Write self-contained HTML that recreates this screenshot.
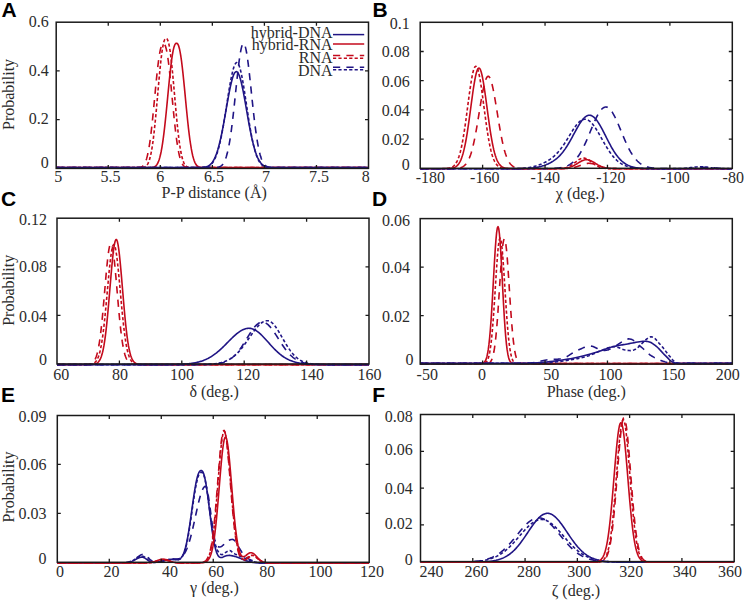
<!DOCTYPE html>
<html><head><meta charset="utf-8"><style>
html,body{margin:0;padding:0;background:#fff;}
svg{display:block;}
text{font-family:'Liberation Serif', serif;font-size:16px;fill:#2b2b2b;}
text.L{font-family:'Liberation Sans',sans-serif;font-weight:bold;font-size:21px;fill:#000;}
</style></head><body>
<svg width="744" height="600" viewBox="0 0 744 600">
<clipPath id='cA'><rect x='56.2' y='22.2' width='312.3' height='149.2'/></clipPath>
<g clip-path='url(#cA)' fill='none' stroke-width='1.6' stroke-linejoin='round'>
<polyline stroke='#c40a1c' points='56.2,167.6 56.9,167.6 57.6,167.6 58.3,167.6 59,167.6 59.7,167.6 60.4,167.6 61.1,167.6 61.8,167.6 62.5,167.6 63.2,167.6 63.9,167.6 64.6,167.6 65.3,167.6 66,167.6 66.7,167.6 67.4,167.6 68.1,167.6 68.8,167.6 69.5,167.6 70.2,167.6 70.9,167.6 71.6,167.6 72.31,167.6 73.01,167.6 73.71,167.6 74.41,167.6 75.11,167.6 75.81,167.6 76.51,167.6 77.21,167.6 77.91,167.6 78.61,167.6 79.31,167.6 80.01,167.6 80.71,167.6 81.41,167.6 82.11,167.6 82.81,167.6 83.51,167.6 84.21,167.6 84.91,167.6 85.61,167.6 86.31,167.6 87.01,167.6 87.71,167.6 88.41,167.6 89.11,167.6 89.81,167.6 90.51,167.6 91.21,167.6 91.91,167.6 92.61,167.6 93.31,167.6 94.01,167.6 94.71,167.6 95.41,167.6 96.11,167.6 96.81,167.6 97.51,167.6 98.21,167.6 98.91,167.6 99.61,167.6 100.31,167.6 101.01,167.6 101.71,167.6 102.41,167.6 103.12,167.6 103.82,167.6 104.52,167.6 105.22,167.6 105.92,167.6 106.62,167.6 107.32,167.6 108.02,167.6 108.72,167.6 109.42,167.6 110.12,167.6 110.82,167.6 111.52,167.6 112.22,167.6 112.92,167.6 113.62,167.6 114.32,167.6 115.02,167.6 115.72,167.6 116.42,167.6 117.12,167.6 117.82,167.6 118.52,167.6 119.22,167.6 119.92,167.6 120.62,167.6 121.32,167.6 122.02,167.6 122.72,167.6 123.42,167.6 124.12,167.6 124.82,167.6 125.52,167.6 126.22,167.6 126.92,167.6 127.62,167.6 128.32,167.6 129.02,167.6 129.72,167.6 130.42,167.6 131.12,167.6 131.82,167.6 132.52,167.6 133.22,167.6 133.92,167.6 134.63,167.6 135.33,167.6 136.03,167.6 136.73,167.6 137.43,167.6 138.13,167.6 138.83,167.6 139.53,167.6 140.23,167.6 140.93,167.6 141.63,167.6 142.33,167.6 143.03,167.6 143.73,167.6 144.43,167.6 145.13,167.6 145.83,167.6 146.53,167.6 147.23,167.59 147.93,167.59 148.63,167.58 149.33,167.57 150.03,167.55 150.73,167.52 151.43,167.47 152.13,167.4 152.83,167.3 153.53,167.15 154.23,166.92 154.93,166.57 155.63,166.08 156.33,165.39 157.03,164.46 157.73,163.24 158.43,161.68 159.13,159.75 159.83,157.39 160.53,154.56 161.23,151.23 161.93,147.35 162.63,142.92 163.33,137.93 164.03,132.4 164.73,126.35 165.43,119.86 166.14,113 166.84,105.86 167.54,98.57 168.24,91.26 168.94,84.06 169.64,77.12 170.34,70.57 171.04,64.54 171.74,59.16 172.44,54.5 173.14,50.63 173.84,47.6 174.54,45.4 175.24,44 175.94,43.32 176.64,43.2 177.34,43.51 178.04,44.46 178.74,46.17 179.44,48.7 180.14,52.07 180.84,56.25 181.54,61.21 182.24,66.86 182.94,73.1 183.64,79.82 184.34,86.88 185.04,94.14 185.74,101.47 186.44,108.71 187.14,115.75 187.84,122.48 188.54,128.8 189.24,134.65 189.94,139.98 190.64,144.74 191.34,148.95 192.04,152.61 192.74,155.74 193.44,158.37 194.14,160.56 194.84,162.34 195.54,163.76 196.24,164.86 196.95,165.69 197.65,166.3 198.35,166.72 199.05,167.02 199.75,167.22 200.45,167.35 201.15,167.44 201.85,167.49 202.55,167.53 203.25,167.56 203.95,167.57 204.65,167.58 205.35,167.59 206.05,167.59 206.75,167.6 207.45,167.6 208.15,167.6 208.85,167.6 209.55,167.6 210.25,167.6 210.95,167.6 211.65,167.6 212.35,167.6 213.05,167.6 213.75,167.6 214.45,167.6 215.15,167.6 215.85,167.6 216.55,167.6 217.25,167.6 217.95,167.6 218.65,167.6 219.35,167.6 220.05,167.6 220.75,167.6 221.45,167.6 222.15,167.6 222.85,167.6 223.55,167.6 224.25,167.6 224.95,167.6 225.65,167.6 226.35,167.6 227.05,167.6 227.75,167.6 228.46,167.6 229.16,167.6 229.86,167.6 230.56,167.6 231.26,167.6 231.96,167.6 232.66,167.6 233.36,167.6 234.06,167.6 234.76,167.6 235.46,167.6 236.16,167.6 236.86,167.6 237.56,167.6 238.26,167.6 238.96,167.6 239.66,167.6 240.36,167.6 241.06,167.6 241.76,167.6 242.46,167.6 243.16,167.6 243.86,167.6 244.56,167.6 245.26,167.6 245.96,167.6 246.66,167.6 247.36,167.6 248.06,167.6 248.76,167.6 249.46,167.6 250.16,167.6 250.86,167.6 251.56,167.6 252.26,167.6 252.96,167.6 253.66,167.6 254.36,167.6 255.06,167.6 255.76,167.6 256.46,167.6 257.16,167.6 257.86,167.6 258.56,167.6 259.27,167.6 259.97,167.6 260.67,167.6 261.37,167.6 262.07,167.6 262.77,167.6 263.47,167.6 264.17,167.6 264.87,167.6 265.57,167.6 266.27,167.6 266.97,167.6 267.67,167.6 268.37,167.6 269.07,167.6 269.77,167.6 270.47,167.6 271.17,167.6 271.87,167.6 272.57,167.6 273.27,167.6 273.97,167.6 274.67,167.6 275.37,167.6 276.07,167.6 276.77,167.6 277.47,167.6 278.17,167.6 278.87,167.6 279.57,167.6 280.27,167.6 280.97,167.6 281.67,167.6 282.37,167.6 283.07,167.6 283.77,167.6 284.47,167.6 285.17,167.6 285.87,167.6 286.57,167.6 287.27,167.6 287.97,167.6 288.67,167.6 289.37,167.6 290.07,167.6 290.78,167.6 291.48,167.6 292.18,167.6 292.88,167.6 293.58,167.6 294.28,167.6 294.98,167.6 295.68,167.6 296.38,167.6 297.08,167.6 297.78,167.6 298.48,167.6 299.18,167.6 299.88,167.6 300.58,167.6 301.28,167.6 301.98,167.6 302.68,167.6 303.38,167.6 304.08,167.6 304.78,167.6 305.48,167.6 306.18,167.6 306.88,167.6 307.58,167.6 308.28,167.6 308.98,167.6 309.68,167.6 310.38,167.6 311.08,167.6 311.78,167.6 312.48,167.6 313.18,167.6 313.88,167.6 314.58,167.6 315.28,167.6 315.98,167.6 316.68,167.6 317.38,167.6 318.08,167.6 318.78,167.6 319.48,167.6 320.18,167.6 320.88,167.6 321.58,167.6 322.29,167.6 322.99,167.6 323.69,167.6 324.39,167.6 325.09,167.6 325.79,167.6 326.49,167.6 327.19,167.6 327.89,167.6 328.59,167.6 329.29,167.6 329.99,167.6 330.69,167.6 331.39,167.6 332.09,167.6 332.79,167.6 333.49,167.6 334.19,167.6 334.89,167.6 335.59,167.6 336.29,167.6 336.99,167.6 337.69,167.6 338.39,167.6 339.09,167.6 339.79,167.6 340.49,167.6 341.19,167.6 341.89,167.6 342.59,167.6 343.29,167.6 343.99,167.6 344.69,167.6 345.39,167.6 346.09,167.6 346.79,167.6 347.49,167.6 348.19,167.6 348.89,167.6 349.59,167.6 350.29,167.6 350.99,167.6 351.69,167.6 352.39,167.6 353.1,167.6 353.8,167.6 354.5,167.6 355.2,167.6 355.9,167.6 356.6,167.6 357.3,167.6 358,167.6 358.7,167.6 359.4,167.6 360.1,167.6 360.8,167.6 361.5,167.6 362.2,167.6 362.9,167.6 363.6,167.6 364.3,167.6 365,167.6 365.7,167.6 366.4,167.6 367.1,167.6 367.8,167.6 368.5,167.6'/>
<polyline stroke='#c40a1c' stroke-dasharray='7.2,6.2' points='56.2,167.6 56.9,167.6 57.6,167.6 58.3,167.6 59,167.6 59.7,167.6 60.4,167.6 61.1,167.6 61.8,167.6 62.5,167.6 63.2,167.6 63.9,167.6 64.6,167.6 65.3,167.6 66,167.6 66.7,167.6 67.4,167.6 68.1,167.6 68.8,167.6 69.5,167.6 70.2,167.6 70.9,167.6 71.6,167.6 72.31,167.6 73.01,167.6 73.71,167.6 74.41,167.6 75.11,167.6 75.81,167.6 76.51,167.6 77.21,167.6 77.91,167.6 78.61,167.6 79.31,167.6 80.01,167.6 80.71,167.6 81.41,167.6 82.11,167.6 82.81,167.6 83.51,167.6 84.21,167.6 84.91,167.6 85.61,167.6 86.31,167.6 87.01,167.6 87.71,167.6 88.41,167.6 89.11,167.6 89.81,167.6 90.51,167.6 91.21,167.6 91.91,167.6 92.61,167.6 93.31,167.6 94.01,167.6 94.71,167.6 95.41,167.6 96.11,167.6 96.81,167.6 97.51,167.6 98.21,167.6 98.91,167.6 99.61,167.6 100.31,167.6 101.01,167.6 101.71,167.6 102.41,167.6 103.12,167.6 103.82,167.6 104.52,167.6 105.22,167.6 105.92,167.6 106.62,167.6 107.32,167.6 108.02,167.6 108.72,167.6 109.42,167.6 110.12,167.6 110.82,167.6 111.52,167.6 112.22,167.6 112.92,167.6 113.62,167.6 114.32,167.6 115.02,167.6 115.72,167.6 116.42,167.6 117.12,167.6 117.82,167.6 118.52,167.6 119.22,167.6 119.92,167.6 120.62,167.6 121.32,167.6 122.02,167.6 122.72,167.6 123.42,167.6 124.12,167.6 124.82,167.6 125.52,167.6 126.22,167.6 126.92,167.6 127.62,167.6 128.32,167.6 129.02,167.6 129.72,167.6 130.42,167.6 131.12,167.6 131.82,167.6 132.52,167.6 133.22,167.6 133.92,167.59 134.63,167.59 135.33,167.59 136.03,167.58 136.73,167.56 137.43,167.54 138.13,167.51 138.83,167.46 139.53,167.38 140.23,167.27 140.93,167.09 141.63,166.83 142.33,166.44 143.03,165.89 143.73,165.12 144.43,164.09 145.13,162.74 145.83,161.03 146.53,158.91 147.23,156.35 147.93,153.29 148.63,149.7 149.33,145.54 150.03,140.81 150.73,135.52 151.43,129.68 152.13,123.34 152.83,116.58 153.53,109.5 154.23,102.19 154.93,94.8 155.63,87.46 156.33,80.31 157.03,73.52 157.73,67.2 158.43,61.5 159.13,56.5 159.83,52.3 160.53,48.94 161.23,46.43 161.93,44.76 162.63,43.86 163.33,43.6 164.03,43.77 164.73,44.54 165.43,46.06 166.14,48.4 166.84,51.61 167.54,55.65 168.24,60.5 168.94,66.08 169.64,72.29 170.34,79.01 171.04,86.1 171.74,93.41 172.44,100.81 173.14,108.14 173.84,115.28 174.54,122.1 175.24,128.52 175.94,134.46 176.64,139.86 177.34,144.7 178.04,148.96 178.74,152.66 179.44,155.82 180.14,158.47 180.84,160.66 181.54,162.44 182.24,163.86 182.94,164.95 183.64,165.77 184.34,166.36 185.04,166.77 185.74,167.05 186.44,167.24 187.14,167.37 187.84,167.45 188.54,167.5 189.24,167.54 189.94,167.56 190.64,167.57 191.34,167.58 192.04,167.59 192.74,167.59 193.44,167.6 194.14,167.6 194.84,167.6 195.54,167.6 196.24,167.6 196.95,167.6 197.65,167.6 198.35,167.6 199.05,167.6 199.75,167.6 200.45,167.6 201.15,167.6 201.85,167.6 202.55,167.6 203.25,167.6 203.95,167.6 204.65,167.6 205.35,167.6 206.05,167.6 206.75,167.6 207.45,167.6 208.15,167.6 208.85,167.6 209.55,167.6 210.25,167.6 210.95,167.6 211.65,167.6 212.35,167.6 213.05,167.6 213.75,167.6 214.45,167.6 215.15,167.6 215.85,167.6 216.55,167.6 217.25,167.6 217.95,167.6 218.65,167.6 219.35,167.6 220.05,167.6 220.75,167.6 221.45,167.6 222.15,167.6 222.85,167.6 223.55,167.6 224.25,167.6 224.95,167.6 225.65,167.6 226.35,167.6 227.05,167.6 227.75,167.6 228.46,167.6 229.16,167.6 229.86,167.6 230.56,167.6 231.26,167.6 231.96,167.6 232.66,167.6 233.36,167.6 234.06,167.6 234.76,167.6 235.46,167.6 236.16,167.6 236.86,167.6 237.56,167.6 238.26,167.6 238.96,167.6 239.66,167.6 240.36,167.6 241.06,167.6 241.76,167.6 242.46,167.6 243.16,167.6 243.86,167.6 244.56,167.6 245.26,167.6 245.96,167.6 246.66,167.6 247.36,167.6 248.06,167.6 248.76,167.6 249.46,167.6 250.16,167.6 250.86,167.6 251.56,167.6 252.26,167.6 252.96,167.6 253.66,167.6 254.36,167.6 255.06,167.6 255.76,167.6 256.46,167.6 257.16,167.6 257.86,167.6 258.56,167.6 259.27,167.6 259.97,167.6 260.67,167.6 261.37,167.6 262.07,167.6 262.77,167.6 263.47,167.6 264.17,167.6 264.87,167.6 265.57,167.6 266.27,167.6 266.97,167.6 267.67,167.6 268.37,167.6 269.07,167.6 269.77,167.6 270.47,167.6 271.17,167.6 271.87,167.6 272.57,167.6 273.27,167.6 273.97,167.6 274.67,167.6 275.37,167.6 276.07,167.6 276.77,167.6 277.47,167.6 278.17,167.6 278.87,167.6 279.57,167.6 280.27,167.6 280.97,167.6 281.67,167.6 282.37,167.6 283.07,167.6 283.77,167.6 284.47,167.6 285.17,167.6 285.87,167.6 286.57,167.6 287.27,167.6 287.97,167.6 288.67,167.6 289.37,167.6 290.07,167.6 290.78,167.6 291.48,167.6 292.18,167.6 292.88,167.6 293.58,167.6 294.28,167.6 294.98,167.6 295.68,167.6 296.38,167.6 297.08,167.6 297.78,167.6 298.48,167.6 299.18,167.6 299.88,167.6 300.58,167.6 301.28,167.6 301.98,167.6 302.68,167.6 303.38,167.6 304.08,167.6 304.78,167.6 305.48,167.6 306.18,167.6 306.88,167.6 307.58,167.6 308.28,167.6 308.98,167.6 309.68,167.6 310.38,167.6 311.08,167.6 311.78,167.6 312.48,167.6 313.18,167.6 313.88,167.6 314.58,167.6 315.28,167.6 315.98,167.6 316.68,167.6 317.38,167.6 318.08,167.6 318.78,167.6 319.48,167.6 320.18,167.6 320.88,167.6 321.58,167.6 322.29,167.6 322.99,167.6 323.69,167.6 324.39,167.6 325.09,167.6 325.79,167.6 326.49,167.6 327.19,167.6 327.89,167.6 328.59,167.6 329.29,167.6 329.99,167.6 330.69,167.6 331.39,167.6 332.09,167.6 332.79,167.6 333.49,167.6 334.19,167.6 334.89,167.6 335.59,167.6 336.29,167.6 336.99,167.6 337.69,167.6 338.39,167.6 339.09,167.6 339.79,167.6 340.49,167.6 341.19,167.6 341.89,167.6 342.59,167.6 343.29,167.6 343.99,167.6 344.69,167.6 345.39,167.6 346.09,167.6 346.79,167.6 347.49,167.6 348.19,167.6 348.89,167.6 349.59,167.6 350.29,167.6 350.99,167.6 351.69,167.6 352.39,167.6 353.1,167.6 353.8,167.6 354.5,167.6 355.2,167.6 355.9,167.6 356.6,167.6 357.3,167.6 358,167.6 358.7,167.6 359.4,167.6 360.1,167.6 360.8,167.6 361.5,167.6 362.2,167.6 362.9,167.6 363.6,167.6 364.3,167.6 365,167.6 365.7,167.6 366.4,167.6 367.1,167.6 367.8,167.6 368.5,167.6'/>
<polyline stroke='#c40a1c' stroke-dasharray='3.2,2.2' points='56.2,167.6 56.9,167.6 57.6,167.6 58.3,167.6 59,167.6 59.7,167.6 60.4,167.6 61.1,167.6 61.8,167.6 62.5,167.6 63.2,167.6 63.9,167.6 64.6,167.6 65.3,167.6 66,167.6 66.7,167.6 67.4,167.6 68.1,167.6 68.8,167.6 69.5,167.6 70.2,167.6 70.9,167.6 71.6,167.6 72.31,167.6 73.01,167.6 73.71,167.6 74.41,167.6 75.11,167.6 75.81,167.6 76.51,167.6 77.21,167.6 77.91,167.6 78.61,167.6 79.31,167.6 80.01,167.6 80.71,167.6 81.41,167.6 82.11,167.6 82.81,167.6 83.51,167.6 84.21,167.6 84.91,167.6 85.61,167.6 86.31,167.6 87.01,167.6 87.71,167.6 88.41,167.6 89.11,167.6 89.81,167.6 90.51,167.6 91.21,167.6 91.91,167.6 92.61,167.6 93.31,167.6 94.01,167.6 94.71,167.6 95.41,167.6 96.11,167.6 96.81,167.6 97.51,167.6 98.21,167.6 98.91,167.6 99.61,167.6 100.31,167.6 101.01,167.6 101.71,167.6 102.41,167.6 103.12,167.6 103.82,167.6 104.52,167.6 105.22,167.6 105.92,167.6 106.62,167.6 107.32,167.6 108.02,167.6 108.72,167.6 109.42,167.6 110.12,167.6 110.82,167.6 111.52,167.6 112.22,167.6 112.92,167.6 113.62,167.6 114.32,167.6 115.02,167.6 115.72,167.6 116.42,167.6 117.12,167.6 117.82,167.6 118.52,167.6 119.22,167.6 119.92,167.6 120.62,167.6 121.32,167.6 122.02,167.6 122.72,167.6 123.42,167.6 124.12,167.6 124.82,167.6 125.52,167.6 126.22,167.6 126.92,167.6 127.62,167.6 128.32,167.6 129.02,167.6 129.72,167.6 130.42,167.6 131.12,167.6 131.82,167.6 132.52,167.6 133.22,167.6 133.92,167.6 134.63,167.6 135.33,167.6 136.03,167.6 136.73,167.6 137.43,167.6 138.13,167.59 138.83,167.59 139.53,167.58 140.23,167.57 140.93,167.54 141.63,167.51 142.33,167.46 143.03,167.38 143.73,167.26 144.43,167.07 145.13,166.79 145.83,166.36 146.53,165.74 147.23,164.87 147.93,163.7 148.63,162.17 149.33,160.23 150.03,157.82 150.73,154.89 151.43,151.4 152.13,147.29 152.83,142.54 153.53,137.15 154.23,131.14 154.93,124.53 155.63,117.42 156.33,109.89 157.03,102.06 157.73,94.09 158.43,86.12 159.13,78.33 159.83,70.89 160.53,63.97 161.23,57.71 161.93,52.23 162.63,47.63 163.33,43.97 164.03,41.28 164.73,39.52 165.43,38.61 166.14,38.4 166.84,38.67 167.54,39.66 168.24,41.51 168.94,44.3 169.64,48.05 170.34,52.74 171.04,58.3 171.74,64.64 172.44,71.62 173.14,79.1 173.84,86.91 174.54,94.89 175.24,102.86 175.94,110.66 176.64,118.16 177.34,125.22 178.04,131.77 178.74,137.72 179.44,143.05 180.14,147.73 180.84,151.77 181.54,155.21 182.24,158.09 182.94,160.44 183.64,162.34 184.34,163.83 185.04,164.97 185.74,165.81 186.44,166.41 187.14,166.82 187.84,167.09 188.54,167.28 189.24,167.39 189.94,167.47 190.64,167.52 191.34,167.55 192.04,167.57 192.74,167.58 193.44,167.59 194.14,167.59 194.84,167.6 195.54,167.6 196.24,167.6 196.95,167.6 197.65,167.6 198.35,167.6 199.05,167.6 199.75,167.6 200.45,167.6 201.15,167.6 201.85,167.6 202.55,167.6 203.25,167.6 203.95,167.6 204.65,167.6 205.35,167.6 206.05,167.6 206.75,167.6 207.45,167.6 208.15,167.6 208.85,167.6 209.55,167.6 210.25,167.6 210.95,167.6 211.65,167.6 212.35,167.6 213.05,167.6 213.75,167.6 214.45,167.6 215.15,167.6 215.85,167.6 216.55,167.6 217.25,167.6 217.95,167.6 218.65,167.6 219.35,167.6 220.05,167.6 220.75,167.6 221.45,167.6 222.15,167.6 222.85,167.6 223.55,167.6 224.25,167.6 224.95,167.6 225.65,167.6 226.35,167.6 227.05,167.6 227.75,167.6 228.46,167.6 229.16,167.6 229.86,167.6 230.56,167.6 231.26,167.6 231.96,167.6 232.66,167.6 233.36,167.6 234.06,167.6 234.76,167.6 235.46,167.6 236.16,167.6 236.86,167.6 237.56,167.6 238.26,167.6 238.96,167.6 239.66,167.6 240.36,167.6 241.06,167.6 241.76,167.6 242.46,167.6 243.16,167.6 243.86,167.6 244.56,167.6 245.26,167.6 245.96,167.6 246.66,167.6 247.36,167.6 248.06,167.6 248.76,167.6 249.46,167.6 250.16,167.6 250.86,167.6 251.56,167.6 252.26,167.6 252.96,167.6 253.66,167.6 254.36,167.6 255.06,167.6 255.76,167.6 256.46,167.6 257.16,167.6 257.86,167.6 258.56,167.6 259.27,167.6 259.97,167.6 260.67,167.6 261.37,167.6 262.07,167.6 262.77,167.6 263.47,167.6 264.17,167.6 264.87,167.6 265.57,167.6 266.27,167.6 266.97,167.6 267.67,167.6 268.37,167.6 269.07,167.6 269.77,167.6 270.47,167.6 271.17,167.6 271.87,167.6 272.57,167.6 273.27,167.6 273.97,167.6 274.67,167.6 275.37,167.6 276.07,167.6 276.77,167.6 277.47,167.6 278.17,167.6 278.87,167.6 279.57,167.6 280.27,167.6 280.97,167.6 281.67,167.6 282.37,167.6 283.07,167.6 283.77,167.6 284.47,167.6 285.17,167.6 285.87,167.6 286.57,167.6 287.27,167.6 287.97,167.6 288.67,167.6 289.37,167.6 290.07,167.6 290.78,167.6 291.48,167.6 292.18,167.6 292.88,167.6 293.58,167.6 294.28,167.6 294.98,167.6 295.68,167.6 296.38,167.6 297.08,167.6 297.78,167.6 298.48,167.6 299.18,167.6 299.88,167.6 300.58,167.6 301.28,167.6 301.98,167.6 302.68,167.6 303.38,167.6 304.08,167.6 304.78,167.6 305.48,167.6 306.18,167.6 306.88,167.6 307.58,167.6 308.28,167.6 308.98,167.6 309.68,167.6 310.38,167.6 311.08,167.6 311.78,167.6 312.48,167.6 313.18,167.6 313.88,167.6 314.58,167.6 315.28,167.6 315.98,167.6 316.68,167.6 317.38,167.6 318.08,167.6 318.78,167.6 319.48,167.6 320.18,167.6 320.88,167.6 321.58,167.6 322.29,167.6 322.99,167.6 323.69,167.6 324.39,167.6 325.09,167.6 325.79,167.6 326.49,167.6 327.19,167.6 327.89,167.6 328.59,167.6 329.29,167.6 329.99,167.6 330.69,167.6 331.39,167.6 332.09,167.6 332.79,167.6 333.49,167.6 334.19,167.6 334.89,167.6 335.59,167.6 336.29,167.6 336.99,167.6 337.69,167.6 338.39,167.6 339.09,167.6 339.79,167.6 340.49,167.6 341.19,167.6 341.89,167.6 342.59,167.6 343.29,167.6 343.99,167.6 344.69,167.6 345.39,167.6 346.09,167.6 346.79,167.6 347.49,167.6 348.19,167.6 348.89,167.6 349.59,167.6 350.29,167.6 350.99,167.6 351.69,167.6 352.39,167.6 353.1,167.6 353.8,167.6 354.5,167.6 355.2,167.6 355.9,167.6 356.6,167.6 357.3,167.6 358,167.6 358.7,167.6 359.4,167.6 360.1,167.6 360.8,167.6 361.5,167.6 362.2,167.6 362.9,167.6 363.6,167.6 364.3,167.6 365,167.6 365.7,167.6 366.4,167.6 367.1,167.6 367.8,167.6 368.5,167.6'/>
<polyline stroke='#201585' points='56.2,167.6 56.9,167.6 57.6,167.6 58.3,167.6 59,167.6 59.7,167.6 60.4,167.6 61.1,167.6 61.8,167.6 62.5,167.6 63.2,167.6 63.9,167.6 64.6,167.6 65.3,167.6 66,167.6 66.7,167.6 67.4,167.6 68.1,167.6 68.8,167.6 69.5,167.6 70.2,167.6 70.9,167.6 71.6,167.6 72.31,167.6 73.01,167.6 73.71,167.6 74.41,167.6 75.11,167.6 75.81,167.6 76.51,167.6 77.21,167.6 77.91,167.6 78.61,167.6 79.31,167.6 80.01,167.6 80.71,167.6 81.41,167.6 82.11,167.6 82.81,167.6 83.51,167.6 84.21,167.6 84.91,167.6 85.61,167.6 86.31,167.6 87.01,167.6 87.71,167.6 88.41,167.6 89.11,167.6 89.81,167.6 90.51,167.6 91.21,167.6 91.91,167.6 92.61,167.6 93.31,167.6 94.01,167.6 94.71,167.6 95.41,167.6 96.11,167.6 96.81,167.6 97.51,167.6 98.21,167.6 98.91,167.6 99.61,167.6 100.31,167.6 101.01,167.6 101.71,167.6 102.41,167.6 103.12,167.6 103.82,167.6 104.52,167.6 105.22,167.6 105.92,167.6 106.62,167.6 107.32,167.6 108.02,167.6 108.72,167.6 109.42,167.6 110.12,167.6 110.82,167.6 111.52,167.6 112.22,167.6 112.92,167.6 113.62,167.6 114.32,167.6 115.02,167.6 115.72,167.6 116.42,167.6 117.12,167.6 117.82,167.6 118.52,167.6 119.22,167.6 119.92,167.6 120.62,167.6 121.32,167.6 122.02,167.6 122.72,167.6 123.42,167.6 124.12,167.6 124.82,167.6 125.52,167.6 126.22,167.6 126.92,167.6 127.62,167.6 128.32,167.6 129.02,167.6 129.72,167.6 130.42,167.6 131.12,167.6 131.82,167.6 132.52,167.6 133.22,167.6 133.92,167.6 134.63,167.6 135.33,167.6 136.03,167.6 136.73,167.6 137.43,167.6 138.13,167.6 138.83,167.6 139.53,167.6 140.23,167.6 140.93,167.6 141.63,167.6 142.33,167.6 143.03,167.6 143.73,167.6 144.43,167.6 145.13,167.6 145.83,167.6 146.53,167.6 147.23,167.6 147.93,167.6 148.63,167.6 149.33,167.6 150.03,167.6 150.73,167.6 151.43,167.6 152.13,167.6 152.83,167.6 153.53,167.6 154.23,167.6 154.93,167.6 155.63,167.6 156.33,167.6 157.03,167.6 157.73,167.6 158.43,167.6 159.13,167.6 159.83,167.6 160.53,167.6 161.23,167.6 161.93,167.6 162.63,167.6 163.33,167.6 164.03,167.6 164.73,167.6 165.43,167.6 166.14,167.6 166.84,167.6 167.54,167.6 168.24,167.6 168.94,167.6 169.64,167.6 170.34,167.6 171.04,167.6 171.74,167.6 172.44,167.6 173.14,167.6 173.84,167.6 174.54,167.6 175.24,167.6 175.94,167.6 176.64,167.6 177.34,167.6 178.04,167.6 178.74,167.6 179.44,167.6 180.14,167.6 180.84,167.6 181.54,167.6 182.24,167.6 182.94,167.6 183.64,167.6 184.34,167.6 185.04,167.6 185.74,167.6 186.44,167.6 187.14,167.6 187.84,167.6 188.54,167.6 189.24,167.6 189.94,167.6 190.64,167.6 191.34,167.6 192.04,167.6 192.74,167.6 193.44,167.59 194.14,167.59 194.84,167.59 195.54,167.58 196.24,167.58 196.95,167.57 197.65,167.56 198.35,167.55 199.05,167.54 199.75,167.52 200.45,167.5 201.15,167.47 201.85,167.43 202.55,167.38 203.25,167.32 203.95,167.24 204.65,167.14 205.35,167.01 206.05,166.85 206.75,166.64 207.45,166.38 208.15,166.06 208.85,165.67 209.55,165.19 210.25,164.62 210.95,163.95 211.65,163.16 212.35,162.24 213.05,161.19 213.75,159.99 214.45,158.64 215.15,157.12 215.85,155.42 216.55,153.55 217.25,151.47 217.95,149.2 218.65,146.73 219.35,144.06 220.05,141.18 220.75,138.1 221.45,134.84 222.15,131.4 222.85,127.8 223.55,124.06 224.25,120.2 224.95,116.26 225.65,112.25 226.35,108.22 227.05,104.21 227.75,100.25 228.46,96.38 229.16,92.66 229.86,89.11 230.56,85.79 231.26,82.74 231.96,79.99 232.66,77.58 233.36,75.55 234.06,73.91 234.76,72.7 235.46,71.93 236.16,71.61 236.86,71.74 237.56,72.33 238.26,73.37 238.96,74.83 239.66,76.71 240.36,78.97 241.06,81.58 241.76,84.52 242.46,87.73 243.16,91.19 243.86,94.85 244.56,98.66 245.26,102.59 245.96,106.59 246.66,110.61 247.36,114.63 248.06,118.61 248.76,122.51 249.46,126.3 250.16,129.96 250.86,133.46 251.56,136.8 252.26,139.95 252.96,142.91 253.66,145.67 254.36,148.22 255.06,150.57 255.76,152.73 256.46,154.68 257.16,156.45 257.86,158.04 258.56,159.46 259.27,160.72 259.97,161.83 260.67,162.8 261.37,163.64 262.07,164.36 262.77,164.97 263.47,165.49 264.17,165.91 264.87,166.26 265.57,166.54 266.27,166.77 266.97,166.95 267.67,167.09 268.37,167.2 269.07,167.29 269.77,167.36 270.47,167.41 271.17,167.46 271.87,167.49 272.57,167.51 273.27,167.53 273.97,167.55 274.67,167.56 275.37,167.57 276.07,167.58 276.77,167.58 277.47,167.59 278.17,167.59 278.87,167.59 279.57,167.59 280.27,167.6 280.97,167.6 281.67,167.6 282.37,167.6 283.07,167.6 283.77,167.6 284.47,167.6 285.17,167.6 285.87,167.6 286.57,167.6 287.27,167.6 287.97,167.6 288.67,167.6 289.37,167.6 290.07,167.6 290.78,167.6 291.48,167.6 292.18,167.6 292.88,167.6 293.58,167.6 294.28,167.6 294.98,167.6 295.68,167.6 296.38,167.6 297.08,167.6 297.78,167.6 298.48,167.6 299.18,167.6 299.88,167.6 300.58,167.6 301.28,167.6 301.98,167.6 302.68,167.6 303.38,167.6 304.08,167.6 304.78,167.6 305.48,167.6 306.18,167.6 306.88,167.6 307.58,167.6 308.28,167.6 308.98,167.6 309.68,167.6 310.38,167.6 311.08,167.6 311.78,167.6 312.48,167.6 313.18,167.6 313.88,167.6 314.58,167.6 315.28,167.6 315.98,167.6 316.68,167.6 317.38,167.6 318.08,167.6 318.78,167.6 319.48,167.6 320.18,167.6 320.88,167.6 321.58,167.6 322.29,167.6 322.99,167.6 323.69,167.6 324.39,167.6 325.09,167.6 325.79,167.6 326.49,167.6 327.19,167.6 327.89,167.6 328.59,167.6 329.29,167.6 329.99,167.6 330.69,167.6 331.39,167.6 332.09,167.6 332.79,167.6 333.49,167.6 334.19,167.6 334.89,167.6 335.59,167.6 336.29,167.6 336.99,167.6 337.69,167.6 338.39,167.6 339.09,167.6 339.79,167.6 340.49,167.6 341.19,167.6 341.89,167.6 342.59,167.6 343.29,167.6 343.99,167.6 344.69,167.6 345.39,167.6 346.09,167.6 346.79,167.6 347.49,167.6 348.19,167.6 348.89,167.6 349.59,167.6 350.29,167.6 350.99,167.6 351.69,167.6 352.39,167.6 353.1,167.6 353.8,167.6 354.5,167.6 355.2,167.6 355.9,167.6 356.6,167.6 357.3,167.6 358,167.6 358.7,167.6 359.4,167.6 360.1,167.6 360.8,167.6 361.5,167.6 362.2,167.6 362.9,167.6 363.6,167.6 364.3,167.6 365,167.6 365.7,167.6 366.4,167.6 367.1,167.6 367.8,167.6 368.5,167.6'/>
<polyline stroke='#201585' stroke-dasharray='3.2,2.2' points='56.2,167.6 56.9,167.6 57.6,167.6 58.3,167.6 59,167.6 59.7,167.6 60.4,167.6 61.1,167.6 61.8,167.6 62.5,167.6 63.2,167.6 63.9,167.6 64.6,167.6 65.3,167.6 66,167.6 66.7,167.6 67.4,167.6 68.1,167.6 68.8,167.6 69.5,167.6 70.2,167.6 70.9,167.6 71.6,167.6 72.31,167.6 73.01,167.6 73.71,167.6 74.41,167.6 75.11,167.6 75.81,167.6 76.51,167.6 77.21,167.6 77.91,167.6 78.61,167.6 79.31,167.6 80.01,167.6 80.71,167.6 81.41,167.6 82.11,167.6 82.81,167.6 83.51,167.6 84.21,167.6 84.91,167.6 85.61,167.6 86.31,167.6 87.01,167.6 87.71,167.6 88.41,167.6 89.11,167.6 89.81,167.6 90.51,167.6 91.21,167.6 91.91,167.6 92.61,167.6 93.31,167.6 94.01,167.6 94.71,167.6 95.41,167.6 96.11,167.6 96.81,167.6 97.51,167.6 98.21,167.6 98.91,167.6 99.61,167.6 100.31,167.6 101.01,167.6 101.71,167.6 102.41,167.6 103.12,167.6 103.82,167.6 104.52,167.6 105.22,167.6 105.92,167.6 106.62,167.6 107.32,167.6 108.02,167.6 108.72,167.6 109.42,167.6 110.12,167.6 110.82,167.6 111.52,167.6 112.22,167.6 112.92,167.6 113.62,167.6 114.32,167.6 115.02,167.6 115.72,167.6 116.42,167.6 117.12,167.6 117.82,167.6 118.52,167.6 119.22,167.6 119.92,167.6 120.62,167.6 121.32,167.6 122.02,167.6 122.72,167.6 123.42,167.6 124.12,167.6 124.82,167.6 125.52,167.6 126.22,167.6 126.92,167.6 127.62,167.6 128.32,167.6 129.02,167.6 129.72,167.6 130.42,167.6 131.12,167.6 131.82,167.6 132.52,167.6 133.22,167.6 133.92,167.6 134.63,167.6 135.33,167.6 136.03,167.6 136.73,167.6 137.43,167.6 138.13,167.6 138.83,167.6 139.53,167.6 140.23,167.6 140.93,167.6 141.63,167.6 142.33,167.6 143.03,167.6 143.73,167.6 144.43,167.6 145.13,167.6 145.83,167.6 146.53,167.6 147.23,167.6 147.93,167.6 148.63,167.6 149.33,167.6 150.03,167.6 150.73,167.6 151.43,167.6 152.13,167.6 152.83,167.6 153.53,167.6 154.23,167.6 154.93,167.6 155.63,167.6 156.33,167.6 157.03,167.6 157.73,167.6 158.43,167.6 159.13,167.6 159.83,167.6 160.53,167.6 161.23,167.6 161.93,167.6 162.63,167.6 163.33,167.6 164.03,167.6 164.73,167.6 165.43,167.6 166.14,167.6 166.84,167.6 167.54,167.6 168.24,167.6 168.94,167.6 169.64,167.6 170.34,167.6 171.04,167.6 171.74,167.6 172.44,167.6 173.14,167.6 173.84,167.6 174.54,167.6 175.24,167.6 175.94,167.6 176.64,167.6 177.34,167.6 178.04,167.6 178.74,167.6 179.44,167.6 180.14,167.6 180.84,167.6 181.54,167.6 182.24,167.6 182.94,167.6 183.64,167.6 184.34,167.6 185.04,167.6 185.74,167.6 186.44,167.6 187.14,167.6 187.84,167.6 188.54,167.6 189.24,167.6 189.94,167.6 190.64,167.6 191.34,167.6 192.04,167.6 192.74,167.6 193.44,167.6 194.14,167.59 194.84,167.59 195.54,167.59 196.24,167.59 196.95,167.58 197.65,167.58 198.35,167.57 199.05,167.56 199.75,167.55 200.45,167.53 201.15,167.51 201.85,167.48 202.55,167.45 203.25,167.4 203.95,167.34 204.65,167.26 205.35,167.16 206.05,167.04 206.75,166.87 207.45,166.67 208.15,166.4 208.85,166.08 209.55,165.68 210.25,165.18 210.95,164.59 211.65,163.88 212.35,163.05 213.05,162.08 213.75,160.97 214.45,159.69 215.15,158.24 215.85,156.61 216.55,154.78 217.25,152.74 217.95,150.49 218.65,148.01 219.35,145.31 220.05,142.37 220.75,139.21 221.45,135.81 222.15,132.21 222.85,128.39 223.55,124.4 224.25,120.24 224.95,115.95 225.65,111.55 226.35,107.09 227.05,102.59 227.75,98.12 228.46,93.71 229.16,89.41 229.86,85.27 230.56,81.34 231.26,77.67 231.96,74.31 232.66,71.3 233.36,68.69 234.06,66.51 234.76,64.78 235.46,63.55 236.16,62.82 236.86,62.6 237.56,62.93 238.26,63.81 238.96,65.24 239.66,67.19 240.36,69.63 241.06,72.52 241.76,75.82 242.46,79.48 243.16,83.45 243.86,87.67 244.56,92.09 245.26,96.65 245.96,101.3 246.66,105.97 247.36,110.63 248.06,115.23 248.76,119.72 249.46,124.07 250.16,128.24 250.86,132.21 251.56,135.97 252.26,139.48 252.96,142.76 253.66,145.78 254.36,148.55 255.06,151.08 255.76,153.36 256.46,155.42 257.16,157.25 257.86,158.87 258.56,160.3 259.27,161.55 259.97,162.63 260.67,163.55 261.37,164.34 262.07,165 262.77,165.54 263.47,165.99 264.17,166.34 264.87,166.63 265.57,166.85 266.27,167.02 266.97,167.16 267.67,167.26 268.37,167.34 269.07,167.4 269.77,167.45 270.47,167.49 271.17,167.51 271.87,167.53 272.57,167.55 273.27,167.56 273.97,167.57 274.67,167.58 275.37,167.58 276.07,167.59 276.77,167.59 277.47,167.59 278.17,167.6 278.87,167.6 279.57,167.6 280.27,167.6 280.97,167.6 281.67,167.6 282.37,167.6 283.07,167.6 283.77,167.6 284.47,167.6 285.17,167.6 285.87,167.6 286.57,167.6 287.27,167.6 287.97,167.6 288.67,167.6 289.37,167.6 290.07,167.6 290.78,167.6 291.48,167.6 292.18,167.6 292.88,167.6 293.58,167.6 294.28,167.6 294.98,167.6 295.68,167.6 296.38,167.6 297.08,167.6 297.78,167.6 298.48,167.6 299.18,167.6 299.88,167.6 300.58,167.6 301.28,167.6 301.98,167.6 302.68,167.6 303.38,167.6 304.08,167.6 304.78,167.6 305.48,167.6 306.18,167.6 306.88,167.6 307.58,167.6 308.28,167.6 308.98,167.6 309.68,167.6 310.38,167.6 311.08,167.6 311.78,167.6 312.48,167.6 313.18,167.6 313.88,167.6 314.58,167.6 315.28,167.6 315.98,167.6 316.68,167.6 317.38,167.6 318.08,167.6 318.78,167.6 319.48,167.6 320.18,167.6 320.88,167.6 321.58,167.6 322.29,167.6 322.99,167.6 323.69,167.6 324.39,167.6 325.09,167.6 325.79,167.6 326.49,167.6 327.19,167.6 327.89,167.6 328.59,167.6 329.29,167.6 329.99,167.6 330.69,167.6 331.39,167.6 332.09,167.6 332.79,167.6 333.49,167.6 334.19,167.6 334.89,167.6 335.59,167.6 336.29,167.6 336.99,167.6 337.69,167.6 338.39,167.6 339.09,167.6 339.79,167.6 340.49,167.6 341.19,167.6 341.89,167.6 342.59,167.6 343.29,167.6 343.99,167.6 344.69,167.6 345.39,167.6 346.09,167.6 346.79,167.6 347.49,167.6 348.19,167.6 348.89,167.6 349.59,167.6 350.29,167.6 350.99,167.6 351.69,167.6 352.39,167.6 353.1,167.6 353.8,167.6 354.5,167.6 355.2,167.6 355.9,167.6 356.6,167.6 357.3,167.6 358,167.6 358.7,167.6 359.4,167.6 360.1,167.6 360.8,167.6 361.5,167.6 362.2,167.6 362.9,167.6 363.6,167.6 364.3,167.6 365,167.6 365.7,167.6 366.4,167.6 367.1,167.6 367.8,167.6 368.5,167.6'/>
<polyline stroke='#201585' stroke-dasharray='7.2,6.2' points='56.2,167.6 56.9,167.6 57.6,167.6 58.3,167.6 59,167.6 59.7,167.6 60.4,167.6 61.1,167.6 61.8,167.6 62.5,167.6 63.2,167.6 63.9,167.6 64.6,167.6 65.3,167.6 66,167.6 66.7,167.6 67.4,167.6 68.1,167.6 68.8,167.6 69.5,167.6 70.2,167.6 70.9,167.6 71.6,167.6 72.31,167.6 73.01,167.6 73.71,167.6 74.41,167.6 75.11,167.6 75.81,167.6 76.51,167.6 77.21,167.6 77.91,167.6 78.61,167.6 79.31,167.6 80.01,167.6 80.71,167.6 81.41,167.6 82.11,167.6 82.81,167.6 83.51,167.6 84.21,167.6 84.91,167.6 85.61,167.6 86.31,167.6 87.01,167.6 87.71,167.6 88.41,167.6 89.11,167.6 89.81,167.6 90.51,167.6 91.21,167.6 91.91,167.6 92.61,167.6 93.31,167.6 94.01,167.6 94.71,167.6 95.41,167.6 96.11,167.6 96.81,167.6 97.51,167.6 98.21,167.6 98.91,167.6 99.61,167.6 100.31,167.6 101.01,167.6 101.71,167.6 102.41,167.6 103.12,167.6 103.82,167.6 104.52,167.6 105.22,167.6 105.92,167.6 106.62,167.6 107.32,167.6 108.02,167.6 108.72,167.6 109.42,167.6 110.12,167.6 110.82,167.6 111.52,167.6 112.22,167.6 112.92,167.6 113.62,167.6 114.32,167.6 115.02,167.6 115.72,167.6 116.42,167.6 117.12,167.6 117.82,167.6 118.52,167.6 119.22,167.6 119.92,167.6 120.62,167.6 121.32,167.6 122.02,167.6 122.72,167.6 123.42,167.6 124.12,167.6 124.82,167.6 125.52,167.6 126.22,167.6 126.92,167.6 127.62,167.6 128.32,167.6 129.02,167.6 129.72,167.6 130.42,167.6 131.12,167.6 131.82,167.6 132.52,167.6 133.22,167.6 133.92,167.6 134.63,167.6 135.33,167.6 136.03,167.6 136.73,167.6 137.43,167.6 138.13,167.6 138.83,167.6 139.53,167.6 140.23,167.6 140.93,167.6 141.63,167.6 142.33,167.6 143.03,167.6 143.73,167.6 144.43,167.6 145.13,167.6 145.83,167.6 146.53,167.6 147.23,167.6 147.93,167.6 148.63,167.6 149.33,167.6 150.03,167.6 150.73,167.6 151.43,167.6 152.13,167.6 152.83,167.6 153.53,167.6 154.23,167.6 154.93,167.6 155.63,167.6 156.33,167.6 157.03,167.6 157.73,167.6 158.43,167.6 159.13,167.6 159.83,167.6 160.53,167.6 161.23,167.6 161.93,167.6 162.63,167.6 163.33,167.6 164.03,167.6 164.73,167.6 165.43,167.6 166.14,167.6 166.84,167.6 167.54,167.6 168.24,167.6 168.94,167.6 169.64,167.6 170.34,167.6 171.04,167.6 171.74,167.6 172.44,167.6 173.14,167.6 173.84,167.6 174.54,167.6 175.24,167.6 175.94,167.6 176.64,167.6 177.34,167.6 178.04,167.6 178.74,167.6 179.44,167.6 180.14,167.6 180.84,167.6 181.54,167.6 182.24,167.6 182.94,167.6 183.64,167.6 184.34,167.6 185.04,167.6 185.74,167.6 186.44,167.6 187.14,167.6 187.84,167.6 188.54,167.6 189.24,167.6 189.94,167.6 190.64,167.6 191.34,167.6 192.04,167.6 192.74,167.6 193.44,167.6 194.14,167.6 194.84,167.6 195.54,167.6 196.24,167.6 196.95,167.6 197.65,167.6 198.35,167.6 199.05,167.6 199.75,167.6 200.45,167.6 201.15,167.6 201.85,167.6 202.55,167.6 203.25,167.6 203.95,167.6 204.65,167.6 205.35,167.6 206.05,167.6 206.75,167.6 207.45,167.6 208.15,167.6 208.85,167.6 209.55,167.59 210.25,167.59 210.95,167.59 211.65,167.58 212.35,167.57 213.05,167.56 213.75,167.55 214.45,167.53 215.15,167.5 215.85,167.46 216.55,167.4 217.25,167.33 217.95,167.22 218.65,167.07 219.35,166.86 220.05,166.58 220.75,166.21 221.45,165.71 222.15,165.06 222.85,164.24 223.55,163.21 224.25,161.96 224.95,160.45 225.65,158.65 226.35,156.54 227.05,154.08 227.75,151.25 228.46,148.01 229.16,144.36 229.86,140.27 230.56,135.75 231.26,130.79 231.96,125.42 232.66,119.67 233.36,113.58 234.06,107.21 234.76,100.64 235.46,93.95 236.16,87.24 236.86,80.62 237.56,74.2 238.26,68.1 238.96,62.44 239.66,57.34 240.36,52.9 241.06,49.23 241.76,46.4 242.46,44.48 243.16,43.52 243.86,43.53 244.56,44.52 245.26,46.47 245.96,49.32 246.66,53.02 247.36,57.47 248.06,62.59 248.76,68.27 249.46,74.38 250.16,80.8 250.86,87.43 251.56,94.14 252.26,100.83 252.96,107.4 253.66,113.76 254.36,119.84 255.06,125.58 255.76,130.94 256.46,135.88 257.16,140.39 257.86,144.47 258.56,148.11 259.27,151.33 259.97,154.16 260.67,156.6 261.37,158.71 262.07,160.5 262.77,162 263.47,163.25 264.17,164.27 264.87,165.08 265.57,165.72 266.27,166.22 266.97,166.59 267.67,166.87 268.37,167.07 269.07,167.22 269.77,167.33 270.47,167.41 271.17,167.46 271.87,167.5 272.57,167.53 273.27,167.55 273.97,167.56 274.67,167.58 275.37,167.58 276.07,167.59 276.77,167.59 277.47,167.59 278.17,167.6 278.87,167.6 279.57,167.6 280.27,167.6 280.97,167.6 281.67,167.6 282.37,167.6 283.07,167.6 283.77,167.6 284.47,167.6 285.17,167.6 285.87,167.6 286.57,167.6 287.27,167.6 287.97,167.6 288.67,167.6 289.37,167.6 290.07,167.6 290.78,167.6 291.48,167.6 292.18,167.6 292.88,167.6 293.58,167.6 294.28,167.6 294.98,167.6 295.68,167.6 296.38,167.6 297.08,167.6 297.78,167.6 298.48,167.6 299.18,167.6 299.88,167.6 300.58,167.6 301.28,167.6 301.98,167.6 302.68,167.6 303.38,167.6 304.08,167.6 304.78,167.6 305.48,167.6 306.18,167.6 306.88,167.6 307.58,167.6 308.28,167.6 308.98,167.6 309.68,167.6 310.38,167.6 311.08,167.6 311.78,167.6 312.48,167.6 313.18,167.6 313.88,167.6 314.58,167.6 315.28,167.6 315.98,167.6 316.68,167.6 317.38,167.6 318.08,167.6 318.78,167.6 319.48,167.6 320.18,167.6 320.88,167.6 321.58,167.6 322.29,167.6 322.99,167.6 323.69,167.6 324.39,167.6 325.09,167.6 325.79,167.6 326.49,167.6 327.19,167.6 327.89,167.6 328.59,167.6 329.29,167.6 329.99,167.6 330.69,167.6 331.39,167.6 332.09,167.6 332.79,167.6 333.49,167.6 334.19,167.6 334.89,167.6 335.59,167.6 336.29,167.6 336.99,167.6 337.69,167.6 338.39,167.6 339.09,167.6 339.79,167.6 340.49,167.6 341.19,167.6 341.89,167.6 342.59,167.6 343.29,167.6 343.99,167.6 344.69,167.6 345.39,167.6 346.09,167.6 346.79,167.6 347.49,167.6 348.19,167.6 348.89,167.6 349.59,167.6 350.29,167.6 350.99,167.6 351.69,167.6 352.39,167.6 353.1,167.6 353.8,167.6 354.5,167.6 355.2,167.6 355.9,167.6 356.6,167.6 357.3,167.6 358,167.6 358.7,167.6 359.4,167.6 360.1,167.6 360.8,167.6 361.5,167.6 362.2,167.6 362.9,167.6 363.6,167.6 364.3,167.6 365,167.6 365.7,167.6 366.4,167.6 367.1,167.6 367.8,167.6 368.5,167.6'/>
</g>
<rect x='56.2' y='22.2' width='312.3' height='146.2' fill='none' stroke='#1a1a1a' stroke-width='1.5'/>
<path d='M108.25 168.4v-3.5M108.25 22.2v3.5' stroke='#1a1a1a' stroke-width='1.3'/>
<path d='M160.3 168.4v-3.5M160.3 22.2v3.5' stroke='#1a1a1a' stroke-width='1.3'/>
<path d='M212.35 168.4v-3.5M212.35 22.2v3.5' stroke='#1a1a1a' stroke-width='1.3'/>
<path d='M264.4 168.4v-3.5M264.4 22.2v3.5' stroke='#1a1a1a' stroke-width='1.3'/>
<path d='M316.45 168.4v-3.5M316.45 22.2v3.5' stroke='#1a1a1a' stroke-width='1.3'/>
<path d='M56.2 119.67h3.5M368.5 119.67h-3.5' stroke='#1a1a1a' stroke-width='1.3'/>
<path d='M56.2 70.93h3.5M368.5 70.93h-3.5' stroke='#1a1a1a' stroke-width='1.3'/>
<text x='58.3' y='181.7' text-anchor='middle'>5</text>
<text x='110.5' y='181.7' text-anchor='middle'>5.5</text>
<text x='160.3' y='181.7' text-anchor='middle'>6</text>
<text x='214' y='181.7' text-anchor='middle'>6.5</text>
<text x='266' y='181.7' text-anchor='middle'>7</text>
<text x='319' y='181.7' text-anchor='middle'>7.5</text>
<text x='365.8' y='181.7' text-anchor='middle'>8</text>
<text x='48.8' y='168' text-anchor='end'>0</text>
<text x='48.8' y='124' text-anchor='end'>0.2</text>
<text x='48.8' y='75.6' text-anchor='end'>0.4</text>
<text x='48.8' y='27.35' text-anchor='end'>0.6</text>
<text x='214.2' y='197.6' text-anchor='middle'>P-P distance (Å)</text>
<text x='1.4' y='16.8' class='L'>A</text>
<text transform='translate(14.2 94.45) rotate(-90)' text-anchor='middle'>Probability</text>
<clipPath id='cB'><rect x='420.2' y='22.3' width='312.1' height='149'/></clipPath>
<g clip-path='url(#cB)' fill='none' stroke-width='1.6' stroke-linejoin='round'>
<polyline stroke='#c40a1c' points='420.2,168.7 420.9,168.7 421.6,168.7 422.3,168.7 423.01,168.7 423.71,168.7 424.41,168.7 425.11,168.7 425.81,168.7 426.51,168.7 427.21,168.7 427.91,168.7 428.62,168.7 429.32,168.7 430.02,168.7 430.72,168.7 431.42,168.7 432.12,168.7 432.82,168.7 433.53,168.7 434.23,168.7 434.93,168.7 435.63,168.7 436.33,168.7 437.03,168.7 437.73,168.7 438.44,168.7 439.14,168.7 439.84,168.7 440.54,168.7 441.24,168.7 441.94,168.7 442.64,168.69 443.34,168.69 444.05,168.69 444.75,168.68 445.45,168.67 446.15,168.66 446.85,168.65 447.55,168.63 448.25,168.6 448.96,168.56 449.66,168.51 450.36,168.45 451.06,168.36 451.76,168.25 452.46,168.1 453.16,167.92 453.86,167.68 454.57,167.39 455.27,167.03 455.97,166.59 456.67,166.06 457.37,165.42 458.07,164.66 458.77,163.74 459.48,162.65 460.18,161.37 460.88,159.86 461.58,158.1 462.28,156.08 462.98,153.75 463.68,151.12 464.38,148.16 465.09,144.87 465.79,141.24 466.49,137.29 467.19,133.02 467.89,128.47 468.59,123.66 469.29,118.65 470,113.49 470.7,108.24 471.4,102.98 472.1,97.79 472.8,92.76 473.5,87.97 474.2,83.52 474.91,79.49 475.61,75.96 476.31,73.01 477.01,70.7 477.71,69.08 478.41,68.18 479.11,68.03 479.81,68.64 480.52,69.98 481.22,72.02 481.92,74.73 482.62,78.04 483.32,81.88 484.02,86.18 484.72,90.85 485.43,95.79 486.13,100.93 486.83,106.17 487.53,111.44 488.23,116.64 488.93,121.72 489.63,126.61 490.33,131.27 491.04,135.65 491.74,139.73 492.44,143.49 493.14,146.91 493.84,150 494.54,152.76 495.24,155.2 495.95,157.34 496.65,159.2 497.35,160.81 498.05,162.17 498.75,163.34 499.45,164.32 500.15,165.14 500.86,165.83 501.56,166.4 502.26,166.87 502.96,167.26 503.66,167.58 504.36,167.83 505.06,168.03 505.76,168.19 506.47,168.32 507.17,168.42 507.87,168.49 508.57,168.55 509.27,168.59 509.97,168.62 510.67,168.64 511.38,168.66 512.08,168.67 512.78,168.68 513.48,168.69 514.18,168.69 514.88,168.69 515.58,168.7 516.28,168.7 516.99,168.7 517.69,168.7 518.39,168.7 519.09,168.7 519.79,168.7 520.49,168.7 521.19,168.7 521.9,168.7 522.6,168.7 523.3,168.7 524,168.7 524.7,168.7 525.4,168.7 526.1,168.7 526.8,168.7 527.51,168.7 528.21,168.7 528.91,168.7 529.61,168.7 530.31,168.7 531.01,168.7 531.71,168.7 532.42,168.7 533.12,168.7 533.82,168.7 534.52,168.7 535.22,168.7 535.92,168.7 536.62,168.7 537.33,168.7 538.03,168.7 538.73,168.7 539.43,168.7 540.13,168.7 540.83,168.7 541.53,168.7 542.23,168.7 542.94,168.7 543.64,168.7 544.34,168.7 545.04,168.7 545.74,168.7 546.44,168.7 547.14,168.7 547.85,168.7 548.55,168.7 549.25,168.7 549.95,168.7 550.65,168.7 551.35,168.7 552.05,168.7 552.75,168.7 553.46,168.69 554.16,168.69 554.86,168.69 555.56,168.69 556.26,168.68 556.96,168.67 557.66,168.67 558.37,168.65 559.07,168.64 559.77,168.62 560.47,168.6 561.17,168.57 561.87,168.54 562.57,168.49 563.28,168.44 563.98,168.38 564.68,168.3 565.38,168.22 566.08,168.11 566.78,167.99 567.48,167.85 568.18,167.68 568.89,167.5 569.59,167.29 570.29,167.06 570.99,166.81 571.69,166.53 572.39,166.22 573.09,165.9 573.8,165.55 574.5,165.18 575.2,164.78 575.9,164.38 576.6,163.96 577.3,163.53 578,163.09 578.7,162.66 579.41,162.24 580.11,161.82 580.81,161.43 581.51,161.06 582.21,160.73 582.91,160.43 583.61,160.18 584.32,159.98 585.02,159.83 585.72,159.74 586.42,159.7 587.12,159.72 587.82,159.8 588.52,159.94 589.22,160.13 589.93,160.37 590.63,160.66 591.33,160.98 592.03,161.34 592.73,161.73 593.43,162.14 594.13,162.56 594.84,162.99 595.54,163.43 596.24,163.86 596.94,164.28 597.64,164.69 598.34,165.09 599.04,165.46 599.75,165.82 600.45,166.15 601.15,166.46 601.85,166.75 602.55,167.01 603.25,167.24 603.95,167.45 604.65,167.64 605.36,167.81 606.06,167.96 606.76,168.08 607.46,168.19 608.16,168.29 608.86,168.36 609.56,168.43 610.27,168.48 610.97,168.53 611.67,168.57 612.37,168.59 613.07,168.62 613.77,168.64 614.47,168.65 615.17,168.66 615.88,168.67 616.58,168.68 617.28,168.68 617.98,168.69 618.68,168.69 619.38,168.69 620.08,168.7 620.79,168.7 621.49,168.7 622.19,168.7 622.89,168.7 623.59,168.7 624.29,168.7 624.99,168.7 625.7,168.7 626.4,168.7 627.1,168.7 627.8,168.7 628.5,168.7 629.2,168.7 629.9,168.7 630.6,168.7 631.31,168.7 632.01,168.7 632.71,168.7 633.41,168.7 634.11,168.7 634.81,168.7 635.51,168.7 636.22,168.7 636.92,168.7 637.62,168.7 638.32,168.7 639.02,168.7 639.72,168.7 640.42,168.7 641.12,168.7 641.83,168.7 642.53,168.7 643.23,168.7 643.93,168.7 644.63,168.7 645.33,168.7 646.03,168.7 646.74,168.7 647.44,168.7 648.14,168.7 648.84,168.7 649.54,168.7 650.24,168.7 650.94,168.7 651.64,168.7 652.35,168.7 653.05,168.7 653.75,168.7 654.45,168.7 655.15,168.7 655.85,168.7 656.55,168.7 657.26,168.7 657.96,168.7 658.66,168.7 659.36,168.7 660.06,168.7 660.76,168.7 661.46,168.7 662.17,168.7 662.87,168.7 663.57,168.7 664.27,168.7 664.97,168.7 665.67,168.7 666.37,168.7 667.07,168.7 667.78,168.7 668.48,168.7 669.18,168.7 669.88,168.7 670.58,168.7 671.28,168.7 671.98,168.7 672.69,168.7 673.39,168.7 674.09,168.7 674.79,168.7 675.49,168.7 676.19,168.7 676.89,168.7 677.59,168.7 678.3,168.7 679,168.7 679.7,168.7 680.4,168.7 681.1,168.7 681.8,168.7 682.5,168.7 683.21,168.7 683.91,168.7 684.61,168.7 685.31,168.7 686.01,168.7 686.71,168.7 687.41,168.7 688.12,168.7 688.82,168.7 689.52,168.7 690.22,168.7 690.92,168.7 691.62,168.7 692.32,168.7 693.02,168.7 693.73,168.7 694.43,168.7 695.13,168.7 695.83,168.7 696.53,168.7 697.23,168.7 697.93,168.7 698.64,168.7 699.34,168.7 700.04,168.7 700.74,168.7 701.44,168.7 702.14,168.7 702.84,168.7 703.54,168.7 704.25,168.7 704.95,168.7 705.65,168.7 706.35,168.7 707.05,168.7 707.75,168.7 708.45,168.7 709.16,168.7 709.86,168.7 710.56,168.7 711.26,168.7 711.96,168.7 712.66,168.7 713.36,168.7 714.06,168.7 714.77,168.7 715.47,168.7 716.17,168.7 716.87,168.7 717.57,168.7 718.27,168.7 718.97,168.7 719.68,168.7 720.38,168.7 721.08,168.7 721.78,168.7 722.48,168.7 723.18,168.7 723.88,168.7 724.59,168.7 725.29,168.7 725.99,168.7 726.69,168.7 727.39,168.7 728.09,168.7 728.79,168.7 729.49,168.7 730.2,168.7 730.9,168.7 731.6,168.7 732.3,168.7'/>
<polyline stroke='#c40a1c' stroke-dasharray='3.2,2.2' points='420.2,168.7 420.9,168.7 421.6,168.7 422.3,168.7 423.01,168.7 423.71,168.7 424.41,168.7 425.11,168.7 425.81,168.7 426.51,168.7 427.21,168.7 427.91,168.7 428.62,168.7 429.32,168.7 430.02,168.7 430.72,168.7 431.42,168.7 432.12,168.7 432.82,168.7 433.53,168.7 434.23,168.7 434.93,168.7 435.63,168.7 436.33,168.7 437.03,168.7 437.73,168.7 438.44,168.7 439.14,168.7 439.84,168.69 440.54,168.69 441.24,168.69 441.94,168.68 442.64,168.67 443.34,168.66 444.05,168.64 444.75,168.62 445.45,168.59 446.15,168.54 446.85,168.48 447.55,168.41 448.25,168.31 448.96,168.18 449.66,168.02 450.36,167.81 451.06,167.55 451.76,167.23 452.46,166.83 453.16,166.35 453.86,165.76 454.57,165.06 455.27,164.22 455.97,163.22 456.67,162.03 457.37,160.64 458.07,159 458.77,157.1 459.48,154.92 460.18,152.42 460.88,149.61 461.58,146.46 462.28,142.97 462.98,139.14 463.68,134.98 464.38,130.51 465.09,125.77 465.79,120.79 466.49,115.62 467.19,110.32 467.89,104.97 468.59,99.64 469.29,94.42 470,89.4 470.7,84.66 471.4,80.3 472.1,76.41 472.8,73.06 473.5,70.32 474.2,68.26 474.91,66.92 475.61,66.33 476.31,66.5 477.01,67.43 477.71,69.1 478.41,71.47 479.11,74.49 479.81,78.09 480.52,82.2 481.22,86.74 481.92,91.62 482.62,96.74 483.32,102.02 484.02,107.37 484.72,112.71 485.43,117.95 486.13,123.05 486.83,127.93 487.53,132.55 488.23,136.88 488.93,140.89 489.63,144.57 490.33,147.91 491.04,150.91 491.74,153.58 492.44,155.93 493.14,157.99 493.84,159.76 494.54,161.29 495.24,162.59 495.95,163.69 496.65,164.62 497.35,165.39 498.05,166.04 498.75,166.58 499.45,167.02 500.15,167.38 500.86,167.67 501.56,167.91 502.26,168.1 502.96,168.24 503.66,168.36 504.36,168.45 505.06,168.51 505.76,168.56 506.47,168.6 507.17,168.63 507.87,168.65 508.57,168.66 509.27,168.67 509.97,168.68 510.67,168.69 511.38,168.69 512.08,168.69 512.78,168.7 513.48,168.7 514.18,168.7 514.88,168.7 515.58,168.7 516.28,168.7 516.99,168.7 517.69,168.7 518.39,168.7 519.09,168.7 519.79,168.7 520.49,168.7 521.19,168.7 521.9,168.7 522.6,168.7 523.3,168.7 524,168.7 524.7,168.7 525.4,168.7 526.1,168.7 526.8,168.7 527.51,168.7 528.21,168.7 528.91,168.7 529.61,168.7 530.31,168.7 531.01,168.7 531.71,168.7 532.42,168.7 533.12,168.7 533.82,168.7 534.52,168.7 535.22,168.7 535.92,168.7 536.62,168.7 537.33,168.7 538.03,168.7 538.73,168.7 539.43,168.7 540.13,168.7 540.83,168.7 541.53,168.7 542.23,168.7 542.94,168.7 543.64,168.7 544.34,168.7 545.04,168.7 545.74,168.7 546.44,168.7 547.14,168.7 547.85,168.7 548.55,168.7 549.25,168.7 549.95,168.7 550.65,168.7 551.35,168.7 552.05,168.69 552.75,168.69 553.46,168.69 554.16,168.68 554.86,168.68 555.56,168.67 556.26,168.66 556.96,168.65 557.66,168.63 558.37,168.61 559.07,168.58 559.77,168.54 560.47,168.5 561.17,168.44 561.87,168.37 562.57,168.29 563.28,168.19 563.98,168.06 564.68,167.92 565.38,167.75 566.08,167.56 566.78,167.34 567.48,167.09 568.18,166.8 568.89,166.49 569.59,166.14 570.29,165.76 570.99,165.35 571.69,164.91 572.39,164.44 573.09,163.94 573.8,163.43 574.5,162.9 575.2,162.35 575.9,161.81 576.6,161.27 577.3,160.75 578,160.25 578.7,159.78 579.41,159.35 580.11,158.98 580.81,158.66 581.51,158.41 582.21,158.23 582.91,158.13 583.61,158.1 584.32,158.15 585.02,158.28 585.72,158.49 586.42,158.76 587.12,159.09 587.82,159.49 588.52,159.93 589.22,160.41 589.93,160.92 590.63,161.45 591.33,161.99 592.03,162.53 592.73,163.07 593.43,163.6 594.13,164.11 594.84,164.6 595.54,165.06 596.24,165.49 596.94,165.89 597.64,166.26 598.34,166.59 599.04,166.9 599.75,167.17 600.45,167.41 601.15,167.63 601.85,167.81 602.55,167.97 603.25,168.11 603.95,168.22 604.65,168.32 605.36,168.4 606.06,168.46 606.76,168.51 607.46,168.56 608.16,168.59 608.86,168.62 609.56,168.64 610.27,168.65 610.97,168.66 611.67,168.67 612.37,168.68 613.07,168.69 613.77,168.69 614.47,168.69 615.17,168.69 615.88,168.7 616.58,168.7 617.28,168.7 617.98,168.7 618.68,168.7 619.38,168.7 620.08,168.7 620.79,168.7 621.49,168.7 622.19,168.7 622.89,168.7 623.59,168.7 624.29,168.7 624.99,168.7 625.7,168.7 626.4,168.7 627.1,168.7 627.8,168.7 628.5,168.7 629.2,168.7 629.9,168.7 630.6,168.7 631.31,168.7 632.01,168.7 632.71,168.7 633.41,168.7 634.11,168.7 634.81,168.7 635.51,168.7 636.22,168.7 636.92,168.7 637.62,168.7 638.32,168.7 639.02,168.7 639.72,168.7 640.42,168.7 641.12,168.7 641.83,168.7 642.53,168.7 643.23,168.7 643.93,168.7 644.63,168.7 645.33,168.7 646.03,168.7 646.74,168.7 647.44,168.7 648.14,168.7 648.84,168.7 649.54,168.7 650.24,168.7 650.94,168.7 651.64,168.7 652.35,168.7 653.05,168.7 653.75,168.7 654.45,168.7 655.15,168.7 655.85,168.7 656.55,168.7 657.26,168.7 657.96,168.7 658.66,168.7 659.36,168.7 660.06,168.7 660.76,168.7 661.46,168.7 662.17,168.7 662.87,168.7 663.57,168.7 664.27,168.7 664.97,168.7 665.67,168.7 666.37,168.7 667.07,168.7 667.78,168.7 668.48,168.7 669.18,168.7 669.88,168.7 670.58,168.7 671.28,168.7 671.98,168.7 672.69,168.7 673.39,168.7 674.09,168.7 674.79,168.7 675.49,168.7 676.19,168.7 676.89,168.7 677.59,168.7 678.3,168.7 679,168.7 679.7,168.7 680.4,168.7 681.1,168.7 681.8,168.7 682.5,168.7 683.21,168.7 683.91,168.7 684.61,168.7 685.31,168.7 686.01,168.7 686.71,168.7 687.41,168.7 688.12,168.7 688.82,168.7 689.52,168.7 690.22,168.7 690.92,168.7 691.62,168.7 692.32,168.7 693.02,168.7 693.73,168.7 694.43,168.7 695.13,168.7 695.83,168.7 696.53,168.7 697.23,168.7 697.93,168.7 698.64,168.7 699.34,168.7 700.04,168.7 700.74,168.7 701.44,168.7 702.14,168.7 702.84,168.7 703.54,168.7 704.25,168.7 704.95,168.7 705.65,168.7 706.35,168.7 707.05,168.7 707.75,168.7 708.45,168.7 709.16,168.7 709.86,168.7 710.56,168.7 711.26,168.7 711.96,168.7 712.66,168.7 713.36,168.7 714.06,168.7 714.77,168.7 715.47,168.7 716.17,168.7 716.87,168.7 717.57,168.7 718.27,168.7 718.97,168.7 719.68,168.7 720.38,168.7 721.08,168.7 721.78,168.7 722.48,168.7 723.18,168.7 723.88,168.7 724.59,168.7 725.29,168.7 725.99,168.7 726.69,168.7 727.39,168.7 728.09,168.7 728.79,168.7 729.49,168.7 730.2,168.7 730.9,168.7 731.6,168.7 732.3,168.7'/>
<polyline stroke='#c40a1c' stroke-dasharray='7.2,6.2' points='420.2,168.7 420.9,168.7 421.6,168.7 422.3,168.7 423.01,168.7 423.71,168.7 424.41,168.7 425.11,168.7 425.81,168.7 426.51,168.7 427.21,168.7 427.91,168.7 428.62,168.7 429.32,168.7 430.02,168.7 430.72,168.7 431.42,168.7 432.12,168.7 432.82,168.7 433.53,168.7 434.23,168.7 434.93,168.7 435.63,168.7 436.33,168.7 437.03,168.7 437.73,168.7 438.44,168.7 439.14,168.7 439.84,168.7 440.54,168.7 441.24,168.7 441.94,168.7 442.64,168.7 443.34,168.7 444.05,168.7 444.75,168.7 445.45,168.7 446.15,168.7 446.85,168.7 447.55,168.7 448.25,168.69 448.96,168.69 449.66,168.69 450.36,168.68 451.06,168.68 451.76,168.67 452.46,168.66 453.16,168.64 453.86,168.62 454.57,168.59 455.27,168.56 455.97,168.51 456.67,168.45 457.37,168.38 458.07,168.28 458.77,168.16 459.48,168.01 460.18,167.83 460.88,167.6 461.58,167.33 462.28,167 462.98,166.6 463.68,166.14 464.38,165.59 465.09,164.94 465.79,164.18 466.49,163.3 467.19,162.28 467.89,161.09 468.59,159.73 469.29,158.17 470,156.4 470.7,154.42 471.4,152.19 472.1,149.73 472.8,147.01 473.5,144.05 474.2,140.84 474.91,137.4 475.61,133.74 476.31,129.87 477.01,125.83 477.71,121.65 478.41,117.37 479.11,113.04 479.81,108.69 480.52,104.4 481.22,100.21 481.92,96.19 482.62,92.39 483.32,88.87 484.02,85.69 484.72,82.91 485.43,80.57 486.13,78.71 486.83,77.36 487.53,76.56 488.23,76.3 488.93,76.6 489.63,77.46 490.33,78.85 491.04,80.76 491.74,83.14 492.44,85.96 493.14,89.17 493.84,92.71 494.54,96.53 495.24,100.57 495.95,104.77 496.65,109.07 497.35,113.42 498.05,117.75 498.75,122.02 499.45,126.19 500.15,130.22 500.86,134.07 501.56,137.71 502.26,141.14 502.96,144.32 503.66,147.26 504.36,149.95 505.06,152.4 505.76,154.6 506.47,156.57 507.17,158.32 507.87,159.85 508.57,161.2 509.27,162.37 509.97,163.38 510.67,164.25 511.38,165 512.08,165.64 512.78,166.18 513.48,166.64 514.18,167.03 514.88,167.35 515.58,167.62 516.28,167.84 516.99,168.02 517.69,168.17 518.39,168.29 519.09,168.38 519.79,168.46 520.49,168.52 521.19,168.56 521.9,168.6 522.6,168.62 523.3,168.64 524,168.66 524.7,168.67 525.4,168.68 526.1,168.68 526.8,168.69 527.51,168.69 528.21,168.69 528.91,168.7 529.61,168.7 530.31,168.7 531.01,168.7 531.71,168.7 532.42,168.7 533.12,168.7 533.82,168.7 534.52,168.7 535.22,168.7 535.92,168.7 536.62,168.7 537.33,168.7 538.03,168.7 538.73,168.7 539.43,168.7 540.13,168.7 540.83,168.7 541.53,168.7 542.23,168.7 542.94,168.7 543.64,168.7 544.34,168.7 545.04,168.7 545.74,168.7 546.44,168.7 547.14,168.7 547.85,168.7 548.55,168.7 549.25,168.7 549.95,168.7 550.65,168.7 551.35,168.7 552.05,168.7 552.75,168.7 553.46,168.7 554.16,168.7 554.86,168.7 555.56,168.7 556.26,168.7 556.96,168.69 557.66,168.69 558.37,168.69 559.07,168.69 559.77,168.68 560.47,168.68 561.17,168.67 561.87,168.66 562.57,168.65 563.28,168.64 563.98,168.62 564.68,168.6 565.38,168.57 566.08,168.53 566.78,168.49 567.48,168.45 568.18,168.39 568.89,168.32 569.59,168.24 570.29,168.15 570.99,168.05 571.69,167.93 572.39,167.8 573.09,167.66 573.8,167.49 574.5,167.32 575.2,167.13 575.9,166.92 576.6,166.7 577.3,166.47 578,166.23 578.7,165.98 579.41,165.72 580.11,165.47 580.81,165.21 581.51,164.95 582.21,164.7 582.91,164.46 583.61,164.24 584.32,164.03 585.02,163.84 585.72,163.68 586.42,163.54 587.12,163.44 587.82,163.36 588.52,163.32 589.22,163.32 589.93,163.34 590.63,163.41 591.33,163.5 592.03,163.63 592.73,163.78 593.43,163.96 594.13,164.16 594.84,164.38 595.54,164.61 596.24,164.86 596.94,165.11 597.64,165.37 598.34,165.63 599.04,165.89 599.75,166.14 600.45,166.38 601.15,166.62 601.85,166.84 602.55,167.05 603.25,167.25 603.95,167.43 604.65,167.6 605.36,167.75 606.06,167.89 606.76,168.01 607.46,168.12 608.16,168.21 608.86,168.3 609.56,168.37 610.27,168.43 610.97,168.48 611.67,168.52 612.37,168.56 613.07,168.59 613.77,168.61 614.47,168.63 615.17,168.64 615.88,168.66 616.58,168.67 617.28,168.68 617.98,168.68 618.68,168.69 619.38,168.69 620.08,168.69 620.79,168.69 621.49,168.7 622.19,168.7 622.89,168.7 623.59,168.7 624.29,168.7 624.99,168.7 625.7,168.7 626.4,168.7 627.1,168.7 627.8,168.7 628.5,168.7 629.2,168.7 629.9,168.7 630.6,168.7 631.31,168.7 632.01,168.7 632.71,168.7 633.41,168.7 634.11,168.7 634.81,168.7 635.51,168.7 636.22,168.7 636.92,168.7 637.62,168.7 638.32,168.7 639.02,168.7 639.72,168.7 640.42,168.7 641.12,168.7 641.83,168.7 642.53,168.7 643.23,168.7 643.93,168.7 644.63,168.7 645.33,168.7 646.03,168.7 646.74,168.7 647.44,168.7 648.14,168.7 648.84,168.7 649.54,168.7 650.24,168.7 650.94,168.7 651.64,168.7 652.35,168.7 653.05,168.7 653.75,168.7 654.45,168.7 655.15,168.7 655.85,168.7 656.55,168.7 657.26,168.7 657.96,168.7 658.66,168.7 659.36,168.7 660.06,168.7 660.76,168.7 661.46,168.7 662.17,168.7 662.87,168.7 663.57,168.7 664.27,168.7 664.97,168.7 665.67,168.7 666.37,168.7 667.07,168.7 667.78,168.7 668.48,168.7 669.18,168.7 669.88,168.7 670.58,168.7 671.28,168.7 671.98,168.7 672.69,168.7 673.39,168.7 674.09,168.7 674.79,168.7 675.49,168.7 676.19,168.7 676.89,168.7 677.59,168.7 678.3,168.7 679,168.7 679.7,168.7 680.4,168.7 681.1,168.7 681.8,168.7 682.5,168.7 683.21,168.7 683.91,168.7 684.61,168.7 685.31,168.7 686.01,168.7 686.71,168.7 687.41,168.7 688.12,168.7 688.82,168.7 689.52,168.7 690.22,168.7 690.92,168.7 691.62,168.7 692.32,168.7 693.02,168.7 693.73,168.7 694.43,168.7 695.13,168.7 695.83,168.7 696.53,168.7 697.23,168.7 697.93,168.7 698.64,168.7 699.34,168.7 700.04,168.7 700.74,168.7 701.44,168.7 702.14,168.7 702.84,168.7 703.54,168.7 704.25,168.7 704.95,168.7 705.65,168.7 706.35,168.7 707.05,168.7 707.75,168.7 708.45,168.7 709.16,168.7 709.86,168.7 710.56,168.7 711.26,168.7 711.96,168.7 712.66,168.7 713.36,168.7 714.06,168.7 714.77,168.7 715.47,168.7 716.17,168.7 716.87,168.7 717.57,168.7 718.27,168.7 718.97,168.7 719.68,168.7 720.38,168.7 721.08,168.7 721.78,168.7 722.48,168.7 723.18,168.7 723.88,168.7 724.59,168.7 725.29,168.7 725.99,168.7 726.69,168.7 727.39,168.7 728.09,168.7 728.79,168.7 729.49,168.7 730.2,168.7 730.9,168.7 731.6,168.7 732.3,168.7'/>
<polyline stroke='#201585' points='420.2,168.7 420.9,168.7 421.6,168.7 422.3,168.7 423.01,168.7 423.71,168.7 424.41,168.7 425.11,168.7 425.81,168.7 426.51,168.7 427.21,168.7 427.91,168.7 428.62,168.7 429.32,168.7 430.02,168.7 430.72,168.7 431.42,168.7 432.12,168.7 432.82,168.7 433.53,168.7 434.23,168.7 434.93,168.7 435.63,168.7 436.33,168.7 437.03,168.7 437.73,168.7 438.44,168.7 439.14,168.7 439.84,168.7 440.54,168.7 441.24,168.7 441.94,168.7 442.64,168.7 443.34,168.7 444.05,168.7 444.75,168.7 445.45,168.7 446.15,168.7 446.85,168.7 447.55,168.7 448.25,168.7 448.96,168.7 449.66,168.7 450.36,168.7 451.06,168.7 451.76,168.7 452.46,168.7 453.16,168.7 453.86,168.7 454.57,168.7 455.27,168.7 455.97,168.7 456.67,168.7 457.37,168.7 458.07,168.7 458.77,168.7 459.48,168.7 460.18,168.7 460.88,168.7 461.58,168.7 462.28,168.7 462.98,168.7 463.68,168.7 464.38,168.7 465.09,168.7 465.79,168.7 466.49,168.7 467.19,168.7 467.89,168.7 468.59,168.7 469.29,168.7 470,168.7 470.7,168.7 471.4,168.7 472.1,168.7 472.8,168.7 473.5,168.7 474.2,168.7 474.91,168.7 475.61,168.7 476.31,168.7 477.01,168.7 477.71,168.7 478.41,168.7 479.11,168.7 479.81,168.7 480.52,168.7 481.22,168.7 481.92,168.7 482.62,168.7 483.32,168.7 484.02,168.7 484.72,168.7 485.43,168.7 486.13,168.7 486.83,168.7 487.53,168.7 488.23,168.7 488.93,168.7 489.63,168.7 490.33,168.7 491.04,168.7 491.74,168.7 492.44,168.7 493.14,168.7 493.84,168.7 494.54,168.7 495.24,168.7 495.95,168.7 496.65,168.7 497.35,168.7 498.05,168.7 498.75,168.7 499.45,168.7 500.15,168.7 500.86,168.7 501.56,168.7 502.26,168.7 502.96,168.7 503.66,168.7 504.36,168.7 505.06,168.7 505.76,168.7 506.47,168.7 507.17,168.7 507.87,168.7 508.57,168.7 509.27,168.7 509.97,168.7 510.67,168.7 511.38,168.7 512.08,168.69 512.78,168.69 513.48,168.69 514.18,168.69 514.88,168.69 515.58,168.68 516.28,168.68 516.99,168.68 517.69,168.67 518.39,168.67 519.09,168.66 519.79,168.65 520.49,168.64 521.19,168.63 521.9,168.62 522.6,168.61 523.3,168.59 524,168.57 524.7,168.55 525.4,168.53 526.1,168.5 526.8,168.47 527.51,168.43 528.21,168.39 528.91,168.35 529.61,168.3 530.31,168.24 531.01,168.18 531.71,168.11 532.42,168.04 533.12,167.96 533.82,167.87 534.52,167.77 535.22,167.66 535.92,167.55 536.62,167.42 537.33,167.29 538.03,167.15 538.73,167 539.43,166.83 540.13,166.66 540.83,166.48 541.53,166.29 542.23,166.08 542.94,165.86 543.64,165.64 544.34,165.4 545.04,165.14 545.74,164.88 546.44,164.6 547.14,164.31 547.85,164 548.55,163.67 549.25,163.33 549.95,162.98 550.65,162.6 551.35,162.21 552.05,161.8 552.75,161.37 553.46,160.91 554.16,160.43 554.86,159.93 555.56,159.4 556.26,158.84 556.96,158.26 557.66,157.64 558.37,157 559.07,156.32 559.77,155.61 560.47,154.86 561.17,154.08 561.87,153.26 562.57,152.4 563.28,151.51 563.98,150.57 564.68,149.6 565.38,148.6 566.08,147.55 566.78,146.47 567.48,145.35 568.18,144.21 568.89,143.03 569.59,141.82 570.29,140.59 570.99,139.33 571.69,138.06 572.39,136.77 573.09,135.48 573.8,134.17 574.5,132.87 575.2,131.57 575.9,130.28 576.6,129.01 577.3,127.76 578,126.54 578.7,125.35 579.41,124.2 580.11,123.1 580.81,122.05 581.51,121.06 582.21,120.13 582.91,119.26 583.61,118.47 584.32,117.76 585.02,117.13 585.72,116.58 586.42,116.13 587.12,115.76 587.82,115.49 588.52,115.32 589.22,115.24 589.93,115.26 590.63,115.38 591.33,115.6 592.03,115.91 592.73,116.32 593.43,116.82 594.13,117.41 594.84,118.08 595.54,118.84 596.24,119.68 596.94,120.6 597.64,121.58 598.34,122.63 599.04,123.74 599.75,124.9 600.45,126.11 601.15,127.37 601.85,128.66 602.55,129.98 603.25,131.33 603.95,132.7 604.65,134.08 605.36,135.47 606.06,136.86 606.76,138.25 607.46,139.63 608.16,141 608.86,142.35 609.56,143.69 610.27,144.99 610.97,146.27 611.67,147.52 612.37,148.73 613.07,149.91 613.77,151.05 614.47,152.15 615.17,153.2 615.88,154.22 616.58,155.19 617.28,156.12 617.98,157 618.68,157.84 619.38,158.63 620.08,159.38 620.79,160.09 621.49,160.76 622.19,161.38 622.89,161.97 623.59,162.52 624.29,163.03 624.99,163.51 625.7,163.95 626.4,164.37 627.1,164.75 627.8,165.11 628.5,165.43 629.2,165.74 629.9,166.02 630.6,166.28 631.31,166.52 632.01,166.73 632.71,166.93 633.41,167.12 634.11,167.28 634.81,167.44 635.51,167.58 636.22,167.7 636.92,167.81 637.62,167.92 638.32,168.01 639.02,168.09 639.72,168.17 640.42,168.23 641.12,168.29 641.83,168.34 642.53,168.39 643.23,168.43 643.93,168.47 644.63,168.5 645.33,168.52 646.03,168.55 646.74,168.57 647.44,168.59 648.14,168.6 648.84,168.62 649.54,168.63 650.24,168.64 650.94,168.65 651.64,168.66 652.35,168.66 653.05,168.67 653.75,168.67 654.45,168.68 655.15,168.68 655.85,168.68 656.55,168.69 657.26,168.69 657.96,168.69 658.66,168.69 659.36,168.69 660.06,168.69 660.76,168.7 661.46,168.7 662.17,168.7 662.87,168.7 663.57,168.7 664.27,168.7 664.97,168.7 665.67,168.7 666.37,168.7 667.07,168.7 667.78,168.7 668.48,168.7 669.18,168.7 669.88,168.7 670.58,168.7 671.28,168.7 671.98,168.7 672.69,168.7 673.39,168.7 674.09,168.7 674.79,168.7 675.49,168.7 676.19,168.7 676.89,168.7 677.59,168.7 678.3,168.7 679,168.7 679.7,168.7 680.4,168.7 681.1,168.7 681.8,168.7 682.5,168.7 683.21,168.7 683.91,168.7 684.61,168.7 685.31,168.7 686.01,168.7 686.71,168.7 687.41,168.7 688.12,168.7 688.82,168.7 689.52,168.7 690.22,168.7 690.92,168.7 691.62,168.7 692.32,168.7 693.02,168.7 693.73,168.7 694.43,168.7 695.13,168.7 695.83,168.7 696.53,168.7 697.23,168.7 697.93,168.7 698.64,168.7 699.34,168.7 700.04,168.7 700.74,168.7 701.44,168.7 702.14,168.7 702.84,168.7 703.54,168.7 704.25,168.7 704.95,168.7 705.65,168.7 706.35,168.7 707.05,168.7 707.75,168.7 708.45,168.7 709.16,168.7 709.86,168.7 710.56,168.7 711.26,168.7 711.96,168.7 712.66,168.7 713.36,168.7 714.06,168.7 714.77,168.7 715.47,168.7 716.17,168.7 716.87,168.7 717.57,168.7 718.27,168.7 718.97,168.7 719.68,168.7 720.38,168.7 721.08,168.7 721.78,168.7 722.48,168.7 723.18,168.7 723.88,168.7 724.59,168.7 725.29,168.7 725.99,168.7 726.69,168.7 727.39,168.7 728.09,168.7 728.79,168.7 729.49,168.7 730.2,168.7 730.9,168.7 731.6,168.7 732.3,168.7'/>
<polyline stroke='#201585' stroke-dasharray='3.2,2.2' points='420.2,168.7 420.9,168.7 421.6,168.7 422.3,168.7 423.01,168.7 423.71,168.7 424.41,168.7 425.11,168.7 425.81,168.7 426.51,168.7 427.21,168.7 427.91,168.7 428.62,168.7 429.32,168.7 430.02,168.7 430.72,168.7 431.42,168.7 432.12,168.7 432.82,168.7 433.53,168.7 434.23,168.7 434.93,168.7 435.63,168.7 436.33,168.7 437.03,168.7 437.73,168.7 438.44,168.7 439.14,168.7 439.84,168.7 440.54,168.7 441.24,168.7 441.94,168.7 442.64,168.7 443.34,168.7 444.05,168.7 444.75,168.7 445.45,168.7 446.15,168.7 446.85,168.7 447.55,168.7 448.25,168.7 448.96,168.7 449.66,168.7 450.36,168.7 451.06,168.7 451.76,168.7 452.46,168.7 453.16,168.7 453.86,168.7 454.57,168.7 455.27,168.7 455.97,168.7 456.67,168.7 457.37,168.7 458.07,168.7 458.77,168.7 459.48,168.7 460.18,168.7 460.88,168.7 461.58,168.7 462.28,168.7 462.98,168.7 463.68,168.7 464.38,168.7 465.09,168.7 465.79,168.7 466.49,168.7 467.19,168.7 467.89,168.7 468.59,168.7 469.29,168.7 470,168.7 470.7,168.7 471.4,168.7 472.1,168.7 472.8,168.7 473.5,168.7 474.2,168.7 474.91,168.7 475.61,168.7 476.31,168.7 477.01,168.7 477.71,168.7 478.41,168.7 479.11,168.7 479.81,168.7 480.52,168.7 481.22,168.7 481.92,168.7 482.62,168.7 483.32,168.7 484.02,168.7 484.72,168.7 485.43,168.7 486.13,168.7 486.83,168.7 487.53,168.7 488.23,168.7 488.93,168.7 489.63,168.7 490.33,168.7 491.04,168.7 491.74,168.7 492.44,168.7 493.14,168.7 493.84,168.7 494.54,168.7 495.24,168.7 495.95,168.7 496.65,168.7 497.35,168.7 498.05,168.7 498.75,168.7 499.45,168.7 500.15,168.7 500.86,168.7 501.56,168.7 502.26,168.7 502.96,168.7 503.66,168.7 504.36,168.7 505.06,168.7 505.76,168.69 506.47,168.69 507.17,168.69 507.87,168.69 508.57,168.69 509.27,168.68 509.97,168.68 510.67,168.68 511.38,168.67 512.08,168.67 512.78,168.66 513.48,168.65 514.18,168.64 514.88,168.63 515.58,168.62 516.28,168.6 516.99,168.58 517.69,168.56 518.39,168.54 519.09,168.52 519.79,168.49 520.49,168.45 521.19,168.41 521.9,168.37 522.6,168.32 523.3,168.27 524,168.21 524.7,168.14 525.4,168.07 526.1,167.99 526.8,167.91 527.51,167.81 528.21,167.71 528.91,167.6 529.61,167.48 530.31,167.35 531.01,167.21 531.71,167.06 532.42,166.9 533.12,166.74 533.82,166.56 534.52,166.37 535.22,166.18 535.92,165.97 536.62,165.75 537.33,165.52 538.03,165.29 538.73,165.04 539.43,164.78 540.13,164.51 540.83,164.23 541.53,163.94 542.23,163.63 542.94,163.32 543.64,162.99 544.34,162.65 545.04,162.3 545.74,161.93 546.44,161.55 547.14,161.15 547.85,160.73 548.55,160.3 549.25,159.85 549.95,159.39 550.65,158.9 551.35,158.39 552.05,157.85 552.75,157.29 553.46,156.71 554.16,156.1 554.86,155.46 555.56,154.8 556.26,154.1 556.96,153.37 557.66,152.61 558.37,151.82 559.07,150.99 559.77,150.14 560.47,149.25 561.17,148.33 561.87,147.37 562.57,146.39 563.28,145.38 563.98,144.34 564.68,143.27 565.38,142.19 566.08,141.08 566.78,139.96 567.48,138.82 568.18,137.68 568.89,136.52 569.59,135.37 570.29,134.22 570.99,133.08 571.69,131.95 572.39,130.84 573.09,129.75 573.8,128.69 574.5,127.66 575.2,126.67 575.9,125.72 576.6,124.82 577.3,123.98 578,123.19 578.7,122.46 579.41,121.8 580.11,121.21 580.81,120.69 581.51,120.25 582.21,119.88 582.91,119.6 583.61,119.4 584.32,119.28 585.02,119.25 585.72,119.3 586.42,119.44 587.12,119.66 587.82,119.97 588.52,120.36 589.22,120.83 589.93,121.37 590.63,121.99 591.33,122.69 592.03,123.45 592.73,124.27 593.43,125.16 594.13,126.1 594.84,127.1 595.54,128.14 596.24,129.23 596.94,130.35 597.64,131.5 598.34,132.69 599.04,133.89 599.75,135.12 600.45,136.35 601.15,137.6 601.85,138.85 602.55,140.09 603.25,141.33 603.95,142.57 604.65,143.79 605.36,144.99 606.06,146.17 606.76,147.33 607.46,148.47 608.16,149.57 608.86,150.65 609.56,151.69 610.27,152.7 610.97,153.67 611.67,154.61 612.37,155.51 613.07,156.37 613.77,157.19 614.47,157.98 615.17,158.72 615.88,159.43 616.58,160.1 617.28,160.74 617.98,161.33 618.68,161.89 619.38,162.42 620.08,162.92 620.79,163.38 621.49,163.82 622.19,164.22 622.89,164.6 623.59,164.95 624.29,165.27 624.99,165.58 625.7,165.86 626.4,166.12 627.1,166.36 627.8,166.58 628.5,166.79 629.2,166.97 629.9,167.15 630.6,167.31 631.31,167.45 632.01,167.58 632.71,167.7 633.41,167.81 634.11,167.91 634.81,168 635.51,168.08 636.22,168.15 636.92,168.22 637.62,168.28 638.32,168.33 639.02,168.37 639.72,168.42 640.42,168.45 641.12,168.48 641.83,168.51 642.53,168.54 643.23,168.56 643.93,168.58 644.63,168.59 645.33,168.61 646.03,168.62 646.74,168.63 647.44,168.64 648.14,168.65 648.84,168.66 649.54,168.66 650.24,168.67 650.94,168.67 651.64,168.68 652.35,168.68 653.05,168.68 653.75,168.69 654.45,168.69 655.15,168.69 655.85,168.69 656.55,168.69 657.26,168.69 657.96,168.7 658.66,168.7 659.36,168.7 660.06,168.7 660.76,168.7 661.46,168.7 662.17,168.7 662.87,168.7 663.57,168.7 664.27,168.7 664.97,168.7 665.67,168.7 666.37,168.7 667.07,168.7 667.78,168.7 668.48,168.7 669.18,168.69 669.88,168.69 670.58,168.69 671.28,168.69 671.98,168.68 672.69,168.68 673.39,168.67 674.09,168.67 674.79,168.66 675.49,168.65 676.19,168.64 676.89,168.63 677.59,168.61 678.3,168.59 679,168.57 679.7,168.54 680.4,168.51 681.1,168.48 681.8,168.44 682.5,168.4 683.21,168.35 683.91,168.3 684.61,168.24 685.31,168.18 686.01,168.11 686.71,168.04 687.41,167.97 688.12,167.89 688.82,167.81 689.52,167.72 690.22,167.64 690.92,167.55 691.62,167.46 692.32,167.38 693.02,167.3 693.73,167.22 694.43,167.14 695.13,167.08 695.83,167.02 696.53,166.96 697.23,166.92 697.93,166.88 698.64,166.86 699.34,166.84 700.04,166.84 700.74,166.84 701.44,166.86 702.14,166.89 702.84,166.92 703.54,166.97 704.25,167.02 704.95,167.08 705.65,167.15 706.35,167.23 707.05,167.31 707.75,167.39 708.45,167.47 709.16,167.56 709.86,167.64 710.56,167.73 711.26,167.81 711.96,167.9 712.66,167.97 713.36,168.05 714.06,168.12 714.77,168.19 715.47,168.25 716.17,168.3 716.87,168.36 717.57,168.4 718.27,168.45 718.97,168.48 719.68,168.52 720.38,168.55 721.08,168.57 721.78,168.59 722.48,168.61 723.18,168.63 723.88,168.64 724.59,168.65 725.29,168.66 725.99,168.67 726.69,168.68 727.39,168.68 728.09,168.68 728.79,168.69 729.49,168.69 730.2,168.69 730.9,168.69 731.6,168.7 732.3,168.7'/>
<polyline stroke='#201585' stroke-dasharray='7.2,6.2' points='420.2,168.7 420.9,168.7 421.6,168.7 422.3,168.7 423.01,168.7 423.71,168.7 424.41,168.7 425.11,168.7 425.81,168.7 426.51,168.7 427.21,168.7 427.91,168.7 428.62,168.7 429.32,168.7 430.02,168.7 430.72,168.7 431.42,168.7 432.12,168.7 432.82,168.7 433.53,168.7 434.23,168.7 434.93,168.7 435.63,168.7 436.33,168.7 437.03,168.7 437.73,168.7 438.44,168.7 439.14,168.7 439.84,168.7 440.54,168.7 441.24,168.7 441.94,168.7 442.64,168.7 443.34,168.7 444.05,168.7 444.75,168.7 445.45,168.7 446.15,168.7 446.85,168.7 447.55,168.7 448.25,168.7 448.96,168.7 449.66,168.7 450.36,168.7 451.06,168.7 451.76,168.7 452.46,168.7 453.16,168.7 453.86,168.7 454.57,168.7 455.27,168.7 455.97,168.7 456.67,168.7 457.37,168.7 458.07,168.7 458.77,168.7 459.48,168.7 460.18,168.7 460.88,168.7 461.58,168.7 462.28,168.7 462.98,168.7 463.68,168.7 464.38,168.7 465.09,168.7 465.79,168.7 466.49,168.7 467.19,168.7 467.89,168.7 468.59,168.7 469.29,168.7 470,168.7 470.7,168.7 471.4,168.7 472.1,168.7 472.8,168.7 473.5,168.7 474.2,168.7 474.91,168.7 475.61,168.7 476.31,168.7 477.01,168.7 477.71,168.7 478.41,168.7 479.11,168.7 479.81,168.7 480.52,168.7 481.22,168.7 481.92,168.7 482.62,168.7 483.32,168.7 484.02,168.7 484.72,168.7 485.43,168.7 486.13,168.7 486.83,168.7 487.53,168.7 488.23,168.7 488.93,168.7 489.63,168.7 490.33,168.7 491.04,168.7 491.74,168.7 492.44,168.7 493.14,168.7 493.84,168.7 494.54,168.7 495.24,168.7 495.95,168.7 496.65,168.7 497.35,168.7 498.05,168.7 498.75,168.7 499.45,168.7 500.15,168.7 500.86,168.7 501.56,168.7 502.26,168.7 502.96,168.7 503.66,168.7 504.36,168.7 505.06,168.7 505.76,168.7 506.47,168.7 507.17,168.7 507.87,168.7 508.57,168.7 509.27,168.7 509.97,168.7 510.67,168.7 511.38,168.7 512.08,168.7 512.78,168.7 513.48,168.7 514.18,168.7 514.88,168.7 515.58,168.7 516.28,168.7 516.99,168.7 517.69,168.7 518.39,168.7 519.09,168.7 519.79,168.7 520.49,168.7 521.19,168.7 521.9,168.7 522.6,168.7 523.3,168.7 524,168.7 524.7,168.7 525.4,168.7 526.1,168.7 526.8,168.7 527.51,168.7 528.21,168.7 528.91,168.7 529.61,168.7 530.31,168.7 531.01,168.7 531.71,168.7 532.42,168.7 533.12,168.7 533.82,168.7 534.52,168.7 535.22,168.7 535.92,168.7 536.62,168.7 537.33,168.7 538.03,168.7 538.73,168.69 539.43,168.69 540.13,168.69 540.83,168.69 541.53,168.69 542.23,168.69 542.94,168.68 543.64,168.68 544.34,168.68 545.04,168.67 545.74,168.67 546.44,168.66 547.14,168.65 547.85,168.64 548.55,168.63 549.25,168.62 549.95,168.6 550.65,168.58 551.35,168.56 552.05,168.54 552.75,168.51 553.46,168.48 554.16,168.44 554.86,168.4 555.56,168.35 556.26,168.3 556.96,168.24 557.66,168.16 558.37,168.08 559.07,167.99 559.77,167.89 560.47,167.78 561.17,167.65 561.87,167.51 562.57,167.36 563.28,167.18 563.98,166.99 564.68,166.78 565.38,166.54 566.08,166.29 566.78,166.01 567.48,165.7 568.18,165.37 568.89,165.01 569.59,164.61 570.29,164.18 570.99,163.71 571.69,163.21 572.39,162.66 573.09,162.07 573.8,161.43 574.5,160.74 575.2,160.01 575.9,159.22 576.6,158.38 577.3,157.48 578,156.53 578.7,155.52 579.41,154.46 580.11,153.33 580.81,152.15 581.51,150.92 582.21,149.62 582.91,148.28 583.61,146.88 584.32,145.43 585.02,143.93 585.72,142.4 586.42,140.82 587.12,139.21 587.82,137.56 588.52,135.9 589.22,134.21 589.93,132.51 590.63,130.81 591.33,129.11 592.03,127.41 592.73,125.74 593.43,124.08 594.13,122.46 594.84,120.88 595.54,119.35 596.24,117.87 596.94,116.46 597.64,115.12 598.34,113.87 599.04,112.69 599.75,111.62 600.45,110.64 601.15,109.77 601.85,109.01 602.55,108.37 603.25,107.84 603.95,107.44 604.65,107.17 605.36,107.03 606.06,107.01 606.76,107.12 607.46,107.36 608.16,107.73 608.86,108.22 609.56,108.83 610.27,109.56 610.97,110.4 611.67,111.35 612.37,112.4 613.07,113.55 613.77,114.78 614.47,116.1 615.17,117.49 615.88,118.95 616.58,120.47 617.28,122.04 617.98,123.65 618.68,125.29 619.38,126.96 620.08,128.66 620.79,130.36 621.49,132.06 622.19,133.76 622.89,135.45 623.59,137.12 624.29,138.77 624.99,140.39 625.7,141.98 626.4,143.53 627.1,145.04 627.8,146.5 628.5,147.91 629.2,149.27 629.9,150.58 630.6,151.83 631.31,153.02 632.01,154.16 632.71,155.24 633.41,156.27 634.11,157.24 634.81,158.15 635.51,159 636.22,159.8 636.92,160.55 637.62,161.25 638.32,161.9 639.02,162.5 639.72,163.06 640.42,163.58 641.12,164.06 641.83,164.5 642.53,164.9 643.23,165.28 643.93,165.62 644.63,165.93 645.33,166.22 646.03,166.48 646.74,166.72 647.44,166.93 648.14,167.13 648.84,167.31 649.54,167.47 650.24,167.62 650.94,167.75 651.64,167.86 652.35,167.97 653.05,168.06 653.75,168.14 654.45,168.22 655.15,168.28 655.85,168.34 656.55,168.39 657.26,168.43 657.96,168.47 658.66,168.5 659.36,168.53 660.06,168.56 660.76,168.58 661.46,168.6 662.17,168.61 662.87,168.63 663.57,168.64 664.27,168.65 664.97,168.66 665.67,168.66 666.37,168.67 667.07,168.67 667.78,168.68 668.48,168.68 669.18,168.69 669.88,168.69 670.58,168.69 671.28,168.69 671.98,168.69 672.69,168.69 673.39,168.7 674.09,168.7 674.79,168.7 675.49,168.7 676.19,168.7 676.89,168.7 677.59,168.7 678.3,168.7 679,168.69 679.7,168.69 680.4,168.69 681.1,168.69 681.8,168.68 682.5,168.68 683.21,168.67 683.91,168.67 684.61,168.66 685.31,168.65 686.01,168.63 686.71,168.62 687.41,168.6 688.12,168.58 688.82,168.55 689.52,168.52 690.22,168.49 690.92,168.45 691.62,168.4 692.32,168.35 693.02,168.3 693.73,168.24 694.43,168.18 695.13,168.11 695.83,168.05 696.53,167.97 697.23,167.9 697.93,167.83 698.64,167.75 699.34,167.68 700.04,167.61 700.74,167.54 701.44,167.48 702.14,167.43 702.84,167.38 703.54,167.34 704.25,167.31 704.95,167.29 705.65,167.28 706.35,167.28 707.05,167.29 707.75,167.31 708.45,167.34 709.16,167.38 709.86,167.43 710.56,167.48 711.26,167.54 711.96,167.61 712.66,167.68 713.36,167.75 714.06,167.83 714.77,167.9 715.47,167.97 716.17,168.05 716.87,168.11 717.57,168.18 718.27,168.24 718.97,168.3 719.68,168.35 720.38,168.4 721.08,168.45 721.78,168.49 722.48,168.52 723.18,168.55 723.88,168.58 724.59,168.6 725.29,168.62 725.99,168.63 726.69,168.65 727.39,168.66 728.09,168.67 728.79,168.67 729.49,168.68 730.2,168.68 730.9,168.69 731.6,168.69 732.3,168.69'/>
</g>
<rect x='420.2' y='22.3' width='312.1' height='146' fill='none' stroke='#1a1a1a' stroke-width='1.5'/>
<path d='M482.62 168.3v-3.5M482.62 22.3v3.5' stroke='#1a1a1a' stroke-width='1.3'/>
<path d='M545.04 168.3v-3.5M545.04 22.3v3.5' stroke='#1a1a1a' stroke-width='1.3'/>
<path d='M607.46 168.3v-3.5M607.46 22.3v3.5' stroke='#1a1a1a' stroke-width='1.3'/>
<path d='M669.88 168.3v-3.5M669.88 22.3v3.5' stroke='#1a1a1a' stroke-width='1.3'/>
<path d='M420.2 139.1h3.5M732.3 139.1h-3.5' stroke='#1a1a1a' stroke-width='1.3'/>
<path d='M420.2 109.9h3.5M732.3 109.9h-3.5' stroke='#1a1a1a' stroke-width='1.3'/>
<path d='M420.2 80.7h3.5M732.3 80.7h-3.5' stroke='#1a1a1a' stroke-width='1.3'/>
<path d='M420.2 51.5h3.5M732.3 51.5h-3.5' stroke='#1a1a1a' stroke-width='1.3'/>
<text x='430.4' y='183' text-anchor='middle'>-180</text>
<text x='484.75' y='183' text-anchor='middle'>-160</text>
<text x='545.25' y='183' text-anchor='middle'>-140</text>
<text x='610.9' y='183' text-anchor='middle'>-120</text>
<text x='675.1' y='183' text-anchor='middle'>-100</text>
<text x='733.25' y='183' text-anchor='middle'>-80</text>
<text x='409.7' y='170.25' text-anchor='end'>0</text>
<text x='409.7' y='145.3' text-anchor='end'>0.02</text>
<text x='409.7' y='116' text-anchor='end'>0.04</text>
<text x='409.7' y='86.7' text-anchor='end'>0.06</text>
<text x='409.7' y='57.3' text-anchor='end'>0.08</text>
<text x='409.7' y='29.35' text-anchor='end'>0.1</text>
<text x='580.25' y='199.2' text-anchor='middle'>χ (deg.)</text>
<text x='372.4' y='16.8' class='L'>B</text>
<clipPath id='cC'><rect x='57' y='218.2' width='312' height='148.8'/></clipPath>
<g clip-path='url(#cC)' fill='none' stroke-width='1.6' stroke-linejoin='round'>
<polyline stroke='#c40a1c' points='57,364.6 57.7,364.6 58.4,364.6 59.1,364.6 59.8,364.6 60.51,364.6 61.21,364.6 61.91,364.6 62.61,364.6 63.31,364.6 64.01,364.6 64.71,364.6 65.41,364.6 66.11,364.6 66.82,364.6 67.52,364.6 68.22,364.6 68.92,364.6 69.62,364.6 70.32,364.6 71.02,364.6 71.72,364.6 72.42,364.6 73.13,364.6 73.83,364.6 74.53,364.6 75.23,364.6 75.93,364.6 76.63,364.6 77.33,364.6 78.03,364.6 78.73,364.6 79.44,364.6 80.14,364.6 80.84,364.6 81.54,364.6 82.24,364.6 82.94,364.6 83.64,364.6 84.34,364.6 85.04,364.6 85.75,364.6 86.45,364.6 87.15,364.6 87.85,364.59 88.55,364.59 89.25,364.58 89.95,364.57 90.65,364.56 91.36,364.53 92.06,364.5 92.76,364.44 93.46,364.36 94.16,364.25 94.86,364.09 95.56,363.86 96.26,363.56 96.96,363.16 97.67,362.63 98.37,361.96 99.07,361.1 99.77,360.02 100.47,358.66 101.17,356.96 101.87,354.85 102.57,352.26 103.27,349.12 103.98,345.38 104.68,340.98 105.38,335.91 106.08,330.14 106.78,323.7 107.48,316.62 108.18,308.99 108.88,300.93 109.58,292.59 110.29,284.15 110.99,275.82 111.69,267.83 112.39,260.42 113.09,253.82 113.79,248.27 114.49,243.94 115.19,241 115.89,239.55 116.6,239.65 117.3,241.29 118,244.42 118.7,248.91 119.4,254.62 120.1,261.33 120.8,268.82 121.5,276.87 122.2,285.23 122.91,293.67 123.61,301.99 124.31,310 125.01,317.56 125.71,324.56 126.41,330.92 127.11,336.6 127.81,341.59 128.51,345.89 129.22,349.55 129.92,352.62 130.62,355.14 131.32,357.2 132.02,358.85 132.72,360.17 133.42,361.22 134.12,362.05 134.82,362.71 135.53,363.21 136.23,363.6 136.93,363.89 137.63,364.11 138.33,364.26 139.03,364.37 139.73,364.45 140.43,364.5 141.13,364.54 141.84,364.56 142.54,364.57 143.24,364.58 143.94,364.59 144.64,364.59 145.34,364.6 146.04,364.6 146.74,364.6 147.44,364.6 148.15,364.6 148.85,364.6 149.55,364.6 150.25,364.6 150.95,364.6 151.65,364.6 152.35,364.6 153.05,364.6 153.76,364.6 154.46,364.6 155.16,364.6 155.86,364.6 156.56,364.6 157.26,364.6 157.96,364.6 158.66,364.6 159.36,364.6 160.07,364.6 160.77,364.6 161.47,364.6 162.17,364.6 162.87,364.6 163.57,364.6 164.27,364.6 164.97,364.6 165.67,364.6 166.38,364.6 167.08,364.6 167.78,364.6 168.48,364.6 169.18,364.6 169.88,364.6 170.58,364.6 171.28,364.6 171.98,364.6 172.69,364.6 173.39,364.6 174.09,364.6 174.79,364.6 175.49,364.6 176.19,364.6 176.89,364.6 177.59,364.6 178.29,364.6 179,364.6 179.7,364.6 180.4,364.6 181.1,364.6 181.8,364.6 182.5,364.6 183.2,364.6 183.9,364.6 184.6,364.6 185.31,364.6 186.01,364.6 186.71,364.6 187.41,364.6 188.11,364.6 188.81,364.6 189.51,364.6 190.21,364.6 190.91,364.6 191.62,364.6 192.32,364.6 193.02,364.6 193.72,364.6 194.42,364.6 195.12,364.6 195.82,364.6 196.52,364.6 197.22,364.6 197.93,364.6 198.63,364.6 199.33,364.6 200.03,364.6 200.73,364.6 201.43,364.6 202.13,364.6 202.83,364.6 203.53,364.6 204.24,364.6 204.94,364.6 205.64,364.6 206.34,364.6 207.04,364.6 207.74,364.6 208.44,364.6 209.14,364.6 209.84,364.6 210.55,364.6 211.25,364.6 211.95,364.6 212.65,364.6 213.35,364.6 214.05,364.6 214.75,364.6 215.45,364.6 216.16,364.6 216.86,364.6 217.56,364.6 218.26,364.6 218.96,364.6 219.66,364.6 220.36,364.6 221.06,364.6 221.76,364.6 222.47,364.6 223.17,364.6 223.87,364.6 224.57,364.6 225.27,364.6 225.97,364.6 226.67,364.6 227.37,364.6 228.07,364.6 228.78,364.6 229.48,364.6 230.18,364.6 230.88,364.6 231.58,364.6 232.28,364.6 232.98,364.6 233.68,364.6 234.38,364.6 235.09,364.6 235.79,364.6 236.49,364.6 237.19,364.6 237.89,364.6 238.59,364.6 239.29,364.6 239.99,364.6 240.69,364.6 241.4,364.6 242.1,364.6 242.8,364.6 243.5,364.6 244.2,364.6 244.9,364.6 245.6,364.6 246.3,364.6 247,364.6 247.71,364.6 248.41,364.6 249.11,364.6 249.81,364.6 250.51,364.6 251.21,364.6 251.91,364.6 252.61,364.6 253.31,364.6 254.02,364.6 254.72,364.6 255.42,364.6 256.12,364.6 256.82,364.6 257.52,364.6 258.22,364.6 258.92,364.6 259.62,364.6 260.33,364.6 261.03,364.6 261.73,364.6 262.43,364.6 263.13,364.6 263.83,364.6 264.53,364.6 265.23,364.6 265.93,364.6 266.64,364.6 267.34,364.6 268.04,364.6 268.74,364.6 269.44,364.6 270.14,364.6 270.84,364.6 271.54,364.6 272.24,364.6 272.95,364.6 273.65,364.6 274.35,364.6 275.05,364.6 275.75,364.6 276.45,364.6 277.15,364.6 277.85,364.6 278.56,364.6 279.26,364.6 279.96,364.6 280.66,364.6 281.36,364.6 282.06,364.6 282.76,364.6 283.46,364.6 284.16,364.6 284.87,364.6 285.57,364.6 286.27,364.6 286.97,364.6 287.67,364.6 288.37,364.6 289.07,364.6 289.77,364.6 290.47,364.6 291.18,364.6 291.88,364.6 292.58,364.6 293.28,364.6 293.98,364.6 294.68,364.6 295.38,364.6 296.08,364.6 296.78,364.6 297.49,364.6 298.19,364.6 298.89,364.6 299.59,364.6 300.29,364.6 300.99,364.6 301.69,364.6 302.39,364.6 303.09,364.6 303.8,364.6 304.5,364.6 305.2,364.6 305.9,364.6 306.6,364.6 307.3,364.6 308,364.6 308.7,364.6 309.4,364.6 310.11,364.6 310.81,364.6 311.51,364.6 312.21,364.6 312.91,364.6 313.61,364.6 314.31,364.6 315.01,364.6 315.71,364.6 316.42,364.6 317.12,364.6 317.82,364.6 318.52,364.6 319.22,364.6 319.92,364.6 320.62,364.6 321.32,364.6 322.02,364.6 322.73,364.6 323.43,364.6 324.13,364.6 324.83,364.6 325.53,364.6 326.23,364.6 326.93,364.6 327.63,364.6 328.33,364.6 329.04,364.6 329.74,364.6 330.44,364.6 331.14,364.6 331.84,364.6 332.54,364.6 333.24,364.6 333.94,364.6 334.64,364.6 335.35,364.6 336.05,364.6 336.75,364.6 337.45,364.6 338.15,364.6 338.85,364.6 339.55,364.6 340.25,364.6 340.96,364.6 341.66,364.6 342.36,364.6 343.06,364.6 343.76,364.6 344.46,364.6 345.16,364.6 345.86,364.6 346.56,364.6 347.27,364.6 347.97,364.6 348.67,364.6 349.37,364.6 350.07,364.6 350.77,364.6 351.47,364.6 352.17,364.6 352.87,364.6 353.58,364.6 354.28,364.6 354.98,364.6 355.68,364.6 356.38,364.6 357.08,364.6 357.78,364.6 358.48,364.6 359.18,364.6 359.89,364.6 360.59,364.6 361.29,364.6 361.99,364.6 362.69,364.6 363.39,364.6 364.09,364.6 364.79,364.6 365.49,364.6 366.2,364.6 366.9,364.6 367.6,364.6 368.3,364.6 369,364.6'/>
<polyline stroke='#c40a1c' stroke-dasharray='7.2,6.2' points='57,364.6 57.7,364.6 58.4,364.6 59.1,364.6 59.8,364.6 60.51,364.6 61.21,364.6 61.91,364.6 62.61,364.6 63.31,364.6 64.01,364.6 64.71,364.6 65.41,364.6 66.11,364.6 66.82,364.6 67.52,364.6 68.22,364.6 68.92,364.6 69.62,364.6 70.32,364.6 71.02,364.6 71.72,364.6 72.42,364.6 73.13,364.6 73.83,364.6 74.53,364.6 75.23,364.6 75.93,364.6 76.63,364.6 77.33,364.6 78.03,364.6 78.73,364.6 79.44,364.6 80.14,364.6 80.84,364.6 81.54,364.6 82.24,364.6 82.94,364.59 83.64,364.59 84.34,364.58 85.04,364.57 85.75,364.56 86.45,364.53 87.15,364.49 87.85,364.43 88.55,364.35 89.25,364.23 89.95,364.06 90.65,363.82 91.36,363.51 92.06,363.08 92.76,362.53 93.46,361.82 94.16,360.93 94.86,359.79 95.56,358.36 96.26,356.58 96.96,354.37 97.67,351.65 98.37,348.38 99.07,344.5 99.77,339.96 100.47,334.73 101.17,328.82 101.87,322.26 102.57,315.1 103.27,307.44 103.98,299.42 104.68,291.19 105.38,282.96 106.08,274.94 106.78,267.38 107.48,260.5 108.18,254.54 108.88,249.71 109.58,246.18 110.29,244.09 110.99,243.51 111.69,244.47 112.39,246.92 113.09,250.79 113.79,255.91 114.49,262.12 115.19,269.19 115.89,276.89 116.6,284.98 117.3,293.23 118,301.42 118.7,309.37 119.4,316.92 120.1,323.94 120.8,330.34 121.5,336.08 122.2,341.14 122.91,345.52 123.61,349.25 124.31,352.37 125.01,354.95 125.71,357.06 126.41,358.75 127.11,360.1 127.81,361.17 128.51,362.02 129.22,362.68 129.92,363.2 130.62,363.59 131.32,363.89 132.02,364.11 132.72,364.26 133.42,364.37 134.12,364.45 134.82,364.5 135.53,364.54 136.23,364.56 136.93,364.57 137.63,364.58 138.33,364.59 139.03,364.59 139.73,364.6 140.43,364.6 141.13,364.6 141.84,364.6 142.54,364.6 143.24,364.6 143.94,364.6 144.64,364.6 145.34,364.6 146.04,364.6 146.74,364.6 147.44,364.6 148.15,364.6 148.85,364.6 149.55,364.6 150.25,364.6 150.95,364.6 151.65,364.6 152.35,364.6 153.05,364.6 153.76,364.6 154.46,364.6 155.16,364.6 155.86,364.6 156.56,364.6 157.26,364.6 157.96,364.6 158.66,364.6 159.36,364.6 160.07,364.6 160.77,364.6 161.47,364.6 162.17,364.6 162.87,364.6 163.57,364.6 164.27,364.6 164.97,364.6 165.67,364.6 166.38,364.6 167.08,364.6 167.78,364.6 168.48,364.6 169.18,364.6 169.88,364.6 170.58,364.6 171.28,364.6 171.98,364.6 172.69,364.6 173.39,364.6 174.09,364.6 174.79,364.6 175.49,364.6 176.19,364.6 176.89,364.6 177.59,364.6 178.29,364.6 179,364.6 179.7,364.6 180.4,364.6 181.1,364.6 181.8,364.6 182.5,364.6 183.2,364.6 183.9,364.6 184.6,364.6 185.31,364.6 186.01,364.6 186.71,364.6 187.41,364.6 188.11,364.6 188.81,364.6 189.51,364.6 190.21,364.6 190.91,364.6 191.62,364.6 192.32,364.6 193.02,364.6 193.72,364.6 194.42,364.6 195.12,364.6 195.82,364.6 196.52,364.6 197.22,364.6 197.93,364.6 198.63,364.6 199.33,364.6 200.03,364.6 200.73,364.6 201.43,364.6 202.13,364.6 202.83,364.6 203.53,364.6 204.24,364.6 204.94,364.6 205.64,364.6 206.34,364.6 207.04,364.6 207.74,364.6 208.44,364.6 209.14,364.6 209.84,364.6 210.55,364.6 211.25,364.6 211.95,364.6 212.65,364.6 213.35,364.6 214.05,364.6 214.75,364.6 215.45,364.6 216.16,364.6 216.86,364.6 217.56,364.6 218.26,364.6 218.96,364.6 219.66,364.6 220.36,364.6 221.06,364.6 221.76,364.6 222.47,364.6 223.17,364.6 223.87,364.6 224.57,364.6 225.27,364.6 225.97,364.6 226.67,364.6 227.37,364.6 228.07,364.6 228.78,364.6 229.48,364.6 230.18,364.6 230.88,364.6 231.58,364.6 232.28,364.6 232.98,364.6 233.68,364.6 234.38,364.6 235.09,364.6 235.79,364.6 236.49,364.6 237.19,364.6 237.89,364.6 238.59,364.6 239.29,364.6 239.99,364.6 240.69,364.6 241.4,364.6 242.1,364.6 242.8,364.6 243.5,364.6 244.2,364.6 244.9,364.6 245.6,364.6 246.3,364.6 247,364.6 247.71,364.6 248.41,364.6 249.11,364.6 249.81,364.6 250.51,364.6 251.21,364.6 251.91,364.6 252.61,364.6 253.31,364.6 254.02,364.6 254.72,364.6 255.42,364.6 256.12,364.6 256.82,364.6 257.52,364.6 258.22,364.6 258.92,364.6 259.62,364.6 260.33,364.6 261.03,364.6 261.73,364.6 262.43,364.6 263.13,364.6 263.83,364.6 264.53,364.6 265.23,364.6 265.93,364.6 266.64,364.6 267.34,364.6 268.04,364.6 268.74,364.6 269.44,364.6 270.14,364.6 270.84,364.6 271.54,364.6 272.24,364.6 272.95,364.6 273.65,364.6 274.35,364.6 275.05,364.6 275.75,364.6 276.45,364.6 277.15,364.6 277.85,364.6 278.56,364.6 279.26,364.6 279.96,364.6 280.66,364.6 281.36,364.6 282.06,364.6 282.76,364.6 283.46,364.6 284.16,364.6 284.87,364.6 285.57,364.6 286.27,364.6 286.97,364.6 287.67,364.6 288.37,364.6 289.07,364.6 289.77,364.6 290.47,364.6 291.18,364.6 291.88,364.6 292.58,364.6 293.28,364.6 293.98,364.6 294.68,364.6 295.38,364.6 296.08,364.6 296.78,364.6 297.49,364.6 298.19,364.6 298.89,364.6 299.59,364.6 300.29,364.6 300.99,364.6 301.69,364.6 302.39,364.6 303.09,364.6 303.8,364.6 304.5,364.6 305.2,364.6 305.9,364.6 306.6,364.6 307.3,364.6 308,364.6 308.7,364.6 309.4,364.6 310.11,364.6 310.81,364.6 311.51,364.6 312.21,364.6 312.91,364.6 313.61,364.6 314.31,364.6 315.01,364.6 315.71,364.6 316.42,364.6 317.12,364.6 317.82,364.6 318.52,364.6 319.22,364.6 319.92,364.6 320.62,364.6 321.32,364.6 322.02,364.6 322.73,364.6 323.43,364.6 324.13,364.6 324.83,364.6 325.53,364.6 326.23,364.6 326.93,364.6 327.63,364.6 328.33,364.6 329.04,364.6 329.74,364.6 330.44,364.6 331.14,364.6 331.84,364.6 332.54,364.6 333.24,364.6 333.94,364.6 334.64,364.6 335.35,364.6 336.05,364.6 336.75,364.6 337.45,364.6 338.15,364.6 338.85,364.6 339.55,364.6 340.25,364.6 340.96,364.6 341.66,364.6 342.36,364.6 343.06,364.6 343.76,364.6 344.46,364.6 345.16,364.6 345.86,364.6 346.56,364.6 347.27,364.6 347.97,364.6 348.67,364.6 349.37,364.6 350.07,364.6 350.77,364.6 351.47,364.6 352.17,364.6 352.87,364.6 353.58,364.6 354.28,364.6 354.98,364.6 355.68,364.6 356.38,364.6 357.08,364.6 357.78,364.6 358.48,364.6 359.18,364.6 359.89,364.6 360.59,364.6 361.29,364.6 361.99,364.6 362.69,364.6 363.39,364.6 364.09,364.6 364.79,364.6 365.49,364.6 366.2,364.6 366.9,364.6 367.6,364.6 368.3,364.6 369,364.6'/>
<polyline stroke='#c40a1c' stroke-dasharray='3.2,2.2' points='57,364.6 57.7,364.6 58.4,364.6 59.1,364.6 59.8,364.6 60.51,364.6 61.21,364.6 61.91,364.6 62.61,364.6 63.31,364.6 64.01,364.6 64.71,364.6 65.41,364.6 66.11,364.6 66.82,364.6 67.52,364.6 68.22,364.6 68.92,364.6 69.62,364.6 70.32,364.6 71.02,364.6 71.72,364.6 72.42,364.6 73.13,364.6 73.83,364.6 74.53,364.6 75.23,364.6 75.93,364.6 76.63,364.6 77.33,364.6 78.03,364.6 78.73,364.6 79.44,364.6 80.14,364.6 80.84,364.6 81.54,364.6 82.24,364.6 82.94,364.6 83.64,364.6 84.34,364.59 85.04,364.59 85.75,364.58 86.45,364.58 87.15,364.56 87.85,364.54 88.55,364.51 89.25,364.47 89.95,364.4 90.65,364.31 91.36,364.18 92.06,364 92.76,363.76 93.46,363.44 94.16,363.02 94.86,362.48 95.56,361.79 96.26,360.94 96.96,359.86 97.67,358.53 98.37,356.87 99.07,354.84 99.77,352.37 100.47,349.41 101.17,345.9 101.87,341.81 102.57,337.11 103.27,331.79 103.98,325.87 104.68,319.38 105.38,312.38 106.08,304.99 106.78,297.31 107.48,289.5 108.18,281.75 108.88,274.23 109.58,267.17 110.29,260.75 110.99,255.19 111.69,250.65 112.39,247.28 113.09,245.21 113.79,244.5 114.49,245.18 115.19,247.21 115.89,250.55 116.6,255.06 117.3,260.6 118,266.99 118.7,274.05 119.4,281.55 120.1,289.3 120.8,297.11 121.5,304.79 122.2,312.2 122.91,319.2 123.61,325.71 124.31,331.65 125.01,336.98 125.71,341.7 126.41,345.8 127.11,349.33 127.81,352.3 128.51,354.79 129.22,356.83 129.92,358.49 130.62,359.83 131.32,360.91 132.02,361.77 132.72,362.46 133.42,363.01 134.12,363.43 134.82,363.75 135.53,364 136.23,364.18 136.93,364.31 137.63,364.4 138.33,364.47 139.03,364.51 139.73,364.54 140.43,364.56 141.13,364.58 141.84,364.58 142.54,364.59 143.24,364.59 143.94,364.6 144.64,364.6 145.34,364.6 146.04,364.6 146.74,364.6 147.44,364.6 148.15,364.6 148.85,364.6 149.55,364.6 150.25,364.6 150.95,364.6 151.65,364.6 152.35,364.6 153.05,364.6 153.76,364.6 154.46,364.6 155.16,364.6 155.86,364.6 156.56,364.6 157.26,364.6 157.96,364.6 158.66,364.6 159.36,364.6 160.07,364.6 160.77,364.6 161.47,364.6 162.17,364.6 162.87,364.6 163.57,364.6 164.27,364.6 164.97,364.6 165.67,364.6 166.38,364.6 167.08,364.6 167.78,364.6 168.48,364.6 169.18,364.6 169.88,364.6 170.58,364.6 171.28,364.6 171.98,364.6 172.69,364.6 173.39,364.6 174.09,364.6 174.79,364.6 175.49,364.6 176.19,364.6 176.89,364.6 177.59,364.6 178.29,364.6 179,364.6 179.7,364.6 180.4,364.6 181.1,364.6 181.8,364.6 182.5,364.6 183.2,364.6 183.9,364.6 184.6,364.6 185.31,364.6 186.01,364.6 186.71,364.6 187.41,364.6 188.11,364.6 188.81,364.6 189.51,364.6 190.21,364.6 190.91,364.6 191.62,364.6 192.32,364.6 193.02,364.6 193.72,364.6 194.42,364.6 195.12,364.6 195.82,364.6 196.52,364.6 197.22,364.6 197.93,364.6 198.63,364.6 199.33,364.6 200.03,364.6 200.73,364.6 201.43,364.6 202.13,364.6 202.83,364.6 203.53,364.6 204.24,364.6 204.94,364.6 205.64,364.6 206.34,364.6 207.04,364.6 207.74,364.6 208.44,364.6 209.14,364.6 209.84,364.6 210.55,364.6 211.25,364.6 211.95,364.6 212.65,364.6 213.35,364.6 214.05,364.6 214.75,364.6 215.45,364.6 216.16,364.6 216.86,364.6 217.56,364.6 218.26,364.6 218.96,364.6 219.66,364.6 220.36,364.6 221.06,364.6 221.76,364.6 222.47,364.6 223.17,364.6 223.87,364.6 224.57,364.6 225.27,364.6 225.97,364.6 226.67,364.6 227.37,364.6 228.07,364.6 228.78,364.6 229.48,364.6 230.18,364.6 230.88,364.6 231.58,364.6 232.28,364.6 232.98,364.6 233.68,364.6 234.38,364.6 235.09,364.6 235.79,364.6 236.49,364.6 237.19,364.6 237.89,364.6 238.59,364.6 239.29,364.6 239.99,364.6 240.69,364.6 241.4,364.6 242.1,364.6 242.8,364.6 243.5,364.6 244.2,364.6 244.9,364.6 245.6,364.6 246.3,364.6 247,364.6 247.71,364.6 248.41,364.6 249.11,364.6 249.81,364.6 250.51,364.6 251.21,364.6 251.91,364.6 252.61,364.6 253.31,364.6 254.02,364.6 254.72,364.6 255.42,364.6 256.12,364.6 256.82,364.6 257.52,364.6 258.22,364.6 258.92,364.6 259.62,364.6 260.33,364.6 261.03,364.6 261.73,364.6 262.43,364.6 263.13,364.6 263.83,364.6 264.53,364.6 265.23,364.6 265.93,364.6 266.64,364.6 267.34,364.6 268.04,364.6 268.74,364.6 269.44,364.6 270.14,364.6 270.84,364.6 271.54,364.6 272.24,364.6 272.95,364.6 273.65,364.6 274.35,364.6 275.05,364.6 275.75,364.6 276.45,364.6 277.15,364.6 277.85,364.6 278.56,364.6 279.26,364.6 279.96,364.6 280.66,364.6 281.36,364.6 282.06,364.6 282.76,364.6 283.46,364.6 284.16,364.6 284.87,364.6 285.57,364.6 286.27,364.6 286.97,364.6 287.67,364.6 288.37,364.6 289.07,364.6 289.77,364.6 290.47,364.6 291.18,364.6 291.88,364.6 292.58,364.6 293.28,364.6 293.98,364.6 294.68,364.6 295.38,364.6 296.08,364.6 296.78,364.6 297.49,364.6 298.19,364.6 298.89,364.6 299.59,364.6 300.29,364.6 300.99,364.6 301.69,364.6 302.39,364.6 303.09,364.6 303.8,364.6 304.5,364.6 305.2,364.6 305.9,364.6 306.6,364.6 307.3,364.6 308,364.6 308.7,364.6 309.4,364.6 310.11,364.6 310.81,364.6 311.51,364.6 312.21,364.6 312.91,364.6 313.61,364.6 314.31,364.6 315.01,364.6 315.71,364.6 316.42,364.6 317.12,364.6 317.82,364.6 318.52,364.6 319.22,364.6 319.92,364.6 320.62,364.6 321.32,364.6 322.02,364.6 322.73,364.6 323.43,364.6 324.13,364.6 324.83,364.6 325.53,364.6 326.23,364.6 326.93,364.6 327.63,364.6 328.33,364.6 329.04,364.6 329.74,364.6 330.44,364.6 331.14,364.6 331.84,364.6 332.54,364.6 333.24,364.6 333.94,364.6 334.64,364.6 335.35,364.6 336.05,364.6 336.75,364.6 337.45,364.6 338.15,364.6 338.85,364.6 339.55,364.6 340.25,364.6 340.96,364.6 341.66,364.6 342.36,364.6 343.06,364.6 343.76,364.6 344.46,364.6 345.16,364.6 345.86,364.6 346.56,364.6 347.27,364.6 347.97,364.6 348.67,364.6 349.37,364.6 350.07,364.6 350.77,364.6 351.47,364.6 352.17,364.6 352.87,364.6 353.58,364.6 354.28,364.6 354.98,364.6 355.68,364.6 356.38,364.6 357.08,364.6 357.78,364.6 358.48,364.6 359.18,364.6 359.89,364.6 360.59,364.6 361.29,364.6 361.99,364.6 362.69,364.6 363.39,364.6 364.09,364.6 364.79,364.6 365.49,364.6 366.2,364.6 366.9,364.6 367.6,364.6 368.3,364.6 369,364.6'/>
<polyline stroke='#201585' points='57,364.6 57.7,364.6 58.4,364.6 59.1,364.6 59.8,364.6 60.51,364.6 61.21,364.6 61.91,364.6 62.61,364.6 63.31,364.6 64.01,364.6 64.71,364.6 65.41,364.6 66.11,364.6 66.82,364.6 67.52,364.6 68.22,364.6 68.92,364.6 69.62,364.6 70.32,364.6 71.02,364.6 71.72,364.6 72.42,364.6 73.13,364.6 73.83,364.6 74.53,364.6 75.23,364.6 75.93,364.6 76.63,364.6 77.33,364.6 78.03,364.6 78.73,364.6 79.44,364.6 80.14,364.6 80.84,364.6 81.54,364.6 82.24,364.6 82.94,364.6 83.64,364.6 84.34,364.6 85.04,364.6 85.75,364.6 86.45,364.6 87.15,364.6 87.85,364.6 88.55,364.6 89.25,364.6 89.95,364.6 90.65,364.6 91.36,364.6 92.06,364.6 92.76,364.6 93.46,364.6 94.16,364.6 94.86,364.6 95.56,364.6 96.26,364.6 96.96,364.6 97.67,364.6 98.37,364.6 99.07,364.6 99.77,364.6 100.47,364.6 101.17,364.6 101.87,364.6 102.57,364.6 103.27,364.6 103.98,364.6 104.68,364.6 105.38,364.6 106.08,364.6 106.78,364.6 107.48,364.6 108.18,364.6 108.88,364.6 109.58,364.6 110.29,364.6 110.99,364.6 111.69,364.6 112.39,364.6 113.09,364.6 113.79,364.6 114.49,364.6 115.19,364.6 115.89,364.6 116.6,364.6 117.3,364.6 118,364.6 118.7,364.6 119.4,364.6 120.1,364.6 120.8,364.6 121.5,364.6 122.2,364.6 122.91,364.6 123.61,364.6 124.31,364.6 125.01,364.6 125.71,364.6 126.41,364.6 127.11,364.6 127.81,364.6 128.51,364.6 129.22,364.6 129.92,364.6 130.62,364.6 131.32,364.6 132.02,364.6 132.72,364.6 133.42,364.6 134.12,364.6 134.82,364.6 135.53,364.6 136.23,364.6 136.93,364.6 137.63,364.6 138.33,364.6 139.03,364.6 139.73,364.6 140.43,364.6 141.13,364.6 141.84,364.6 142.54,364.6 143.24,364.6 143.94,364.6 144.64,364.6 145.34,364.6 146.04,364.6 146.74,364.6 147.44,364.6 148.15,364.6 148.85,364.6 149.55,364.6 150.25,364.6 150.95,364.6 151.65,364.6 152.35,364.6 153.05,364.6 153.76,364.6 154.46,364.6 155.16,364.6 155.86,364.6 156.56,364.6 157.26,364.6 157.96,364.59 158.66,364.59 159.36,364.59 160.07,364.59 160.77,364.59 161.47,364.59 162.17,364.59 162.87,364.59 163.57,364.58 164.27,364.58 164.97,364.58 165.67,364.58 166.38,364.57 167.08,364.57 167.78,364.57 168.48,364.56 169.18,364.56 169.88,364.55 170.58,364.54 171.28,364.54 171.98,364.53 172.69,364.52 173.39,364.51 174.09,364.5 174.79,364.49 175.49,364.47 176.19,364.46 176.89,364.44 177.59,364.42 178.29,364.4 179,364.38 179.7,364.35 180.4,364.33 181.1,364.3 181.8,364.26 182.5,364.23 183.2,364.19 183.9,364.15 184.6,364.1 185.31,364.05 186.01,363.99 186.71,363.94 187.41,363.87 188.11,363.8 188.81,363.73 189.51,363.65 190.21,363.56 190.91,363.47 191.62,363.37 192.32,363.27 193.02,363.15 193.72,363.03 194.42,362.91 195.12,362.77 195.82,362.63 196.52,362.47 197.22,362.31 197.93,362.14 198.63,361.96 199.33,361.77 200.03,361.57 200.73,361.36 201.43,361.14 202.13,360.9 202.83,360.65 203.53,360.39 204.24,360.12 204.94,359.84 205.64,359.53 206.34,359.22 207.04,358.89 207.74,358.55 208.44,358.19 209.14,357.81 209.84,357.42 210.55,357.01 211.25,356.58 211.95,356.14 212.65,355.68 213.35,355.2 214.05,354.71 214.75,354.2 215.45,353.67 216.16,353.13 216.86,352.57 217.56,351.99 218.26,351.4 218.96,350.79 219.66,350.17 220.36,349.54 221.06,348.9 221.76,348.24 222.47,347.57 223.17,346.89 223.87,346.2 224.57,345.51 225.27,344.81 225.97,344.1 226.67,343.39 227.37,342.68 228.07,341.97 228.78,341.25 229.48,340.55 230.18,339.84 230.88,339.14 231.58,338.45 232.28,337.77 232.98,337.09 233.68,336.43 234.38,335.79 235.09,335.16 235.79,334.55 236.49,333.96 237.19,333.39 237.89,332.84 238.59,332.32 239.29,331.82 239.99,331.35 240.69,330.91 241.4,330.5 242.1,330.13 242.8,329.78 243.5,329.47 244.2,329.2 244.9,328.95 245.6,328.75 246.3,328.58 247,328.46 247.71,328.37 248.41,328.31 249.11,328.3 249.81,328.33 250.51,328.41 251.21,328.53 251.91,328.7 252.61,328.92 253.31,329.18 254.02,329.49 254.72,329.83 255.42,330.22 256.12,330.65 256.82,331.11 257.52,331.62 258.22,332.15 258.92,332.72 259.62,333.32 260.33,333.95 261.03,334.6 261.73,335.28 262.43,335.98 263.13,336.69 263.83,337.43 264.53,338.18 265.23,338.94 265.93,339.71 266.64,340.48 267.34,341.27 268.04,342.05 268.74,342.84 269.44,343.62 270.14,344.41 270.84,345.18 271.54,345.95 272.24,346.71 272.95,347.47 273.65,348.2 274.35,348.93 275.05,349.64 275.75,350.34 276.45,351.02 277.15,351.68 277.85,352.32 278.56,352.95 279.26,353.55 279.96,354.14 280.66,354.7 281.36,355.25 282.06,355.77 282.76,356.27 283.46,356.76 284.16,357.22 284.87,357.66 285.57,358.08 286.27,358.48 286.97,358.86 287.67,359.23 288.37,359.57 289.07,359.9 289.77,360.21 290.47,360.51 291.18,360.79 291.88,361.05 292.58,361.3 293.28,361.54 293.98,361.76 294.68,361.97 295.38,362.17 296.08,362.36 296.78,362.53 297.49,362.7 298.19,362.85 298.89,362.99 299.59,363.13 300.29,363.25 300.99,363.37 301.69,363.48 302.39,363.58 303.09,363.67 303.8,363.76 304.5,363.84 305.2,363.91 305.9,363.98 306.6,364.04 307.3,364.1 308,364.15 308.7,364.19 309.4,364.24 310.11,364.27 310.81,364.31 311.51,364.34 312.21,364.37 312.91,364.4 313.61,364.42 314.31,364.44 315.01,364.46 315.71,364.47 316.42,364.49 317.12,364.5 317.82,364.51 318.52,364.52 319.22,364.53 319.92,364.54 320.62,364.55 321.32,364.56 322.02,364.56 322.73,364.57 323.43,364.57 324.13,364.57 324.83,364.58 325.53,364.58 326.23,364.58 326.93,364.59 327.63,364.59 328.33,364.59 329.04,364.59 329.74,364.59 330.44,364.59 331.14,364.59 331.84,364.6 332.54,364.6 333.24,364.6 333.94,364.6 334.64,364.6 335.35,364.6 336.05,364.6 336.75,364.6 337.45,364.6 338.15,364.6 338.85,364.6 339.55,364.6 340.25,364.6 340.96,364.6 341.66,364.6 342.36,364.6 343.06,364.6 343.76,364.6 344.46,364.6 345.16,364.6 345.86,364.6 346.56,364.6 347.27,364.6 347.97,364.6 348.67,364.6 349.37,364.6 350.07,364.6 350.77,364.6 351.47,364.6 352.17,364.6 352.87,364.6 353.58,364.6 354.28,364.6 354.98,364.6 355.68,364.6 356.38,364.6 357.08,364.6 357.78,364.6 358.48,364.6 359.18,364.6 359.89,364.6 360.59,364.6 361.29,364.6 361.99,364.6 362.69,364.6 363.39,364.6 364.09,364.6 364.79,364.6 365.49,364.6 366.2,364.6 366.9,364.6 367.6,364.6 368.3,364.6 369,364.6'/>
<polyline stroke='#201585' stroke-dasharray='7.2,6.2' points='57,364.6 57.7,364.6 58.4,364.6 59.1,364.6 59.8,364.6 60.51,364.6 61.21,364.6 61.91,364.6 62.61,364.6 63.31,364.6 64.01,364.6 64.71,364.6 65.41,364.6 66.11,364.6 66.82,364.6 67.52,364.6 68.22,364.6 68.92,364.6 69.62,364.6 70.32,364.6 71.02,364.6 71.72,364.6 72.42,364.6 73.13,364.6 73.83,364.6 74.53,364.6 75.23,364.6 75.93,364.6 76.63,364.6 77.33,364.6 78.03,364.6 78.73,364.6 79.44,364.6 80.14,364.6 80.84,364.6 81.54,364.6 82.24,364.6 82.94,364.6 83.64,364.6 84.34,364.6 85.04,364.6 85.75,364.6 86.45,364.6 87.15,364.6 87.85,364.6 88.55,364.6 89.25,364.6 89.95,364.6 90.65,364.6 91.36,364.6 92.06,364.6 92.76,364.6 93.46,364.6 94.16,364.6 94.86,364.6 95.56,364.6 96.26,364.6 96.96,364.6 97.67,364.6 98.37,364.6 99.07,364.6 99.77,364.6 100.47,364.6 101.17,364.6 101.87,364.6 102.57,364.6 103.27,364.6 103.98,364.6 104.68,364.6 105.38,364.6 106.08,364.6 106.78,364.6 107.48,364.6 108.18,364.6 108.88,364.6 109.58,364.6 110.29,364.6 110.99,364.6 111.69,364.6 112.39,364.6 113.09,364.6 113.79,364.6 114.49,364.6 115.19,364.6 115.89,364.6 116.6,364.6 117.3,364.6 118,364.6 118.7,364.6 119.4,364.6 120.1,364.6 120.8,364.6 121.5,364.6 122.2,364.6 122.91,364.6 123.61,364.6 124.31,364.6 125.01,364.6 125.71,364.6 126.41,364.6 127.11,364.6 127.81,364.6 128.51,364.6 129.22,364.6 129.92,364.6 130.62,364.6 131.32,364.6 132.02,364.6 132.72,364.6 133.42,364.6 134.12,364.6 134.82,364.6 135.53,364.6 136.23,364.6 136.93,364.6 137.63,364.6 138.33,364.6 139.03,364.6 139.73,364.6 140.43,364.6 141.13,364.6 141.84,364.6 142.54,364.6 143.24,364.6 143.94,364.6 144.64,364.6 145.34,364.6 146.04,364.6 146.74,364.6 147.44,364.6 148.15,364.6 148.85,364.6 149.55,364.6 150.25,364.6 150.95,364.6 151.65,364.6 152.35,364.6 153.05,364.6 153.76,364.6 154.46,364.6 155.16,364.6 155.86,364.6 156.56,364.6 157.26,364.6 157.96,364.6 158.66,364.6 159.36,364.6 160.07,364.6 160.77,364.6 161.47,364.6 162.17,364.6 162.87,364.6 163.57,364.6 164.27,364.6 164.97,364.6 165.67,364.6 166.38,364.6 167.08,364.6 167.78,364.6 168.48,364.6 169.18,364.6 169.88,364.6 170.58,364.6 171.28,364.6 171.98,364.6 172.69,364.6 173.39,364.6 174.09,364.6 174.79,364.6 175.49,364.6 176.19,364.6 176.89,364.6 177.59,364.6 178.29,364.6 179,364.6 179.7,364.6 180.4,364.6 181.1,364.6 181.8,364.6 182.5,364.6 183.2,364.6 183.9,364.6 184.6,364.6 185.31,364.6 186.01,364.6 186.71,364.6 187.41,364.6 188.11,364.6 188.81,364.6 189.51,364.6 190.21,364.6 190.91,364.6 191.62,364.6 192.32,364.6 193.02,364.6 193.72,364.6 194.42,364.6 195.12,364.6 195.82,364.59 196.52,364.59 197.22,364.59 197.93,364.59 198.63,364.59 199.33,364.58 200.03,364.58 200.73,364.58 201.43,364.57 202.13,364.57 202.83,364.56 203.53,364.56 204.24,364.55 204.94,364.54 205.64,364.53 206.34,364.51 207.04,364.5 207.74,364.48 208.44,364.46 209.14,364.44 209.84,364.41 210.55,364.38 211.25,364.35 211.95,364.31 212.65,364.26 213.35,364.21 214.05,364.15 214.75,364.09 215.45,364.01 216.16,363.93 216.86,363.84 217.56,363.74 218.26,363.63 218.96,363.5 219.66,363.37 220.36,363.21 221.06,363.05 221.76,362.87 222.47,362.67 223.17,362.46 223.87,362.23 224.57,361.98 225.27,361.71 225.97,361.41 226.67,361.1 227.37,360.76 228.07,360.39 228.78,360 229.48,359.58 230.18,359.13 230.88,358.65 231.58,358.13 232.28,357.59 232.98,357 233.68,356.38 234.38,355.73 235.09,355.03 235.79,354.3 236.49,353.53 237.19,352.72 237.89,351.88 238.59,350.99 239.29,350.08 239.99,349.12 240.69,348.14 241.4,347.13 242.1,346.08 242.8,345.01 243.5,343.92 244.2,342.81 244.9,341.68 245.6,340.55 246.3,339.4 247,338.25 247.71,337.1 248.41,335.96 249.11,334.83 249.81,333.72 250.51,332.63 251.21,331.56 251.91,330.53 252.61,329.53 253.31,328.58 254.02,327.68 254.72,326.83 255.42,326.03 256.12,325.3 256.82,324.64 257.52,324.04 258.22,323.53 258.92,323.08 259.62,322.72 260.33,322.44 261.03,322.24 261.73,322.13 262.43,322.1 263.13,322.16 263.83,322.29 264.53,322.51 265.23,322.8 265.93,323.17 266.64,323.61 267.34,324.13 268.04,324.71 268.74,325.36 269.44,326.07 270.14,326.84 270.84,327.67 271.54,328.54 272.24,329.46 272.95,330.42 273.65,331.42 274.35,332.44 275.05,333.5 275.75,334.57 276.45,335.66 277.15,336.77 277.85,337.88 278.56,338.99 279.26,340.1 279.96,341.21 280.66,342.31 281.36,343.39 282.06,344.46 282.76,345.5 283.46,346.53 284.16,347.53 284.87,348.5 285.57,349.44 286.27,350.36 286.97,351.23 287.67,352.08 288.37,352.89 289.07,353.67 289.77,354.41 290.47,355.11 291.18,355.78 291.88,356.41 292.58,357.01 293.28,357.58 293.98,358.11 294.68,358.61 295.38,359.08 296.08,359.52 296.78,359.93 297.49,360.32 298.19,360.68 298.89,361.01 299.59,361.32 300.29,361.61 300.99,361.88 301.69,362.13 302.39,362.36 303.09,362.58 303.8,362.78 304.5,362.96 305.2,363.13 305.9,363.28 306.6,363.42 307.3,363.55 308,363.67 308.7,363.77 309.4,363.87 310.11,363.95 310.81,364.03 311.51,364.1 312.21,364.16 312.91,364.22 313.61,364.26 314.31,364.31 315.01,364.35 315.71,364.38 316.42,364.41 317.12,364.44 317.82,364.46 318.52,364.48 319.22,364.5 319.92,364.51 320.62,364.52 321.32,364.54 322.02,364.54 322.73,364.55 323.43,364.56 324.13,364.57 324.83,364.57 325.53,364.58 326.23,364.58 326.93,364.58 327.63,364.59 328.33,364.59 329.04,364.59 329.74,364.59 330.44,364.59 331.14,364.59 331.84,364.6 332.54,364.6 333.24,364.6 333.94,364.6 334.64,364.6 335.35,364.6 336.05,364.6 336.75,364.6 337.45,364.6 338.15,364.6 338.85,364.6 339.55,364.6 340.25,364.6 340.96,364.6 341.66,364.6 342.36,364.6 343.06,364.6 343.76,364.6 344.46,364.6 345.16,364.6 345.86,364.6 346.56,364.6 347.27,364.6 347.97,364.6 348.67,364.6 349.37,364.6 350.07,364.6 350.77,364.6 351.47,364.6 352.17,364.6 352.87,364.6 353.58,364.6 354.28,364.6 354.98,364.6 355.68,364.6 356.38,364.6 357.08,364.6 357.78,364.6 358.48,364.6 359.18,364.6 359.89,364.6 360.59,364.6 361.29,364.6 361.99,364.6 362.69,364.6 363.39,364.6 364.09,364.6 364.79,364.6 365.49,364.6 366.2,364.6 366.9,364.6 367.6,364.6 368.3,364.6 369,364.6'/>
<polyline stroke='#201585' stroke-dasharray='3.2,2.2' points='57,364.6 57.7,364.6 58.4,364.6 59.1,364.6 59.8,364.6 60.51,364.6 61.21,364.6 61.91,364.6 62.61,364.6 63.31,364.6 64.01,364.6 64.71,364.6 65.41,364.6 66.11,364.6 66.82,364.6 67.52,364.6 68.22,364.6 68.92,364.6 69.62,364.6 70.32,364.6 71.02,364.6 71.72,364.6 72.42,364.6 73.13,364.6 73.83,364.6 74.53,364.6 75.23,364.6 75.93,364.6 76.63,364.6 77.33,364.6 78.03,364.6 78.73,364.6 79.44,364.6 80.14,364.6 80.84,364.6 81.54,364.6 82.24,364.6 82.94,364.6 83.64,364.6 84.34,364.6 85.04,364.6 85.75,364.6 86.45,364.6 87.15,364.6 87.85,364.6 88.55,364.6 89.25,364.6 89.95,364.6 90.65,364.6 91.36,364.6 92.06,364.6 92.76,364.6 93.46,364.6 94.16,364.6 94.86,364.6 95.56,364.6 96.26,364.6 96.96,364.6 97.67,364.6 98.37,364.6 99.07,364.6 99.77,364.6 100.47,364.6 101.17,364.6 101.87,364.6 102.57,364.6 103.27,364.6 103.98,364.6 104.68,364.6 105.38,364.6 106.08,364.6 106.78,364.6 107.48,364.6 108.18,364.6 108.88,364.6 109.58,364.6 110.29,364.6 110.99,364.6 111.69,364.6 112.39,364.6 113.09,364.6 113.79,364.6 114.49,364.6 115.19,364.6 115.89,364.6 116.6,364.6 117.3,364.6 118,364.6 118.7,364.6 119.4,364.6 120.1,364.6 120.8,364.6 121.5,364.6 122.2,364.6 122.91,364.6 123.61,364.6 124.31,364.6 125.01,364.6 125.71,364.6 126.41,364.6 127.11,364.6 127.81,364.6 128.51,364.6 129.22,364.6 129.92,364.6 130.62,364.6 131.32,364.6 132.02,364.6 132.72,364.6 133.42,364.6 134.12,364.6 134.82,364.6 135.53,364.6 136.23,364.6 136.93,364.6 137.63,364.6 138.33,364.6 139.03,364.6 139.73,364.6 140.43,364.6 141.13,364.6 141.84,364.6 142.54,364.6 143.24,364.6 143.94,364.6 144.64,364.6 145.34,364.6 146.04,364.6 146.74,364.6 147.44,364.6 148.15,364.6 148.85,364.6 149.55,364.6 150.25,364.6 150.95,364.6 151.65,364.6 152.35,364.6 153.05,364.6 153.76,364.6 154.46,364.6 155.16,364.6 155.86,364.6 156.56,364.6 157.26,364.6 157.96,364.6 158.66,364.6 159.36,364.6 160.07,364.6 160.77,364.6 161.47,364.6 162.17,364.6 162.87,364.6 163.57,364.6 164.27,364.6 164.97,364.6 165.67,364.6 166.38,364.6 167.08,364.6 167.78,364.6 168.48,364.6 169.18,364.6 169.88,364.6 170.58,364.6 171.28,364.6 171.98,364.6 172.69,364.6 173.39,364.6 174.09,364.6 174.79,364.6 175.49,364.6 176.19,364.6 176.89,364.6 177.59,364.6 178.29,364.6 179,364.6 179.7,364.6 180.4,364.6 181.1,364.6 181.8,364.6 182.5,364.6 183.2,364.6 183.9,364.6 184.6,364.6 185.31,364.6 186.01,364.6 186.71,364.6 187.41,364.6 188.11,364.6 188.81,364.6 189.51,364.59 190.21,364.59 190.91,364.59 191.62,364.59 192.32,364.59 193.02,364.59 193.72,364.59 194.42,364.58 195.12,364.58 195.82,364.58 196.52,364.57 197.22,364.57 197.93,364.56 198.63,364.56 199.33,364.55 200.03,364.54 200.73,364.54 201.43,364.53 202.13,364.51 202.83,364.5 203.53,364.49 204.24,364.47 204.94,364.45 205.64,364.43 206.34,364.41 207.04,364.38 207.74,364.35 208.44,364.32 209.14,364.28 209.84,364.24 210.55,364.19 211.25,364.14 211.95,364.08 212.65,364.02 213.35,363.95 214.05,363.87 214.75,363.79 215.45,363.7 216.16,363.6 216.86,363.49 217.56,363.37 218.26,363.24 218.96,363.1 219.66,362.95 220.36,362.78 221.06,362.61 221.76,362.42 222.47,362.22 223.17,362 223.87,361.77 224.57,361.52 225.27,361.26 225.97,360.97 226.67,360.67 227.37,360.35 228.07,360.01 228.78,359.65 229.48,359.26 230.18,358.86 230.88,358.42 231.58,357.97 232.28,357.48 232.98,356.97 233.68,356.43 234.38,355.87 235.09,355.27 235.79,354.65 236.49,354 237.19,353.31 237.89,352.6 238.59,351.86 239.29,351.1 239.99,350.3 240.69,349.48 241.4,348.63 242.1,347.75 242.8,346.86 243.5,345.94 244.2,345 244.9,344.04 245.6,343.06 246.3,342.07 247,341.07 247.71,340.06 248.41,339.04 249.11,338.02 249.81,336.99 250.51,335.97 251.21,334.96 251.91,333.95 252.61,332.96 253.31,331.98 254.02,331.02 254.72,330.09 255.42,329.18 256.12,328.3 256.82,327.45 257.52,326.64 258.22,325.87 258.92,325.14 259.62,324.46 260.33,323.83 261.03,323.25 261.73,322.73 262.43,322.26 263.13,321.85 263.83,321.5 264.53,321.21 265.23,320.98 265.93,320.82 266.64,320.73 267.34,320.7 268.04,320.75 268.74,320.9 269.44,321.14 270.14,321.47 270.84,321.89 271.54,322.4 272.24,322.99 272.95,323.66 273.65,324.41 274.35,325.23 275.05,326.11 275.75,327.05 276.45,328.05 277.15,329.1 277.85,330.19 278.56,331.32 279.26,332.48 279.96,333.67 280.66,334.87 281.36,336.09 282.06,337.32 282.76,338.55 283.46,339.77 284.16,340.98 284.87,342.19 285.57,343.37 286.27,344.53 286.97,345.67 287.67,346.78 288.37,347.86 289.07,348.9 289.77,349.9 290.47,350.87 291.18,351.8 291.88,352.69 292.58,353.53 293.28,354.34 293.98,355.1 294.68,355.82 295.38,356.5 296.08,357.14 296.78,357.74 297.49,358.3 298.19,358.82 298.89,359.31 299.59,359.77 300.29,360.19 300.99,360.58 301.69,360.95 302.39,361.29 303.09,361.6 303.8,361.89 304.5,362.16 305.2,362.4 305.9,362.63 306.6,362.84 307.3,363.03 308,363.2 308.7,363.36 309.4,363.5 310.11,363.63 310.81,363.75 311.51,363.85 312.21,363.94 312.91,364.03 313.61,364.1 314.31,364.17 315.01,364.22 315.71,364.28 316.42,364.32 317.12,364.36 317.82,364.39 318.52,364.42 319.22,364.45 319.92,364.47 320.62,364.49 321.32,364.51 322.02,364.52 322.73,364.53 323.43,364.54 324.13,364.55 324.83,364.56 325.53,364.57 326.23,364.57 326.93,364.58 327.63,364.58 328.33,364.58 329.04,364.59 329.74,364.59 330.44,364.59 331.14,364.59 331.84,364.59 332.54,364.6 333.24,364.6 333.94,364.6 334.64,364.6 335.35,364.6 336.05,364.6 336.75,364.6 337.45,364.6 338.15,364.6 338.85,364.6 339.55,364.6 340.25,364.6 340.96,364.6 341.66,364.6 342.36,364.6 343.06,364.6 343.76,364.6 344.46,364.6 345.16,364.6 345.86,364.6 346.56,364.6 347.27,364.6 347.97,364.6 348.67,364.6 349.37,364.6 350.07,364.6 350.77,364.6 351.47,364.6 352.17,364.6 352.87,364.6 353.58,364.6 354.28,364.6 354.98,364.6 355.68,364.6 356.38,364.6 357.08,364.6 357.78,364.6 358.48,364.6 359.18,364.6 359.89,364.6 360.59,364.6 361.29,364.6 361.99,364.6 362.69,364.6 363.39,364.6 364.09,364.6 364.79,364.6 365.49,364.6 366.2,364.6 366.9,364.6 367.6,364.6 368.3,364.6 369,364.6'/>
</g>
<rect x='57' y='218.2' width='312' height='145.8' fill='none' stroke='#1a1a1a' stroke-width='1.5'/>
<path d='M119.4 364v-3.5M119.4 218.2v3.5' stroke='#1a1a1a' stroke-width='1.3'/>
<path d='M181.8 364v-3.5M181.8 218.2v3.5' stroke='#1a1a1a' stroke-width='1.3'/>
<path d='M244.2 364v-3.5M244.2 218.2v3.5' stroke='#1a1a1a' stroke-width='1.3'/>
<path d='M306.6 364v-3.5M306.6 218.2v3.5' stroke='#1a1a1a' stroke-width='1.3'/>
<path d='M57 315.4h3.5M369 315.4h-3.5' stroke='#1a1a1a' stroke-width='1.3'/>
<path d='M57 266.8h3.5M369 266.8h-3.5' stroke='#1a1a1a' stroke-width='1.3'/>
<text x='61.25' y='380' text-anchor='middle'>60</text>
<text x='120' y='380' text-anchor='middle'>80</text>
<text x='182.1' y='380' text-anchor='middle'>100</text>
<text x='248.1' y='380' text-anchor='middle'>120</text>
<text x='311.9' y='380' text-anchor='middle'>140</text>
<text x='369.4' y='380' text-anchor='middle'>160</text>
<text x='47' y='365.25' text-anchor='end'>0</text>
<text x='47' y='321.7' text-anchor='end'>0.04</text>
<text x='47' y='272.3' text-anchor='end'>0.08</text>
<text x='47' y='225.25' text-anchor='end'>0.12</text>
<text x='214.1' y='397.3' text-anchor='middle'>δ (deg.)</text>
<text x='0.9' y='205.6' class='L'>C</text>
<text transform='translate(14.2 290.3) rotate(-90)' text-anchor='middle'>Probability</text>
<clipPath id='cD'><rect x='420.2' y='218.6' width='312.1' height='148.5'/></clipPath>
<g clip-path='url(#cD)' fill='none' stroke-width='1.6' stroke-linejoin='round'>
<polyline stroke='#c40a1c' points='420.2,363.6 420.9,363.6 421.6,363.6 422.3,363.6 423.01,363.6 423.71,363.6 424.41,363.6 425.11,363.6 425.81,363.6 426.51,363.6 427.21,363.6 427.91,363.6 428.62,363.6 429.32,363.6 430.02,363.6 430.72,363.6 431.42,363.6 432.12,363.6 432.82,363.6 433.53,363.6 434.23,363.6 434.93,363.6 435.63,363.6 436.33,363.6 437.03,363.6 437.73,363.6 438.44,363.6 439.14,363.6 439.84,363.6 440.54,363.6 441.24,363.6 441.94,363.6 442.64,363.6 443.34,363.6 444.05,363.6 444.75,363.6 445.45,363.6 446.15,363.6 446.85,363.6 447.55,363.6 448.25,363.6 448.96,363.6 449.66,363.6 450.36,363.6 451.06,363.6 451.76,363.6 452.46,363.6 453.16,363.6 453.86,363.6 454.57,363.6 455.27,363.6 455.97,363.6 456.67,363.6 457.37,363.6 458.07,363.6 458.77,363.6 459.48,363.6 460.18,363.6 460.88,363.6 461.58,363.6 462.28,363.6 462.98,363.6 463.68,363.6 464.38,363.6 465.09,363.6 465.79,363.6 466.49,363.6 467.19,363.6 467.89,363.6 468.59,363.6 469.29,363.6 470,363.6 470.7,363.6 471.4,363.6 472.1,363.6 472.8,363.6 473.5,363.6 474.2,363.6 474.91,363.6 475.61,363.6 476.31,363.6 477.01,363.6 477.71,363.59 478.41,363.59 479.11,363.58 479.81,363.56 480.52,363.53 481.22,363.48 481.92,363.39 482.62,363.23 483.32,362.97 484.02,362.54 484.72,361.84 485.43,360.77 486.13,359.17 486.83,356.89 487.53,353.79 488.23,349.68 488.93,344.4 489.63,337.8 490.33,329.8 491.04,320.38 491.74,309.67 492.44,297.89 493.14,285.41 493.84,272.72 494.54,260.43 495.24,249.19 495.95,239.65 496.65,232.42 497.35,227.97 498.05,226.61 498.75,228.68 499.45,234.22 500.15,242.81 500.86,253.8 501.56,266.43 502.26,279.88 502.96,293.39 503.66,306.29 504.36,318.08 505.06,328.42 505.76,337.17 506.47,344.3 507.17,349.93 507.87,354.22 508.57,357.39 509.27,359.64 509.97,361.17 510.67,362.16 511.38,362.77 512.08,363.13 512.78,363.34 513.48,363.45 514.18,363.52 514.88,363.56 515.58,363.58 516.28,363.59 516.99,363.59 517.69,363.6 518.39,363.6 519.09,363.6 519.79,363.6 520.49,363.6 521.19,363.6 521.9,363.6 522.6,363.6 523.3,363.6 524,363.6 524.7,363.6 525.4,363.6 526.1,363.6 526.8,363.6 527.51,363.6 528.21,363.6 528.91,363.6 529.61,363.6 530.31,363.6 531.01,363.6 531.71,363.6 532.42,363.6 533.12,363.6 533.82,363.6 534.52,363.6 535.22,363.6 535.92,363.6 536.62,363.6 537.33,363.6 538.03,363.6 538.73,363.6 539.43,363.6 540.13,363.6 540.83,363.6 541.53,363.6 542.23,363.6 542.94,363.6 543.64,363.6 544.34,363.6 545.04,363.6 545.74,363.6 546.44,363.6 547.14,363.6 547.85,363.6 548.55,363.6 549.25,363.6 549.95,363.6 550.65,363.6 551.35,363.6 552.05,363.6 552.75,363.6 553.46,363.6 554.16,363.6 554.86,363.6 555.56,363.6 556.26,363.6 556.96,363.6 557.66,363.6 558.37,363.6 559.07,363.6 559.77,363.6 560.47,363.6 561.17,363.6 561.87,363.6 562.57,363.6 563.28,363.6 563.98,363.6 564.68,363.6 565.38,363.6 566.08,363.6 566.78,363.6 567.48,363.6 568.18,363.6 568.89,363.6 569.59,363.6 570.29,363.6 570.99,363.6 571.69,363.6 572.39,363.6 573.09,363.6 573.8,363.6 574.5,363.6 575.2,363.6 575.9,363.6 576.6,363.6 577.3,363.6 578,363.6 578.7,363.6 579.41,363.6 580.11,363.6 580.81,363.6 581.51,363.6 582.21,363.6 582.91,363.6 583.61,363.6 584.32,363.6 585.02,363.6 585.72,363.6 586.42,363.6 587.12,363.6 587.82,363.6 588.52,363.6 589.22,363.6 589.93,363.6 590.63,363.6 591.33,363.6 592.03,363.6 592.73,363.6 593.43,363.6 594.13,363.6 594.84,363.6 595.54,363.6 596.24,363.6 596.94,363.6 597.64,363.6 598.34,363.6 599.04,363.6 599.75,363.6 600.45,363.6 601.15,363.6 601.85,363.6 602.55,363.6 603.25,363.6 603.95,363.6 604.65,363.6 605.36,363.6 606.06,363.6 606.76,363.6 607.46,363.6 608.16,363.6 608.86,363.6 609.56,363.6 610.27,363.6 610.97,363.6 611.67,363.6 612.37,363.6 613.07,363.6 613.77,363.6 614.47,363.6 615.17,363.6 615.88,363.6 616.58,363.6 617.28,363.6 617.98,363.6 618.68,363.6 619.38,363.6 620.08,363.6 620.79,363.6 621.49,363.6 622.19,363.6 622.89,363.6 623.59,363.6 624.29,363.6 624.99,363.6 625.7,363.6 626.4,363.6 627.1,363.6 627.8,363.6 628.5,363.6 629.2,363.6 629.9,363.6 630.6,363.6 631.31,363.6 632.01,363.6 632.71,363.6 633.41,363.6 634.11,363.6 634.81,363.6 635.51,363.6 636.22,363.6 636.92,363.6 637.62,363.6 638.32,363.6 639.02,363.6 639.72,363.6 640.42,363.6 641.12,363.6 641.83,363.6 642.53,363.6 643.23,363.6 643.93,363.6 644.63,363.6 645.33,363.6 646.03,363.6 646.74,363.6 647.44,363.6 648.14,363.6 648.84,363.6 649.54,363.6 650.24,363.6 650.94,363.6 651.64,363.6 652.35,363.6 653.05,363.6 653.75,363.6 654.45,363.6 655.15,363.6 655.85,363.6 656.55,363.6 657.26,363.6 657.96,363.6 658.66,363.6 659.36,363.6 660.06,363.6 660.76,363.6 661.46,363.6 662.17,363.6 662.87,363.6 663.57,363.6 664.27,363.6 664.97,363.6 665.67,363.6 666.37,363.6 667.07,363.6 667.78,363.6 668.48,363.6 669.18,363.6 669.88,363.6 670.58,363.6 671.28,363.6 671.98,363.6 672.69,363.6 673.39,363.6 674.09,363.6 674.79,363.6 675.49,363.6 676.19,363.6 676.89,363.6 677.59,363.6 678.3,363.6 679,363.6 679.7,363.6 680.4,363.6 681.1,363.6 681.8,363.6 682.5,363.6 683.21,363.6 683.91,363.6 684.61,363.6 685.31,363.6 686.01,363.6 686.71,363.6 687.41,363.6 688.12,363.6 688.82,363.6 689.52,363.6 690.22,363.6 690.92,363.6 691.62,363.6 692.32,363.6 693.02,363.6 693.73,363.6 694.43,363.6 695.13,363.6 695.83,363.6 696.53,363.6 697.23,363.6 697.93,363.6 698.64,363.6 699.34,363.6 700.04,363.6 700.74,363.6 701.44,363.6 702.14,363.6 702.84,363.6 703.54,363.6 704.25,363.6 704.95,363.6 705.65,363.6 706.35,363.6 707.05,363.6 707.75,363.6 708.45,363.6 709.16,363.6 709.86,363.6 710.56,363.6 711.26,363.6 711.96,363.6 712.66,363.6 713.36,363.6 714.06,363.6 714.77,363.6 715.47,363.6 716.17,363.6 716.87,363.6 717.57,363.6 718.27,363.6 718.97,363.6 719.68,363.6 720.38,363.6 721.08,363.6 721.78,363.6 722.48,363.6 723.18,363.6 723.88,363.6 724.59,363.6 725.29,363.6 725.99,363.6 726.69,363.6 727.39,363.6 728.09,363.6 728.79,363.6 729.49,363.6 730.2,363.6 730.9,363.6 731.6,363.6 732.3,363.6'/>
<polyline stroke='#c40a1c' stroke-dasharray='3.2,2.2' points='420.2,363.6 420.9,363.6 421.6,363.6 422.3,363.6 423.01,363.6 423.71,363.6 424.41,363.6 425.11,363.6 425.81,363.6 426.51,363.6 427.21,363.6 427.91,363.6 428.62,363.6 429.32,363.6 430.02,363.6 430.72,363.6 431.42,363.6 432.12,363.6 432.82,363.6 433.53,363.6 434.23,363.6 434.93,363.6 435.63,363.6 436.33,363.6 437.03,363.6 437.73,363.6 438.44,363.6 439.14,363.6 439.84,363.6 440.54,363.6 441.24,363.6 441.94,363.6 442.64,363.6 443.34,363.6 444.05,363.6 444.75,363.6 445.45,363.6 446.15,363.6 446.85,363.6 447.55,363.6 448.25,363.6 448.96,363.6 449.66,363.6 450.36,363.6 451.06,363.6 451.76,363.6 452.46,363.6 453.16,363.6 453.86,363.6 454.57,363.6 455.27,363.6 455.97,363.6 456.67,363.6 457.37,363.6 458.07,363.6 458.77,363.6 459.48,363.6 460.18,363.6 460.88,363.6 461.58,363.6 462.28,363.6 462.98,363.6 463.68,363.6 464.38,363.6 465.09,363.6 465.79,363.6 466.49,363.6 467.19,363.6 467.89,363.6 468.59,363.6 469.29,363.6 470,363.6 470.7,363.6 471.4,363.6 472.1,363.6 472.8,363.6 473.5,363.6 474.2,363.6 474.91,363.6 475.61,363.6 476.31,363.6 477.01,363.6 477.71,363.6 478.41,363.6 479.11,363.59 479.81,363.59 480.52,363.58 481.22,363.57 481.92,363.54 482.62,363.5 483.32,363.42 484.02,363.29 484.72,363.09 485.43,362.75 486.13,362.22 486.83,361.39 487.53,360.15 488.23,358.39 488.93,355.97 489.63,352.75 490.33,348.6 491.04,343.38 491.74,337 492.44,329.41 493.14,320.64 493.84,310.82 494.54,300.18 495.24,289.05 495.95,277.87 496.65,267.14 497.35,257.41 498.05,249.22 498.75,243.04 499.45,239.26 500.15,238.11 500.86,239.67 501.56,243.84 502.26,250.35 502.96,258.82 503.66,268.74 504.36,279.57 505.06,290.77 505.76,301.85 506.47,312.38 507.17,322.06 507.87,330.65 508.57,338.06 509.27,344.26 509.97,349.3 510.67,353.3 511.38,356.39 512.08,358.7 512.78,360.37 513.48,361.54 514.18,362.31 514.88,362.81 515.58,363.13 516.28,363.32 516.99,363.43 517.69,363.5 518.39,363.55 519.09,363.57 519.79,363.58 520.49,363.59 521.19,363.6 521.9,363.6 522.6,363.6 523.3,363.6 524,363.6 524.7,363.6 525.4,363.6 526.1,363.6 526.8,363.6 527.51,363.6 528.21,363.6 528.91,363.6 529.61,363.6 530.31,363.6 531.01,363.6 531.71,363.6 532.42,363.6 533.12,363.6 533.82,363.6 534.52,363.6 535.22,363.6 535.92,363.6 536.62,363.6 537.33,363.6 538.03,363.6 538.73,363.6 539.43,363.6 540.13,363.6 540.83,363.6 541.53,363.6 542.23,363.6 542.94,363.6 543.64,363.6 544.34,363.6 545.04,363.6 545.74,363.6 546.44,363.6 547.14,363.6 547.85,363.6 548.55,363.6 549.25,363.6 549.95,363.6 550.65,363.6 551.35,363.6 552.05,363.6 552.75,363.6 553.46,363.6 554.16,363.6 554.86,363.6 555.56,363.6 556.26,363.6 556.96,363.6 557.66,363.6 558.37,363.6 559.07,363.6 559.77,363.6 560.47,363.6 561.17,363.6 561.87,363.6 562.57,363.6 563.28,363.6 563.98,363.6 564.68,363.6 565.38,363.6 566.08,363.6 566.78,363.6 567.48,363.6 568.18,363.6 568.89,363.6 569.59,363.6 570.29,363.6 570.99,363.6 571.69,363.6 572.39,363.6 573.09,363.6 573.8,363.6 574.5,363.6 575.2,363.6 575.9,363.6 576.6,363.6 577.3,363.6 578,363.6 578.7,363.6 579.41,363.6 580.11,363.6 580.81,363.6 581.51,363.6 582.21,363.6 582.91,363.6 583.61,363.6 584.32,363.6 585.02,363.6 585.72,363.6 586.42,363.6 587.12,363.6 587.82,363.6 588.52,363.6 589.22,363.6 589.93,363.6 590.63,363.6 591.33,363.6 592.03,363.6 592.73,363.6 593.43,363.6 594.13,363.6 594.84,363.6 595.54,363.6 596.24,363.6 596.94,363.6 597.64,363.6 598.34,363.6 599.04,363.6 599.75,363.6 600.45,363.6 601.15,363.6 601.85,363.6 602.55,363.6 603.25,363.6 603.95,363.6 604.65,363.6 605.36,363.6 606.06,363.6 606.76,363.6 607.46,363.6 608.16,363.6 608.86,363.6 609.56,363.6 610.27,363.6 610.97,363.6 611.67,363.6 612.37,363.6 613.07,363.6 613.77,363.6 614.47,363.6 615.17,363.6 615.88,363.6 616.58,363.6 617.28,363.6 617.98,363.6 618.68,363.6 619.38,363.6 620.08,363.6 620.79,363.6 621.49,363.6 622.19,363.6 622.89,363.6 623.59,363.6 624.29,363.6 624.99,363.6 625.7,363.6 626.4,363.6 627.1,363.6 627.8,363.6 628.5,363.6 629.2,363.6 629.9,363.6 630.6,363.6 631.31,363.6 632.01,363.6 632.71,363.6 633.41,363.6 634.11,363.6 634.81,363.6 635.51,363.6 636.22,363.6 636.92,363.6 637.62,363.6 638.32,363.6 639.02,363.6 639.72,363.6 640.42,363.6 641.12,363.6 641.83,363.6 642.53,363.6 643.23,363.6 643.93,363.6 644.63,363.6 645.33,363.6 646.03,363.6 646.74,363.6 647.44,363.6 648.14,363.6 648.84,363.6 649.54,363.6 650.24,363.6 650.94,363.6 651.64,363.6 652.35,363.6 653.05,363.6 653.75,363.6 654.45,363.6 655.15,363.6 655.85,363.6 656.55,363.6 657.26,363.6 657.96,363.6 658.66,363.6 659.36,363.6 660.06,363.6 660.76,363.6 661.46,363.6 662.17,363.6 662.87,363.6 663.57,363.6 664.27,363.6 664.97,363.6 665.67,363.6 666.37,363.6 667.07,363.6 667.78,363.6 668.48,363.6 669.18,363.6 669.88,363.6 670.58,363.6 671.28,363.6 671.98,363.6 672.69,363.6 673.39,363.6 674.09,363.6 674.79,363.6 675.49,363.6 676.19,363.6 676.89,363.6 677.59,363.6 678.3,363.6 679,363.6 679.7,363.6 680.4,363.6 681.1,363.6 681.8,363.6 682.5,363.6 683.21,363.6 683.91,363.6 684.61,363.6 685.31,363.6 686.01,363.6 686.71,363.6 687.41,363.6 688.12,363.6 688.82,363.6 689.52,363.6 690.22,363.6 690.92,363.6 691.62,363.6 692.32,363.6 693.02,363.6 693.73,363.6 694.43,363.6 695.13,363.6 695.83,363.6 696.53,363.6 697.23,363.6 697.93,363.6 698.64,363.6 699.34,363.6 700.04,363.6 700.74,363.6 701.44,363.6 702.14,363.6 702.84,363.6 703.54,363.6 704.25,363.6 704.95,363.6 705.65,363.6 706.35,363.6 707.05,363.6 707.75,363.6 708.45,363.6 709.16,363.6 709.86,363.6 710.56,363.6 711.26,363.6 711.96,363.6 712.66,363.6 713.36,363.6 714.06,363.6 714.77,363.6 715.47,363.6 716.17,363.6 716.87,363.6 717.57,363.6 718.27,363.6 718.97,363.6 719.68,363.6 720.38,363.6 721.08,363.6 721.78,363.6 722.48,363.6 723.18,363.6 723.88,363.6 724.59,363.6 725.29,363.6 725.99,363.6 726.69,363.6 727.39,363.6 728.09,363.6 728.79,363.6 729.49,363.6 730.2,363.6 730.9,363.6 731.6,363.6 732.3,363.6'/>
<polyline stroke='#c40a1c' stroke-dasharray='7.2,6.2' points='420.2,363.6 420.9,363.6 421.6,363.6 422.3,363.6 423.01,363.6 423.71,363.6 424.41,363.6 425.11,363.6 425.81,363.6 426.51,363.6 427.21,363.6 427.91,363.6 428.62,363.6 429.32,363.6 430.02,363.6 430.72,363.6 431.42,363.6 432.12,363.6 432.82,363.6 433.53,363.6 434.23,363.6 434.93,363.6 435.63,363.6 436.33,363.6 437.03,363.6 437.73,363.6 438.44,363.6 439.14,363.6 439.84,363.6 440.54,363.6 441.24,363.6 441.94,363.6 442.64,363.6 443.34,363.6 444.05,363.6 444.75,363.6 445.45,363.6 446.15,363.6 446.85,363.6 447.55,363.6 448.25,363.6 448.96,363.6 449.66,363.6 450.36,363.6 451.06,363.6 451.76,363.6 452.46,363.6 453.16,363.6 453.86,363.6 454.57,363.6 455.27,363.6 455.97,363.6 456.67,363.6 457.37,363.6 458.07,363.6 458.77,363.6 459.48,363.6 460.18,363.6 460.88,363.6 461.58,363.6 462.28,363.6 462.98,363.6 463.68,363.6 464.38,363.6 465.09,363.6 465.79,363.6 466.49,363.6 467.19,363.6 467.89,363.6 468.59,363.6 469.29,363.6 470,363.6 470.7,363.6 471.4,363.6 472.1,363.6 472.8,363.6 473.5,363.6 474.2,363.6 474.91,363.6 475.61,363.6 476.31,363.6 477.01,363.6 477.71,363.6 478.41,363.6 479.11,363.6 479.81,363.6 480.52,363.6 481.22,363.6 481.92,363.6 482.62,363.6 483.32,363.59 484.02,363.59 484.72,363.58 485.43,363.56 486.13,363.52 486.83,363.47 487.53,363.38 488.23,363.23 488.93,362.99 489.63,362.6 490.33,361.99 491.04,361.08 491.74,359.74 492.44,357.87 493.14,355.34 493.84,352.02 494.54,347.78 495.24,342.51 495.95,336.12 496.65,328.57 497.35,319.92 498.05,310.28 498.75,299.88 499.45,289.04 500.15,278.15 500.86,267.7 501.56,258.2 502.26,250.13 502.96,243.95 503.66,240.03 504.36,238.6 505.06,239.75 505.76,243.41 506.47,249.36 507.17,257.24 507.87,266.61 508.57,276.98 509.27,287.84 509.97,298.71 510.67,309.18 511.38,318.91 512.08,327.68 512.78,335.35 513.48,341.87 514.18,347.26 514.88,351.6 515.58,355.02 516.28,357.63 516.99,359.56 517.69,360.95 518.39,361.91 519.09,362.55 519.79,362.95 520.49,363.21 521.19,363.36 521.9,363.46 522.6,363.52 523.3,363.55 524,363.57 524.7,363.59 525.4,363.59 526.1,363.6 526.8,363.6 527.51,363.6 528.21,363.6 528.91,363.6 529.61,363.6 530.31,363.6 531.01,363.6 531.71,363.6 532.42,363.6 533.12,363.6 533.82,363.6 534.52,363.6 535.22,363.6 535.92,363.6 536.62,363.6 537.33,363.6 538.03,363.6 538.73,363.6 539.43,363.6 540.13,363.6 540.83,363.6 541.53,363.6 542.23,363.6 542.94,363.6 543.64,363.6 544.34,363.6 545.04,363.6 545.74,363.6 546.44,363.6 547.14,363.6 547.85,363.6 548.55,363.6 549.25,363.6 549.95,363.6 550.65,363.6 551.35,363.6 552.05,363.6 552.75,363.6 553.46,363.6 554.16,363.6 554.86,363.6 555.56,363.6 556.26,363.6 556.96,363.6 557.66,363.6 558.37,363.6 559.07,363.6 559.77,363.6 560.47,363.6 561.17,363.6 561.87,363.6 562.57,363.6 563.28,363.6 563.98,363.6 564.68,363.6 565.38,363.6 566.08,363.6 566.78,363.6 567.48,363.6 568.18,363.6 568.89,363.6 569.59,363.6 570.29,363.6 570.99,363.6 571.69,363.6 572.39,363.6 573.09,363.6 573.8,363.6 574.5,363.6 575.2,363.6 575.9,363.6 576.6,363.6 577.3,363.6 578,363.6 578.7,363.6 579.41,363.6 580.11,363.6 580.81,363.6 581.51,363.6 582.21,363.6 582.91,363.6 583.61,363.6 584.32,363.6 585.02,363.6 585.72,363.6 586.42,363.6 587.12,363.6 587.82,363.6 588.52,363.6 589.22,363.6 589.93,363.6 590.63,363.6 591.33,363.6 592.03,363.6 592.73,363.6 593.43,363.6 594.13,363.6 594.84,363.6 595.54,363.6 596.24,363.6 596.94,363.6 597.64,363.6 598.34,363.6 599.04,363.6 599.75,363.6 600.45,363.6 601.15,363.6 601.85,363.6 602.55,363.6 603.25,363.6 603.95,363.6 604.65,363.6 605.36,363.6 606.06,363.6 606.76,363.6 607.46,363.6 608.16,363.6 608.86,363.6 609.56,363.6 610.27,363.6 610.97,363.6 611.67,363.6 612.37,363.6 613.07,363.6 613.77,363.6 614.47,363.6 615.17,363.6 615.88,363.6 616.58,363.6 617.28,363.6 617.98,363.6 618.68,363.6 619.38,363.6 620.08,363.6 620.79,363.6 621.49,363.6 622.19,363.6 622.89,363.6 623.59,363.6 624.29,363.6 624.99,363.6 625.7,363.6 626.4,363.6 627.1,363.6 627.8,363.6 628.5,363.6 629.2,363.6 629.9,363.6 630.6,363.6 631.31,363.6 632.01,363.6 632.71,363.6 633.41,363.6 634.11,363.6 634.81,363.6 635.51,363.6 636.22,363.6 636.92,363.6 637.62,363.6 638.32,363.6 639.02,363.6 639.72,363.6 640.42,363.6 641.12,363.6 641.83,363.6 642.53,363.6 643.23,363.6 643.93,363.6 644.63,363.6 645.33,363.6 646.03,363.6 646.74,363.6 647.44,363.6 648.14,363.6 648.84,363.6 649.54,363.6 650.24,363.6 650.94,363.6 651.64,363.6 652.35,363.6 653.05,363.6 653.75,363.6 654.45,363.6 655.15,363.6 655.85,363.6 656.55,363.6 657.26,363.6 657.96,363.6 658.66,363.6 659.36,363.6 660.06,363.6 660.76,363.6 661.46,363.6 662.17,363.6 662.87,363.6 663.57,363.6 664.27,363.6 664.97,363.6 665.67,363.6 666.37,363.6 667.07,363.6 667.78,363.6 668.48,363.6 669.18,363.6 669.88,363.6 670.58,363.6 671.28,363.6 671.98,363.6 672.69,363.6 673.39,363.6 674.09,363.6 674.79,363.6 675.49,363.6 676.19,363.6 676.89,363.6 677.59,363.6 678.3,363.6 679,363.6 679.7,363.6 680.4,363.6 681.1,363.6 681.8,363.6 682.5,363.6 683.21,363.6 683.91,363.6 684.61,363.6 685.31,363.6 686.01,363.6 686.71,363.6 687.41,363.6 688.12,363.6 688.82,363.6 689.52,363.6 690.22,363.6 690.92,363.6 691.62,363.6 692.32,363.6 693.02,363.6 693.73,363.6 694.43,363.6 695.13,363.6 695.83,363.6 696.53,363.6 697.23,363.6 697.93,363.6 698.64,363.6 699.34,363.6 700.04,363.6 700.74,363.6 701.44,363.6 702.14,363.6 702.84,363.6 703.54,363.6 704.25,363.6 704.95,363.6 705.65,363.6 706.35,363.6 707.05,363.6 707.75,363.6 708.45,363.6 709.16,363.6 709.86,363.6 710.56,363.6 711.26,363.6 711.96,363.6 712.66,363.6 713.36,363.6 714.06,363.6 714.77,363.6 715.47,363.6 716.17,363.6 716.87,363.6 717.57,363.6 718.27,363.6 718.97,363.6 719.68,363.6 720.38,363.6 721.08,363.6 721.78,363.6 722.48,363.6 723.18,363.6 723.88,363.6 724.59,363.6 725.29,363.6 725.99,363.6 726.69,363.6 727.39,363.6 728.09,363.6 728.79,363.6 729.49,363.6 730.2,363.6 730.9,363.6 731.6,363.6 732.3,363.6'/>
<polyline stroke='#201585' points='420,363.39 424.01,363.38 429.23,363.38 435.45,363.37 442.44,363.36 449.98,363.34 457.86,363.33 465.86,363.32 473.76,363.3 481.35,363.29 488.39,363.27 494.68,363.26 500,363.24 504.45,363.24 508.33,363.25 511.72,363.27 514.71,363.29 517.39,363.32 519.83,363.34 522.12,363.34 524.34,363.33 526.58,363.3 528.91,363.24 531.42,363.15 534.2,363.01 537.19,362.82 540.27,362.59 543.41,362.31 546.59,362 549.79,361.65 552.98,361.28 556.13,360.87 559.22,360.45 562.23,360.02 565.13,359.57 567.89,359.13 570.5,358.69 572.96,358.24 575.32,357.77 577.57,357.28 579.73,356.79 581.81,356.28 583.81,355.76 585.75,355.24 587.62,354.72 589.45,354.2 591.23,353.69 592.98,353.19 594.7,352.7 596.37,352.21 597.97,351.71 599.49,351.21 600.96,350.7 602.38,350.2 603.76,349.71 605.1,349.22 606.41,348.75 607.71,348.3 609.01,347.87 610.3,347.47 611.6,347.1 612.88,346.76 614.1,346.46 615.28,346.19 616.43,345.93 617.56,345.7 618.69,345.48 619.83,345.27 620.99,345.07 622.19,344.86 623.43,344.65 624.73,344.43 626.1,344.2 627.58,343.94 629.16,343.64 630.83,343.31 632.56,342.97 634.33,342.64 636.1,342.31 637.86,342.01 639.57,341.75 641.22,341.53 642.77,341.38 644.21,341.3 645.5,341.3 646.65,341.38 647.68,341.51 648.61,341.7 649.45,341.94 650.23,342.23 650.96,342.56 651.65,342.94 652.33,343.36 653,343.82 653.7,344.31 654.42,344.84 655.2,345.4 656.01,346.02 656.82,346.71 657.63,347.47 658.44,348.28 659.25,349.13 660.06,350.01 660.87,350.9 661.67,351.79 662.48,352.66 663.29,353.52 664.1,354.33 664.9,355.1 665.68,355.85 666.44,356.61 667.17,357.38 667.89,358.15 668.61,358.91 669.34,359.64 670.09,360.33 670.87,360.97 671.69,361.56 672.56,362.07 673.49,362.5 674.5,362.84 675.5,363.1 676.42,363.28 677.32,363.39 678.21,363.46 679.15,363.49 680.16,363.5 681.29,363.48 682.58,363.45 684.05,363.42 685.76,363.4 687.73,363.38 690,363.39 692.76,363.41 696.07,363.42 699.82,363.43 703.89,363.43 708.14,363.43 712.47,363.42 716.74,363.42 720.83,363.41 724.63,363.4 728,363.4 730.83,363.39 733,363.39'/>
<polyline stroke='#201585' stroke-dasharray='7.2,6.2' points='420,363.39 424.03,363.38 429.29,363.38 435.56,363.37 442.61,363.36 450.22,363.34 458.16,363.33 466.2,363.32 474.12,363.3 481.68,363.29 488.67,363.27 494.85,363.26 500,363.24 504.26,363.23 507.97,363.23 511.2,363.24 514.01,363.26 516.47,363.27 518.64,363.27 520.6,363.27 522.4,363.26 524.11,363.23 525.81,363.18 527.55,363.11 529.4,363.01 531.25,362.86 532.94,362.68 534.5,362.46 535.96,362.21 537.33,361.93 538.63,361.64 539.89,361.34 541.13,361.03 542.37,360.73 543.63,360.45 544.93,360.19 546.3,359.97 547.72,359.78 549.17,359.64 550.64,359.54 552.11,359.45 553.58,359.37 555.05,359.29 556.5,359.2 557.92,359.09 559.31,358.94 560.66,358.75 561.96,358.5 563.2,358.19 564.37,357.8 565.47,357.35 566.51,356.84 567.5,356.28 568.46,355.69 569.4,355.07 570.33,354.45 571.27,353.82 572.22,353.2 573.2,352.6 574.22,352.03 575.3,351.5 576.43,350.97 577.6,350.41 578.81,349.84 580.04,349.25 581.29,348.68 582.54,348.12 583.8,347.61 585.05,347.15 586.28,346.75 587.49,346.44 588.66,346.21 589.8,346.1 590.91,346.13 592,346.3 593.07,346.59 594.13,346.98 595.18,347.43 596.21,347.92 597.22,348.42 598.21,348.91 599.19,349.36 600.14,349.74 601.08,350.03 602,350.2 602.87,350.29 603.66,350.34 604.41,350.37 605.12,350.36 605.81,350.3 606.5,350.21 607.21,350.06 607.95,349.87 608.74,349.62 609.6,349.31 610.55,348.94 611.6,348.5 612.77,347.92 614.06,347.16 615.44,346.25 616.9,345.24 618.41,344.18 619.94,343.11 621.49,342.07 623.02,341.11 624.52,340.27 625.96,339.59 627.33,339.12 628.6,338.9 629.79,338.93 630.93,339.17 632.03,339.59 633.09,340.16 634.12,340.84 635.11,341.62 636.08,342.46 637.03,343.33 637.97,344.21 638.88,345.07 639.79,345.88 640.7,346.6 641.58,347.29 642.42,348 643.22,348.73 643.99,349.47 644.75,350.21 645.5,350.96 646.25,351.69 647.01,352.42 647.78,353.13 648.58,353.82 649.42,354.48 650.3,355.1 651.23,355.7 652.2,356.29 653.21,356.86 654.24,357.42 655.29,357.96 656.34,358.48 657.4,358.98 658.45,359.45 659.49,359.89 660.49,360.31 661.47,360.69 662.4,361.03 663.27,361.34 664.06,361.6 664.8,361.84 665.51,362.04 666.2,362.21 666.89,362.37 667.6,362.5 668.35,362.62 669.15,362.72 670.04,362.82 671.01,362.92 672.1,363.01 673.22,363.09 674.32,363.16 675.41,363.21 676.53,363.25 677.71,363.28 678.97,363.31 680.35,363.33 681.87,363.34 683.57,363.35 685.47,363.37 687.6,363.38 690,363.39 692.84,363.4 696.21,363.41 699.99,363.42 704.07,363.42 708.31,363.42 712.62,363.41 716.86,363.41 720.92,363.4 724.69,363.4 728.03,363.39 730.84,363.39 733,363.39'/>
<polyline stroke='#201585' stroke-dasharray='3.2,2.2' points='420,363.39 425.07,363.38 431.73,363.38 439.7,363.37 448.66,363.36 458.31,363.35 468.36,363.34 478.49,363.32 488.42,363.31 497.84,363.29 506.44,363.28 513.93,363.26 520,363.24 524.74,363.23 528.53,363.25 531.52,363.27 533.86,363.3 535.68,363.33 537.13,363.35 538.36,363.36 539.52,363.34 540.75,363.3 542.19,363.22 543.99,363.1 546.3,362.93 549.03,362.69 551.97,362.39 555.07,362.05 558.29,361.65 561.57,361.21 564.88,360.73 568.17,360.22 571.38,359.69 574.48,359.14 577.41,358.59 580.13,358.04 582.6,357.49 584.83,356.93 586.9,356.33 588.81,355.7 590.59,355.05 592.26,354.38 593.82,353.72 595.3,353.06 596.71,352.42 598.07,351.8 599.39,351.22 600.7,350.68 602,350.2 603.26,349.75 604.43,349.3 605.52,348.87 606.54,348.46 607.52,348.07 608.46,347.72 609.37,347.4 610.27,347.13 611.17,346.91 612.08,346.74 613.02,346.64 614,346.6 615.01,346.66 616.04,346.84 617.07,347.11 618.11,347.44 619.16,347.83 620.19,348.25 621.22,348.68 622.24,349.09 623.24,349.47 624.22,349.79 625.18,350.05 626.1,350.2 626.98,350.3 627.8,350.4 628.58,350.49 629.33,350.56 630.07,350.59 630.8,350.58 631.54,350.52 632.3,350.39 633.09,350.18 633.93,349.89 634.83,349.5 635.8,349 636.86,348.31 637.99,347.39 639.2,346.29 640.46,345.06 641.74,343.75 643.05,342.42 644.36,341.12 645.64,339.9 646.9,338.82 648.11,337.92 649.24,337.26 650.3,336.9 651.28,336.81 652.19,336.94 653.06,337.25 653.89,337.72 654.68,338.32 655.45,339.04 656.2,339.84 656.94,340.69 657.69,341.58 658.44,342.48 659.21,343.36 660,344.2 660.82,345.06 661.64,346 662.48,347.01 663.32,348.07 664.16,349.17 665,350.28 665.83,351.39 666.64,352.48 667.44,353.53 668.22,354.53 668.98,355.46 669.7,356.3 670.37,357.07 670.99,357.8 671.56,358.5 672.1,359.17 672.62,359.79 673.14,360.37 673.68,360.91 674.23,361.39 674.83,361.83 675.48,362.22 676.2,362.56 677,362.84 677.79,363.07 678.49,363.22 679.15,363.33 679.8,363.4 680.49,363.43 681.27,363.44 682.17,363.44 683.23,363.42 684.51,363.4 686.03,363.39 687.85,363.38 690,363.39 692.67,363.41 695.93,363.42 699.65,363.43 703.7,363.43 707.97,363.43 712.31,363.42 716.61,363.42 720.74,363.41 724.57,363.4 727.97,363.4 730.83,363.39 733,363.39'/>
</g>
<rect x='420.2' y='218.6' width='312.1' height='145.5' fill='none' stroke='#1a1a1a' stroke-width='1.5'/>
<path d='M482.62 364.1v-3.5M482.62 218.6v3.5' stroke='#1a1a1a' stroke-width='1.3'/>
<path d='M545.04 364.1v-3.5M545.04 218.6v3.5' stroke='#1a1a1a' stroke-width='1.3'/>
<path d='M607.46 364.1v-3.5M607.46 218.6v3.5' stroke='#1a1a1a' stroke-width='1.3'/>
<path d='M669.88 364.1v-3.5M669.88 218.6v3.5' stroke='#1a1a1a' stroke-width='1.3'/>
<path d='M420.2 315.6h3.5M732.3 315.6h-3.5' stroke='#1a1a1a' stroke-width='1.3'/>
<path d='M420.2 267.1h3.5M732.3 267.1h-3.5' stroke='#1a1a1a' stroke-width='1.3'/>
<text x='427.25' y='380' text-anchor='middle'>-50</text>
<text x='482' y='380' text-anchor='middle'>0</text>
<text x='551.25' y='380' text-anchor='middle'>50</text>
<text x='610.4' y='380' text-anchor='middle'>100</text>
<text x='673.5' y='380' text-anchor='middle'>150</text>
<text x='727.75' y='380' text-anchor='middle'>200</text>
<text x='413.6' y='364.7' text-anchor='end'>0</text>
<text x='410.1' y='321.7' text-anchor='end'>0.02</text>
<text x='410.1' y='273.3' text-anchor='end'>0.04</text>
<text x='410.1' y='225.7' text-anchor='end'>0.06</text>
<text x='586.2' y='396.7' text-anchor='middle'>Phase (deg.)</text>
<text x='372' y='205.9' class='L'>D</text>
<clipPath id='cE'><rect x='57.3' y='415.5' width='311.9' height='149.8'/></clipPath>
<g clip-path='url(#cE)' fill='none' stroke-width='1.6' stroke-linejoin='round'>
<polyline stroke='#201585' points='57.3,562.9 58,562.9 58.7,562.9 59.4,562.9 60.1,562.9 60.8,562.9 61.51,562.9 62.21,562.9 62.91,562.9 63.61,562.9 64.31,562.9 65.01,562.9 65.71,562.9 66.41,562.9 67.11,562.9 67.81,562.9 68.51,562.9 69.22,562.9 69.92,562.9 70.62,562.9 71.32,562.9 72.02,562.9 72.72,562.9 73.42,562.9 74.12,562.9 74.82,562.9 75.52,562.9 76.22,562.9 76.93,562.9 77.63,562.9 78.33,562.9 79.03,562.9 79.73,562.9 80.43,562.9 81.13,562.9 81.83,562.9 82.53,562.9 83.23,562.9 83.93,562.9 84.64,562.9 85.34,562.9 86.04,562.9 86.74,562.9 87.44,562.9 88.14,562.9 88.84,562.9 89.54,562.9 90.24,562.9 90.94,562.9 91.64,562.9 92.34,562.9 93.05,562.9 93.75,562.9 94.45,562.9 95.15,562.9 95.85,562.9 96.55,562.9 97.25,562.9 97.95,562.9 98.65,562.9 99.35,562.9 100.05,562.9 100.76,562.9 101.46,562.9 102.16,562.9 102.86,562.9 103.56,562.9 104.26,562.9 104.96,562.9 105.66,562.9 106.36,562.9 107.06,562.9 107.76,562.9 108.47,562.9 109.17,562.9 109.87,562.9 110.57,562.9 111.27,562.9 111.97,562.9 112.67,562.9 113.37,562.9 114.07,562.9 114.77,562.9 115.47,562.9 116.18,562.9 116.88,562.9 117.58,562.9 118.28,562.9 118.98,562.9 119.68,562.89 120.38,562.89 121.08,562.88 121.78,562.88 122.48,562.86 123.18,562.85 123.89,562.82 124.59,562.79 125.29,562.75 125.99,562.7 126.69,562.62 127.39,562.53 128.09,562.42 128.79,562.28 129.49,562.11 130.19,561.91 130.89,561.68 131.6,561.42 132.3,561.13 133,560.81 133.7,560.46 134.4,560.1 135.1,559.72 135.8,559.33 136.5,558.94 137.2,558.57 137.9,558.22 138.6,557.9 139.31,557.62 140.01,557.4 140.71,557.24 141.41,557.14 142.11,557.12 142.81,557.2 143.51,557.4 144.21,557.71 144.91,558.11 145.61,558.57 146.31,559.06 147.02,559.57 147.72,560.07 148.42,560.55 149.12,560.98 149.82,561.35 150.52,561.67 151.22,561.93 151.92,562.12 152.62,562.26 153.32,562.34 154.02,562.38 154.72,562.38 155.43,562.34 156.13,562.29 156.83,562.2 157.53,562.11 158.23,561.99 158.93,561.86 159.63,561.72 160.33,561.56 161.03,561.4 161.73,561.23 162.43,561.06 163.14,560.88 163.84,560.7 164.54,560.52 165.24,560.35 165.94,560.18 166.64,560.02 167.34,559.88 168.04,559.74 168.74,559.63 169.44,559.53 170.14,559.45 170.85,559.39 171.55,559.35 172.25,559.33 172.95,559.34 173.65,559.38 174.35,559.44 175.05,559.52 175.75,559.59 176.45,559.64 177.15,559.65 177.85,559.6 178.56,559.47 179.26,559.22 179.96,558.84 180.66,558.29 181.36,557.54 182.06,556.57 182.76,555.35 183.46,553.84 184.16,552.01 184.86,549.84 185.56,547.3 186.27,544.39 186.97,541.11 187.67,537.45 188.37,533.45 189.07,529.12 189.77,524.53 190.47,519.71 191.17,514.74 191.87,509.69 192.57,504.65 193.27,499.7 193.98,494.93 194.68,490.43 195.38,486.27 196.08,482.52 196.78,479.24 197.48,476.47 198.18,474.24 198.88,472.56 199.58,471.4 200.28,470.75 200.98,470.51 201.69,470.57 202.39,471.08 203.09,472.19 203.79,473.96 204.49,476.42 205.19,479.56 205.89,483.35 206.59,487.71 207.29,492.58 207.99,497.83 208.69,503.35 209.4,509.02 210.1,514.71 210.8,520.31 211.5,525.71 212.2,530.78 212.9,535.41 213.6,539.63 214.3,543.41 215,546.71 215.7,549.53 216.4,551.86 217.1,553.73 217.81,555.15 218.51,556.18 219.21,556.87 219.91,557.29 220.61,557.51 221.31,557.56 222.01,557.44 222.71,557.18 223.41,556.85 224.11,556.51 224.81,556.21 225.52,555.98 226.22,555.79 226.92,555.64 227.62,555.52 228.32,555.45 229.02,555.4 229.72,555.4 230.42,555.47 231.12,555.59 231.82,555.74 232.52,555.9 233.23,556.06 233.93,556.21 234.63,556.36 235.33,556.53 236.03,556.72 236.73,556.93 237.43,557.17 238.13,557.43 238.83,557.71 239.53,558 240.23,558.31 240.94,558.62 241.64,558.94 242.34,559.25 243.04,559.56 243.74,559.85 244.44,560.14 245.14,560.4 245.84,560.64 246.54,560.87 247.24,561.08 247.94,561.28 248.65,561.47 249.35,561.65 250.05,561.81 250.75,561.97 251.45,562.12 252.15,562.26 252.85,562.38 253.55,562.48 254.25,562.56 254.95,562.63 255.65,562.69 256.36,562.74 257.06,562.8 257.76,562.87 258.46,562.9 259.16,562.9 259.86,562.9 260.56,562.9 261.26,562.9 261.96,562.9 262.66,562.9 263.36,562.9 264.07,562.9 264.77,562.9 265.47,562.9 266.17,562.9 266.87,562.9 267.57,562.9 268.27,562.9 268.97,562.9 269.67,562.9 270.37,562.9 271.07,562.9 271.78,562.9 272.48,562.9 273.18,562.9 273.88,562.9 274.58,562.9 275.28,562.9 275.98,562.9 276.68,562.9 277.38,562.9 278.08,562.9 278.78,562.9 279.48,562.9 280.19,562.9 280.89,562.9 281.59,562.9 282.29,562.9 282.99,562.9 283.69,562.9 284.39,562.9 285.09,562.9 285.79,562.9 286.49,562.9 287.19,562.9 287.9,562.9 288.6,562.9 289.3,562.9 290,562.9 290.7,562.9 291.4,562.9 292.1,562.9 292.8,562.9 293.5,562.9 294.2,562.9 294.9,562.9 295.61,562.9 296.31,562.9 297.01,562.9 297.71,562.9 298.41,562.9 299.11,562.9 299.81,562.9 300.51,562.9 301.21,562.9 301.91,562.9 302.61,562.9 303.32,562.9 304.02,562.9 304.72,562.9 305.42,562.9 306.12,562.9 306.82,562.9 307.52,562.9 308.22,562.9 308.92,562.9 309.62,562.9 310.32,562.9 311.03,562.9 311.73,562.9 312.43,562.9 313.13,562.9 313.83,562.9 314.53,562.9 315.23,562.9 315.93,562.9 316.63,562.9 317.33,562.9 318.03,562.9 318.74,562.9 319.44,562.9 320.14,562.9 320.84,562.9 321.54,562.9 322.24,562.9 322.94,562.9 323.64,562.9 324.34,562.9 325.04,562.9 325.74,562.9 326.45,562.9 327.15,562.9 327.85,562.9 328.55,562.9 329.25,562.9 329.95,562.9 330.65,562.9 331.35,562.9 332.05,562.9 332.75,562.9 333.45,562.9 334.16,562.9 334.86,562.9 335.56,562.9 336.26,562.9 336.96,562.9 337.66,562.9 338.36,562.9 339.06,562.9 339.76,562.9 340.46,562.9 341.16,562.9 341.86,562.9 342.57,562.9 343.27,562.9 343.97,562.9 344.67,562.9 345.37,562.9 346.07,562.9 346.77,562.9 347.47,562.9 348.17,562.9 348.87,562.9 349.57,562.9 350.28,562.9 350.98,562.9 351.68,562.9 352.38,562.9 353.08,562.9 353.78,562.9 354.48,562.9 355.18,562.9 355.88,562.9 356.58,562.9 357.28,562.9 357.99,562.9 358.69,562.9 359.39,562.9 360.09,562.9 360.79,562.9 361.49,562.9 362.19,562.9 362.89,562.9 363.59,562.9 364.29,562.9 364.99,562.9 365.7,562.9 366.4,562.9 367.1,562.9 367.8,562.9 368.5,562.9 369.2,562.9'/>
<polyline stroke='#201585' stroke-dasharray='7.2,6.2' points='57.3,562.9 58,562.9 58.7,562.9 59.4,562.9 60.1,562.9 60.8,562.9 61.51,562.9 62.21,562.9 62.91,562.9 63.61,562.9 64.31,562.9 65.01,562.9 65.71,562.9 66.41,562.9 67.11,562.9 67.81,562.9 68.51,562.9 69.22,562.9 69.92,562.9 70.62,562.9 71.32,562.9 72.02,562.9 72.72,562.9 73.42,562.9 74.12,562.9 74.82,562.9 75.52,562.9 76.22,562.9 76.93,562.9 77.63,562.9 78.33,562.9 79.03,562.9 79.73,562.9 80.43,562.9 81.13,562.9 81.83,562.9 82.53,562.9 83.23,562.9 83.93,562.9 84.64,562.9 85.34,562.9 86.04,562.9 86.74,562.9 87.44,562.9 88.14,562.9 88.84,562.9 89.54,562.9 90.24,562.9 90.94,562.9 91.64,562.9 92.34,562.9 93.05,562.9 93.75,562.9 94.45,562.9 95.15,562.9 95.85,562.9 96.55,562.9 97.25,562.9 97.95,562.9 98.65,562.9 99.35,562.9 100.05,562.9 100.76,562.9 101.46,562.9 102.16,562.9 102.86,562.9 103.56,562.9 104.26,562.9 104.96,562.9 105.66,562.9 106.36,562.9 107.06,562.9 107.76,562.9 108.47,562.9 109.17,562.9 109.87,562.9 110.57,562.9 111.27,562.9 111.97,562.9 112.67,562.9 113.37,562.9 114.07,562.9 114.77,562.9 115.47,562.9 116.18,562.9 116.88,562.9 117.58,562.9 118.28,562.89 118.98,562.89 119.68,562.89 120.38,562.88 121.08,562.87 121.78,562.86 122.48,562.84 123.18,562.82 123.89,562.78 124.59,562.74 125.29,562.68 125.99,562.61 126.69,562.51 127.39,562.4 128.09,562.25 128.79,562.08 129.49,561.87 130.19,561.63 130.89,561.35 131.6,561.03 132.3,560.67 133,560.27 133.7,559.84 134.4,559.38 135.1,558.89 135.8,558.38 136.5,557.85 137.2,557.32 137.9,556.79 138.6,556.29 139.31,555.81 140.01,555.38 140.71,555.01 141.41,554.71 142.11,554.48 142.81,554.34 143.51,554.3 144.21,554.4 144.91,554.68 145.61,555.13 146.31,555.71 147.02,556.39 147.72,557.13 148.42,557.89 149.12,558.63 149.82,559.33 150.52,559.97 151.22,560.53 151.92,561 152.62,561.39 153.32,561.69 154.02,561.9 154.72,562.04 155.43,562.12 156.13,562.13 156.83,562.11 157.53,562.04 158.23,561.95 158.93,561.84 159.63,561.7 160.33,561.55 161.03,561.39 161.73,561.22 162.43,561.05 163.14,560.87 163.84,560.69 164.54,560.5 165.24,560.32 165.94,560.15 166.64,559.98 167.34,559.82 168.04,559.68 168.74,559.54 169.44,559.42 170.14,559.31 170.85,559.22 171.55,559.14 172.25,559.07 172.95,559.02 173.65,559 174.35,558.99 175.05,558.99 175.75,558.99 176.45,558.97 177.15,558.92 177.85,558.83 178.56,558.69 179.26,558.47 179.96,558.18 180.66,557.8 181.36,557.31 182.06,556.71 182.76,555.98 183.46,555.12 184.16,554.12 184.86,552.96 185.56,551.65 186.27,550.17 186.97,548.52 187.67,546.7 188.37,544.71 189.07,542.54 189.77,540.21 190.47,537.71 191.17,535.05 191.87,532.26 192.57,529.33 193.27,526.3 193.98,523.18 194.68,519.99 195.38,516.77 196.08,513.54 196.78,510.34 197.48,507.2 198.18,504.16 198.88,501.25 199.58,498.51 200.28,495.97 200.98,493.67 201.69,491.63 202.39,489.9 203.09,488.48 203.79,487.41 204.49,486.69 205.19,486.34 205.89,486.49 206.59,487.78 207.29,490.23 207.99,493.72 208.69,498.09 209.4,502.89 210.1,508 210.8,513.4 211.5,518.86 212.2,524.18 212.9,529.16 213.6,533.67 214.3,537.6 215,540.84 215.7,543.18 216.4,544.75 217.1,545.75 217.81,546.41 218.51,546.87 219.21,547.07 219.91,547.04 220.61,546.85 221.31,546.53 222.01,546.06 222.71,545.48 223.41,544.84 224.11,544.16 224.81,543.48 225.52,542.82 226.22,542.21 226.92,541.67 227.62,541.18 228.32,540.74 229.02,540.34 229.72,540.01 230.42,539.74 231.12,539.54 231.82,539.43 232.52,539.4 233.23,539.59 233.93,540.02 234.63,540.66 235.33,541.45 236.03,542.4 236.73,543.51 237.43,544.74 238.13,546.03 238.83,547.32 239.53,548.55 240.23,549.66 240.94,550.77 241.64,551.87 242.34,552.95 243.04,553.97 243.74,554.91 244.44,555.74 245.14,556.44 245.84,557.04 246.54,557.58 247.24,558.06 247.94,558.49 248.65,558.89 249.35,559.25 250.05,559.59 250.75,559.91 251.45,560.22 252.15,560.52 252.85,560.81 253.55,561.07 254.25,561.3 254.95,561.51 255.65,561.7 256.36,561.88 257.06,562.06 257.76,562.24 258.46,562.43 259.16,562.63 259.86,562.85 260.56,562.9 261.26,562.9 261.96,562.9 262.66,562.9 263.36,562.9 264.07,562.9 264.77,562.9 265.47,562.9 266.17,562.9 266.87,562.9 267.57,562.9 268.27,562.9 268.97,562.9 269.67,562.9 270.37,562.9 271.07,562.9 271.78,562.9 272.48,562.9 273.18,562.9 273.88,562.9 274.58,562.9 275.28,562.9 275.98,562.9 276.68,562.9 277.38,562.9 278.08,562.9 278.78,562.9 279.48,562.9 280.19,562.9 280.89,562.9 281.59,562.9 282.29,562.9 282.99,562.9 283.69,562.9 284.39,562.9 285.09,562.9 285.79,562.9 286.49,562.9 287.19,562.9 287.9,562.9 288.6,562.9 289.3,562.9 290,562.9 290.7,562.9 291.4,562.9 292.1,562.9 292.8,562.9 293.5,562.9 294.2,562.9 294.9,562.9 295.61,562.9 296.31,562.9 297.01,562.9 297.71,562.9 298.41,562.9 299.11,562.9 299.81,562.9 300.51,562.9 301.21,562.9 301.91,562.9 302.61,562.9 303.32,562.9 304.02,562.9 304.72,562.9 305.42,562.9 306.12,562.9 306.82,562.9 307.52,562.9 308.22,562.9 308.92,562.9 309.62,562.9 310.32,562.9 311.03,562.9 311.73,562.9 312.43,562.9 313.13,562.9 313.83,562.9 314.53,562.9 315.23,562.9 315.93,562.9 316.63,562.9 317.33,562.9 318.03,562.9 318.74,562.9 319.44,562.9 320.14,562.9 320.84,562.9 321.54,562.9 322.24,562.9 322.94,562.9 323.64,562.9 324.34,562.9 325.04,562.9 325.74,562.9 326.45,562.9 327.15,562.9 327.85,562.9 328.55,562.9 329.25,562.9 329.95,562.9 330.65,562.9 331.35,562.9 332.05,562.9 332.75,562.9 333.45,562.9 334.16,562.9 334.86,562.9 335.56,562.9 336.26,562.9 336.96,562.9 337.66,562.9 338.36,562.9 339.06,562.9 339.76,562.9 340.46,562.9 341.16,562.9 341.86,562.9 342.57,562.9 343.27,562.9 343.97,562.9 344.67,562.9 345.37,562.9 346.07,562.9 346.77,562.9 347.47,562.9 348.17,562.9 348.87,562.9 349.57,562.9 350.28,562.9 350.98,562.9 351.68,562.9 352.38,562.9 353.08,562.9 353.78,562.9 354.48,562.9 355.18,562.9 355.88,562.9 356.58,562.9 357.28,562.9 357.99,562.9 358.69,562.9 359.39,562.9 360.09,562.9 360.79,562.9 361.49,562.9 362.19,562.9 362.89,562.9 363.59,562.9 364.29,562.9 364.99,562.9 365.7,562.9 366.4,562.9 367.1,562.9 367.8,562.9 368.5,562.9 369.2,562.9'/>
<polyline stroke='#201585' stroke-dasharray='3.2,2.2' points='57.3,562.9 58,562.9 58.7,562.9 59.4,562.9 60.1,562.9 60.8,562.9 61.51,562.9 62.21,562.9 62.91,562.9 63.61,562.9 64.31,562.9 65.01,562.9 65.71,562.9 66.41,562.9 67.11,562.9 67.81,562.9 68.51,562.9 69.22,562.9 69.92,562.9 70.62,562.9 71.32,562.9 72.02,562.9 72.72,562.9 73.42,562.9 74.12,562.9 74.82,562.9 75.52,562.9 76.22,562.9 76.93,562.9 77.63,562.9 78.33,562.9 79.03,562.9 79.73,562.9 80.43,562.9 81.13,562.9 81.83,562.9 82.53,562.9 83.23,562.9 83.93,562.9 84.64,562.9 85.34,562.9 86.04,562.9 86.74,562.9 87.44,562.9 88.14,562.9 88.84,562.9 89.54,562.9 90.24,562.9 90.94,562.9 91.64,562.9 92.34,562.9 93.05,562.9 93.75,562.9 94.45,562.9 95.15,562.9 95.85,562.9 96.55,562.9 97.25,562.9 97.95,562.9 98.65,562.9 99.35,562.9 100.05,562.9 100.76,562.9 101.46,562.9 102.16,562.9 102.86,562.9 103.56,562.9 104.26,562.9 104.96,562.9 105.66,562.9 106.36,562.9 107.06,562.9 107.76,562.9 108.47,562.9 109.17,562.9 109.87,562.9 110.57,562.9 111.27,562.9 111.97,562.9 112.67,562.9 113.37,562.9 114.07,562.9 114.77,562.9 115.47,562.9 116.18,562.9 116.88,562.9 117.58,562.9 118.28,562.9 118.98,562.89 119.68,562.89 120.38,562.89 121.08,562.88 121.78,562.87 122.48,562.86 123.18,562.84 123.89,562.81 124.59,562.77 125.29,562.72 125.99,562.66 126.69,562.57 127.39,562.47 128.09,562.33 128.79,562.17 129.49,561.97 130.19,561.74 130.89,561.47 131.6,561.16 132.3,560.82 133,560.45 133.7,560.04 134.4,559.62 135.1,559.17 135.8,558.72 136.5,558.27 137.2,557.83 137.9,557.41 138.6,557.03 139.31,556.71 140.01,556.44 140.71,556.25 141.41,556.14 142.11,556.11 142.81,556.21 143.51,556.45 144.21,556.81 144.91,557.28 145.61,557.83 146.31,558.41 147.02,559.01 147.72,559.6 148.42,560.15 149.12,560.65 149.82,561.1 150.52,561.47 151.22,561.77 151.92,562.01 152.62,562.18 153.32,562.28 154.02,562.34 154.72,562.35 155.43,562.33 156.13,562.28 156.83,562.2 157.53,562.1 158.23,561.99 158.93,561.86 159.63,561.72 160.33,561.56 161.03,561.4 161.73,561.23 162.43,561.06 163.14,560.88 163.84,560.7 164.54,560.52 165.24,560.35 165.94,560.18 166.64,560.02 167.34,559.88 168.04,559.75 168.74,559.63 169.44,559.53 170.14,559.45 170.85,559.4 171.55,559.36 172.25,559.34 172.95,559.35 173.65,559.4 174.35,559.46 175.05,559.55 175.75,559.63 176.45,559.69 177.15,559.73 177.85,559.71 178.56,559.6 179.26,559.4 179.96,559.06 180.66,558.57 181.36,557.9 182.06,557.01 182.76,555.88 183.46,554.48 184.16,552.77 184.86,550.74 185.56,548.36 186.27,545.61 186.97,542.49 187.67,539.01 188.37,535.17 189.07,531.02 189.77,526.58 190.47,521.91 191.17,517.07 191.87,512.14 192.57,507.19 193.27,502.3 193.98,497.56 194.68,493.07 195.38,488.88 196.08,485.09 196.78,481.73 197.48,478.87 198.18,476.54 198.88,474.73 199.58,473.46 200.28,472.68 200.98,472.34 201.69,472.32 202.39,472.67 203.09,473.58 203.79,475.13 204.49,477.34 205.19,480.24 205.89,483.77 206.59,487.9 207.29,492.54 207.99,497.59 208.69,502.94 209.4,508.47 210.1,513.98 210.8,518.97 211.5,523.78 212.2,528.34 212.9,532.57 213.6,536.43 214.3,539.91 215,542.95 215.7,545.57 216.4,547.76 217.1,549.56 217.81,550.99 218.51,552.11 219.21,552.97 219.91,553.65 220.61,554.15 221.31,554.47 222.01,554.6 222.71,554.53 223.41,554.21 224.11,553.69 224.81,553.09 225.52,552.52 226.22,552.08 226.92,551.66 227.62,551.26 228.32,550.91 229.02,550.68 229.72,550.58 230.42,550.71 231.12,551.17 231.82,551.82 232.52,552.49 233.23,553.02 233.93,553.41 234.63,553.77 235.33,554.11 236.03,554.43 236.73,554.75 237.43,555.05 238.13,555.36 238.83,555.67 239.53,555.97 240.23,556.27 240.94,556.56 241.64,556.85 242.34,557.14 243.04,557.43 243.74,557.72 244.44,558.02 245.14,558.33 245.84,558.66 246.54,558.98 247.24,559.31 247.94,559.62 248.65,559.93 249.35,560.21 250.05,560.47 250.75,560.72 251.45,560.94 252.15,561.16 252.85,561.37 253.55,561.57 254.25,561.77 254.95,561.96 255.65,562.16 256.36,562.37 257.06,562.59 257.76,562.82 258.46,562.9 259.16,562.9 259.86,562.9 260.56,562.9 261.26,562.9 261.96,562.9 262.66,562.9 263.36,562.9 264.07,562.9 264.77,562.9 265.47,562.9 266.17,562.9 266.87,562.9 267.57,562.9 268.27,562.9 268.97,562.9 269.67,562.9 270.37,562.9 271.07,562.9 271.78,562.9 272.48,562.9 273.18,562.9 273.88,562.9 274.58,562.9 275.28,562.9 275.98,562.9 276.68,562.9 277.38,562.9 278.08,562.9 278.78,562.9 279.48,562.9 280.19,562.9 280.89,562.9 281.59,562.9 282.29,562.9 282.99,562.9 283.69,562.9 284.39,562.9 285.09,562.9 285.79,562.9 286.49,562.9 287.19,562.9 287.9,562.9 288.6,562.9 289.3,562.9 290,562.9 290.7,562.9 291.4,562.9 292.1,562.9 292.8,562.9 293.5,562.9 294.2,562.9 294.9,562.9 295.61,562.9 296.31,562.9 297.01,562.9 297.71,562.9 298.41,562.9 299.11,562.9 299.81,562.9 300.51,562.9 301.21,562.9 301.91,562.9 302.61,562.9 303.32,562.9 304.02,562.9 304.72,562.9 305.42,562.9 306.12,562.9 306.82,562.9 307.52,562.9 308.22,562.9 308.92,562.9 309.62,562.9 310.32,562.9 311.03,562.9 311.73,562.9 312.43,562.9 313.13,562.9 313.83,562.9 314.53,562.9 315.23,562.9 315.93,562.9 316.63,562.9 317.33,562.9 318.03,562.9 318.74,562.9 319.44,562.9 320.14,562.9 320.84,562.9 321.54,562.9 322.24,562.9 322.94,562.9 323.64,562.9 324.34,562.9 325.04,562.9 325.74,562.9 326.45,562.9 327.15,562.9 327.85,562.9 328.55,562.9 329.25,562.9 329.95,562.9 330.65,562.9 331.35,562.9 332.05,562.9 332.75,562.9 333.45,562.9 334.16,562.9 334.86,562.9 335.56,562.9 336.26,562.9 336.96,562.9 337.66,562.9 338.36,562.9 339.06,562.9 339.76,562.9 340.46,562.9 341.16,562.9 341.86,562.9 342.57,562.9 343.27,562.9 343.97,562.9 344.67,562.9 345.37,562.9 346.07,562.9 346.77,562.9 347.47,562.9 348.17,562.9 348.87,562.9 349.57,562.9 350.28,562.9 350.98,562.9 351.68,562.9 352.38,562.9 353.08,562.9 353.78,562.9 354.48,562.9 355.18,562.9 355.88,562.9 356.58,562.9 357.28,562.9 357.99,562.9 358.69,562.9 359.39,562.9 360.09,562.9 360.79,562.9 361.49,562.9 362.19,562.9 362.89,562.9 363.59,562.9 364.29,562.9 364.99,562.9 365.7,562.9 366.4,562.9 367.1,562.9 367.8,562.9 368.5,562.9 369.2,562.9'/>
<polyline stroke='#c40a1c' points='57.3,562.9 58,562.9 58.7,562.9 59.4,562.9 60.1,562.9 60.8,562.9 61.51,562.9 62.21,562.9 62.91,562.9 63.61,562.9 64.31,562.9 65.01,562.9 65.71,562.9 66.41,562.9 67.11,562.9 67.81,562.9 68.51,562.9 69.22,562.9 69.92,562.9 70.62,562.9 71.32,562.9 72.02,562.9 72.72,562.9 73.42,562.9 74.12,562.9 74.82,562.9 75.52,562.9 76.22,562.9 76.93,562.9 77.63,562.9 78.33,562.9 79.03,562.9 79.73,562.9 80.43,562.9 81.13,562.9 81.83,562.9 82.53,562.9 83.23,562.9 83.93,562.9 84.64,562.9 85.34,562.9 86.04,562.9 86.74,562.9 87.44,562.9 88.14,562.9 88.84,562.9 89.54,562.9 90.24,562.9 90.94,562.9 91.64,562.9 92.34,562.9 93.05,562.9 93.75,562.9 94.45,562.9 95.15,562.9 95.85,562.9 96.55,562.9 97.25,562.9 97.95,562.9 98.65,562.9 99.35,562.9 100.05,562.9 100.76,562.9 101.46,562.9 102.16,562.9 102.86,562.9 103.56,562.9 104.26,562.9 104.96,562.9 105.66,562.9 106.36,562.9 107.06,562.9 107.76,562.9 108.47,562.9 109.17,562.9 109.87,562.9 110.57,562.9 111.27,562.9 111.97,562.9 112.67,562.9 113.37,562.9 114.07,562.9 114.77,562.9 115.47,562.9 116.18,562.9 116.88,562.9 117.58,562.9 118.28,562.9 118.98,562.9 119.68,562.9 120.38,562.9 121.08,562.9 121.78,562.9 122.48,562.9 123.18,562.9 123.89,562.9 124.59,562.9 125.29,562.9 125.99,562.9 126.69,562.9 127.39,562.9 128.09,562.9 128.79,562.9 129.49,562.9 130.19,562.9 130.89,562.9 131.6,562.9 132.3,562.9 133,562.9 133.7,562.9 134.4,562.9 135.1,562.9 135.8,562.9 136.5,562.9 137.2,562.9 137.9,562.9 138.6,562.9 139.31,562.9 140.01,562.9 140.71,562.9 141.41,562.9 142.11,562.9 142.81,562.89 143.51,562.89 144.21,562.89 144.91,562.88 145.61,562.87 146.31,562.86 147.02,562.83 147.72,562.81 148.42,562.77 149.12,562.72 149.82,562.65 150.52,562.57 151.22,562.46 151.92,562.33 152.62,562.18 153.32,562 154.02,561.8 154.72,561.57 155.43,561.32 156.13,561.06 156.83,560.79 157.53,560.51 158.23,560.24 158.93,559.98 159.63,559.75 160.33,559.55 161.03,559.38 161.73,559.26 162.43,559.19 163.14,559.17 163.84,559.21 164.54,559.3 165.24,559.44 165.94,559.62 166.64,559.84 167.34,560.08 168.04,560.35 168.74,560.62 169.44,560.89 170.14,561.16 170.85,561.42 171.55,561.66 172.25,561.88 172.95,562.07 173.65,562.24 174.35,562.39 175.05,562.5 175.75,562.6 176.45,562.68 177.15,562.74 177.85,562.78 178.56,562.82 179.26,562.84 179.96,562.86 180.66,562.87 181.36,562.88 182.06,562.89 182.76,562.89 183.46,562.9 184.16,562.9 184.86,562.9 185.56,562.9 186.27,562.9 186.97,562.9 187.67,562.9 188.37,562.9 189.07,562.9 189.77,562.9 190.47,562.9 191.17,562.9 191.87,562.9 192.57,562.9 193.27,562.9 193.98,562.9 194.68,562.9 195.38,562.9 196.08,562.9 196.78,562.9 197.48,562.89 198.18,562.89 198.88,562.88 199.58,562.87 200.28,562.86 200.98,562.83 201.69,562.79 202.39,562.73 203.09,562.65 203.79,562.53 204.49,562.36 205.19,562.12 205.89,561.8 206.59,561.37 207.29,560.82 207.99,560.1 208.69,559.19 209.4,558.04 210.1,556.59 210.8,554.77 211.5,552.52 212.2,549.75 212.9,546.41 213.6,542.44 214.3,537.78 215,532.42 215.7,526.34 216.4,519.59 217.1,512.2 217.81,504.29 218.51,495.97 219.21,487.43 219.91,478.87 220.61,470.5 221.31,462.58 222.01,455.35 222.71,449.05 223.41,443.9 224.11,440.09 224.81,437.76 225.52,437 226.22,437.83 226.92,440.23 227.62,444.1 228.32,449.31 229.02,455.65 229.72,462.91 230.42,470.86 231.12,479.23 231.82,487.8 232.52,496.32 233.23,504.6 233.93,512.47 234.63,519.79 235.33,526.47 236.03,532.44 236.73,537.67 237.43,542.17 238.13,545.95 238.83,549.06 239.53,551.54 240.23,553.45 240.94,554.85 241.64,555.82 242.34,556.4 243.04,556.65 243.74,556.64 244.44,556.42 245.14,556.04 245.84,555.55 246.54,555 247.24,554.43 247.94,553.9 248.65,553.42 249.35,553.05 250.05,552.79 250.75,552.68 251.45,552.71 252.15,552.9 252.85,553.22 253.55,553.68 254.25,554.24 254.95,554.89 255.65,555.6 256.36,556.33 257.06,557.08 257.76,557.82 258.46,558.52 259.16,559.18 259.86,559.78 260.56,560.33 261.26,560.81 261.96,561.23 262.66,561.59 263.36,561.89 264.07,562.14 264.77,562.34 265.47,562.49 266.17,562.61 266.87,562.69 267.57,562.76 268.27,562.8 268.97,562.84 269.67,562.86 270.37,562.87 271.07,562.88 271.78,562.89 272.48,562.89 273.18,562.9 273.88,562.9 274.58,562.9 275.28,562.9 275.98,562.9 276.68,562.9 277.38,562.9 278.08,562.9 278.78,562.9 279.48,562.9 280.19,562.9 280.89,562.9 281.59,562.9 282.29,562.9 282.99,562.9 283.69,562.9 284.39,562.9 285.09,562.9 285.79,562.9 286.49,562.9 287.19,562.9 287.9,562.9 288.6,562.9 289.3,562.9 290,562.9 290.7,562.9 291.4,562.9 292.1,562.9 292.8,562.9 293.5,562.9 294.2,562.9 294.9,562.9 295.61,562.9 296.31,562.9 297.01,562.9 297.71,562.9 298.41,562.9 299.11,562.9 299.81,562.9 300.51,562.9 301.21,562.9 301.91,562.9 302.61,562.9 303.32,562.9 304.02,562.9 304.72,562.9 305.42,562.9 306.12,562.9 306.82,562.9 307.52,562.9 308.22,562.9 308.92,562.9 309.62,562.9 310.32,562.9 311.03,562.9 311.73,562.9 312.43,562.9 313.13,562.9 313.83,562.9 314.53,562.9 315.23,562.9 315.93,562.9 316.63,562.9 317.33,562.9 318.03,562.9 318.74,562.9 319.44,562.9 320.14,562.9 320.84,562.9 321.54,562.9 322.24,562.9 322.94,562.9 323.64,562.9 324.34,562.9 325.04,562.9 325.74,562.9 326.45,562.9 327.15,562.9 327.85,562.9 328.55,562.9 329.25,562.9 329.95,562.9 330.65,562.9 331.35,562.9 332.05,562.9 332.75,562.9 333.45,562.9 334.16,562.9 334.86,562.9 335.56,562.9 336.26,562.9 336.96,562.9 337.66,562.9 338.36,562.9 339.06,562.9 339.76,562.9 340.46,562.9 341.16,562.9 341.86,562.9 342.57,562.9 343.27,562.9 343.97,562.9 344.67,562.9 345.37,562.9 346.07,562.9 346.77,562.9 347.47,562.9 348.17,562.9 348.87,562.9 349.57,562.9 350.28,562.9 350.98,562.9 351.68,562.9 352.38,562.9 353.08,562.9 353.78,562.9 354.48,562.9 355.18,562.9 355.88,562.9 356.58,562.9 357.28,562.9 357.99,562.9 358.69,562.9 359.39,562.9 360.09,562.9 360.79,562.9 361.49,562.9 362.19,562.9 362.89,562.9 363.59,562.9 364.29,562.9 364.99,562.9 365.7,562.9 366.4,562.9 367.1,562.9 367.8,562.9 368.5,562.9 369.2,562.9'/>
<polyline stroke='#c40a1c' stroke-dasharray='7.2,6.2' points='57.3,562.9 58,562.9 58.7,562.9 59.4,562.9 60.1,562.9 60.8,562.9 61.51,562.9 62.21,562.9 62.91,562.9 63.61,562.9 64.31,562.9 65.01,562.9 65.71,562.9 66.41,562.9 67.11,562.9 67.81,562.9 68.51,562.9 69.22,562.9 69.92,562.9 70.62,562.9 71.32,562.9 72.02,562.9 72.72,562.9 73.42,562.9 74.12,562.9 74.82,562.9 75.52,562.9 76.22,562.9 76.93,562.9 77.63,562.9 78.33,562.9 79.03,562.9 79.73,562.9 80.43,562.9 81.13,562.9 81.83,562.9 82.53,562.9 83.23,562.9 83.93,562.9 84.64,562.9 85.34,562.9 86.04,562.9 86.74,562.9 87.44,562.9 88.14,562.9 88.84,562.9 89.54,562.9 90.24,562.9 90.94,562.9 91.64,562.9 92.34,562.9 93.05,562.9 93.75,562.9 94.45,562.9 95.15,562.9 95.85,562.9 96.55,562.9 97.25,562.9 97.95,562.9 98.65,562.9 99.35,562.9 100.05,562.9 100.76,562.9 101.46,562.9 102.16,562.9 102.86,562.9 103.56,562.9 104.26,562.9 104.96,562.9 105.66,562.9 106.36,562.9 107.06,562.9 107.76,562.9 108.47,562.9 109.17,562.9 109.87,562.9 110.57,562.9 111.27,562.9 111.97,562.9 112.67,562.9 113.37,562.9 114.07,562.9 114.77,562.9 115.47,562.9 116.18,562.9 116.88,562.9 117.58,562.9 118.28,562.9 118.98,562.9 119.68,562.9 120.38,562.9 121.08,562.9 121.78,562.9 122.48,562.9 123.18,562.9 123.89,562.9 124.59,562.9 125.29,562.9 125.99,562.9 126.69,562.9 127.39,562.9 128.09,562.9 128.79,562.9 129.49,562.9 130.19,562.9 130.89,562.9 131.6,562.9 132.3,562.9 133,562.9 133.7,562.9 134.4,562.9 135.1,562.9 135.8,562.9 136.5,562.9 137.2,562.9 137.9,562.9 138.6,562.9 139.31,562.9 140.01,562.9 140.71,562.9 141.41,562.9 142.11,562.9 142.81,562.9 143.51,562.89 144.21,562.89 144.91,562.88 145.61,562.87 146.31,562.86 147.02,562.84 147.72,562.82 148.42,562.78 149.12,562.74 149.82,562.68 150.52,562.61 151.22,562.51 151.92,562.4 152.62,562.27 153.32,562.11 154.02,561.93 154.72,561.73 155.43,561.51 156.13,561.27 156.83,561.03 157.53,560.79 158.23,560.54 158.93,560.32 159.63,560.11 160.33,559.92 161.03,559.78 161.73,559.67 162.43,559.61 163.14,559.59 163.84,559.63 164.54,559.71 165.24,559.83 165.94,559.99 166.64,560.18 167.34,560.4 168.04,560.64 168.74,560.88 169.44,561.12 170.14,561.36 170.85,561.59 171.55,561.81 172.25,562 172.95,562.17 173.65,562.32 174.35,562.45 175.05,562.55 175.75,562.64 176.45,562.71 177.15,562.76 177.85,562.8 178.56,562.83 179.26,562.85 179.96,562.87 180.66,562.88 181.36,562.89 182.06,562.89 182.76,562.89 183.46,562.9 184.16,562.9 184.86,562.9 185.56,562.9 186.27,562.9 186.97,562.9 187.67,562.9 188.37,562.9 189.07,562.9 189.77,562.9 190.47,562.9 191.17,562.9 191.87,562.9 192.57,562.9 193.27,562.9 193.98,562.9 194.68,562.9 195.38,562.9 196.08,562.89 196.78,562.89 197.48,562.88 198.18,562.87 198.88,562.85 199.58,562.82 200.28,562.77 200.98,562.7 201.69,562.6 202.39,562.46 203.09,562.27 203.79,562 204.49,561.63 205.19,561.15 205.89,560.52 206.59,559.72 207.29,558.7 207.99,557.41 208.69,555.79 209.4,553.75 210.1,551.23 210.8,548.15 211.5,544.45 212.2,540.06 212.9,534.95 213.6,529.09 214.3,522.48 215,515.17 215.7,507.22 216.4,498.74 217.1,489.9 217.81,480.87 218.51,471.88 219.21,463.17 219.91,455.01 220.61,447.64 221.31,441.33 222.01,436.29 222.71,432.7 223.41,430.71 224.11,430.37 224.81,431.64 225.52,434.44 226.22,438.67 226.92,444.19 227.62,450.8 228.32,458.3 229.02,466.45 229.72,475.02 230.42,483.76 231.12,492.48 231.82,500.96 232.52,509.06 233.23,516.64 233.93,523.6 234.63,529.89 235.33,535.48 236.03,540.36 236.73,544.56 237.43,548.11 238.13,551.06 238.83,553.48 239.53,555.41 240.23,556.93 240.94,558.09 241.64,558.94 242.34,559.52 243.04,559.86 243.74,559.99 244.44,559.93 245.14,559.73 245.84,559.41 246.54,558.99 247.24,558.51 247.94,558.01 248.65,557.49 249.35,557.01 250.05,556.58 250.75,556.22 251.45,555.97 252.15,555.83 252.85,555.81 253.55,555.92 254.25,556.15 254.95,556.49 255.65,556.92 256.36,557.42 257.06,557.96 257.76,558.53 258.46,559.1 259.16,559.65 259.86,560.17 260.56,560.65 261.26,561.08 261.96,561.46 262.66,561.78 263.36,562.05 264.07,562.27 264.77,562.44 265.47,562.58 266.17,562.67 266.87,562.75 267.57,562.8 268.27,562.83 268.97,562.86 269.67,562.87 270.37,562.88 271.07,562.89 271.78,562.89 272.48,562.9 273.18,562.9 273.88,562.9 274.58,562.9 275.28,562.9 275.98,562.9 276.68,562.9 277.38,562.9 278.08,562.9 278.78,562.9 279.48,562.9 280.19,562.9 280.89,562.9 281.59,562.9 282.29,562.9 282.99,562.9 283.69,562.9 284.39,562.9 285.09,562.9 285.79,562.9 286.49,562.9 287.19,562.9 287.9,562.9 288.6,562.9 289.3,562.9 290,562.9 290.7,562.9 291.4,562.9 292.1,562.9 292.8,562.9 293.5,562.9 294.2,562.9 294.9,562.9 295.61,562.9 296.31,562.9 297.01,562.9 297.71,562.9 298.41,562.9 299.11,562.9 299.81,562.9 300.51,562.9 301.21,562.9 301.91,562.9 302.61,562.9 303.32,562.9 304.02,562.9 304.72,562.9 305.42,562.9 306.12,562.9 306.82,562.9 307.52,562.9 308.22,562.9 308.92,562.9 309.62,562.9 310.32,562.9 311.03,562.9 311.73,562.9 312.43,562.9 313.13,562.9 313.83,562.9 314.53,562.9 315.23,562.9 315.93,562.9 316.63,562.9 317.33,562.9 318.03,562.9 318.74,562.9 319.44,562.9 320.14,562.9 320.84,562.9 321.54,562.9 322.24,562.9 322.94,562.9 323.64,562.9 324.34,562.9 325.04,562.9 325.74,562.9 326.45,562.9 327.15,562.9 327.85,562.9 328.55,562.9 329.25,562.9 329.95,562.9 330.65,562.9 331.35,562.9 332.05,562.9 332.75,562.9 333.45,562.9 334.16,562.9 334.86,562.9 335.56,562.9 336.26,562.9 336.96,562.9 337.66,562.9 338.36,562.9 339.06,562.9 339.76,562.9 340.46,562.9 341.16,562.9 341.86,562.9 342.57,562.9 343.27,562.9 343.97,562.9 344.67,562.9 345.37,562.9 346.07,562.9 346.77,562.9 347.47,562.9 348.17,562.9 348.87,562.9 349.57,562.9 350.28,562.9 350.98,562.9 351.68,562.9 352.38,562.9 353.08,562.9 353.78,562.9 354.48,562.9 355.18,562.9 355.88,562.9 356.58,562.9 357.28,562.9 357.99,562.9 358.69,562.9 359.39,562.9 360.09,562.9 360.79,562.9 361.49,562.9 362.19,562.9 362.89,562.9 363.59,562.9 364.29,562.9 364.99,562.9 365.7,562.9 366.4,562.9 367.1,562.9 367.8,562.9 368.5,562.9 369.2,562.9'/>
<polyline stroke='#c40a1c' stroke-dasharray='3.2,2.2' points='57.3,562.9 58,562.9 58.7,562.9 59.4,562.9 60.1,562.9 60.8,562.9 61.51,562.9 62.21,562.9 62.91,562.9 63.61,562.9 64.31,562.9 65.01,562.9 65.71,562.9 66.41,562.9 67.11,562.9 67.81,562.9 68.51,562.9 69.22,562.9 69.92,562.9 70.62,562.9 71.32,562.9 72.02,562.9 72.72,562.9 73.42,562.9 74.12,562.9 74.82,562.9 75.52,562.9 76.22,562.9 76.93,562.9 77.63,562.9 78.33,562.9 79.03,562.9 79.73,562.9 80.43,562.9 81.13,562.9 81.83,562.9 82.53,562.9 83.23,562.9 83.93,562.9 84.64,562.9 85.34,562.9 86.04,562.9 86.74,562.9 87.44,562.9 88.14,562.9 88.84,562.9 89.54,562.9 90.24,562.9 90.94,562.9 91.64,562.9 92.34,562.9 93.05,562.9 93.75,562.9 94.45,562.9 95.15,562.9 95.85,562.9 96.55,562.9 97.25,562.9 97.95,562.9 98.65,562.9 99.35,562.9 100.05,562.9 100.76,562.9 101.46,562.9 102.16,562.9 102.86,562.9 103.56,562.9 104.26,562.9 104.96,562.9 105.66,562.9 106.36,562.9 107.06,562.9 107.76,562.9 108.47,562.9 109.17,562.9 109.87,562.9 110.57,562.9 111.27,562.9 111.97,562.9 112.67,562.9 113.37,562.9 114.07,562.9 114.77,562.9 115.47,562.9 116.18,562.9 116.88,562.9 117.58,562.9 118.28,562.9 118.98,562.9 119.68,562.9 120.38,562.9 121.08,562.9 121.78,562.9 122.48,562.9 123.18,562.9 123.89,562.9 124.59,562.9 125.29,562.9 125.99,562.9 126.69,562.9 127.39,562.9 128.09,562.9 128.79,562.9 129.49,562.9 130.19,562.9 130.89,562.9 131.6,562.9 132.3,562.9 133,562.9 133.7,562.9 134.4,562.9 135.1,562.9 135.8,562.9 136.5,562.9 137.2,562.9 137.9,562.9 138.6,562.9 139.31,562.9 140.01,562.9 140.71,562.9 141.41,562.9 142.11,562.9 142.81,562.9 143.51,562.89 144.21,562.89 144.91,562.88 145.61,562.87 146.31,562.86 147.02,562.84 147.72,562.82 148.42,562.78 149.12,562.74 149.82,562.68 150.52,562.61 151.22,562.51 151.92,562.4 152.62,562.27 153.32,562.11 154.02,561.93 154.72,561.73 155.43,561.51 156.13,561.27 156.83,561.03 157.53,560.79 158.23,560.54 158.93,560.32 159.63,560.11 160.33,559.92 161.03,559.78 161.73,559.67 162.43,559.61 163.14,559.59 163.84,559.63 164.54,559.71 165.24,559.83 165.94,559.99 166.64,560.18 167.34,560.4 168.04,560.64 168.74,560.88 169.44,561.12 170.14,561.36 170.85,561.59 171.55,561.81 172.25,562 172.95,562.17 173.65,562.32 174.35,562.45 175.05,562.55 175.75,562.64 176.45,562.71 177.15,562.76 177.85,562.8 178.56,562.83 179.26,562.85 179.96,562.87 180.66,562.88 181.36,562.89 182.06,562.89 182.76,562.89 183.46,562.9 184.16,562.9 184.86,562.9 185.56,562.9 186.27,562.9 186.97,562.9 187.67,562.9 188.37,562.9 189.07,562.9 189.77,562.9 190.47,562.9 191.17,562.9 191.87,562.9 192.57,562.9 193.27,562.9 193.98,562.9 194.68,562.9 195.38,562.9 196.08,562.89 196.78,562.89 197.48,562.88 198.18,562.87 198.88,562.86 199.58,562.83 200.28,562.79 200.98,562.74 201.69,562.65 202.39,562.53 203.09,562.36 203.79,562.13 204.49,561.81 205.19,561.38 205.89,560.82 206.59,560.11 207.29,559.19 207.99,558.03 208.69,556.57 209.4,554.73 210.1,552.45 210.8,549.64 211.5,546.24 212.2,542.18 212.9,537.42 213.6,531.92 214.3,525.68 215,518.71 215.7,511.08 216.4,502.88 217.1,494.24 217.81,485.33 218.51,476.37 219.21,467.57 219.91,459.21 220.61,451.52 221.31,444.78 222.01,439.21 222.71,435.02 223.41,432.35 224.11,431.31 224.81,431.9 225.52,434.04 226.22,437.64 226.92,442.59 227.62,448.72 228.32,455.81 229.02,463.65 229.72,472 230.42,480.63 231.12,489.32 231.82,497.86 232.52,506.08 233.23,513.83 233.93,521.01 234.63,527.54 235.33,533.38 236.03,538.52 236.73,542.96 237.43,546.74 238.13,549.9 238.83,552.49 239.53,554.56 240.23,556.19 240.94,557.43 241.64,558.32 242.34,558.92 243.04,559.25 243.74,559.35 244.44,559.26 245.14,559.01 245.84,558.64 246.54,558.18 247.24,557.67 247.94,557.15 248.65,556.64 249.35,556.17 250.05,555.78 250.75,555.5 251.45,555.33 252.15,555.3 252.85,555.4 253.55,555.63 254.25,555.98 254.95,556.43 255.65,556.96 256.36,557.53 257.06,558.14 257.76,558.75 258.46,559.34 259.16,559.9 259.86,560.42 260.56,560.89 261.26,561.3 261.96,561.65 262.66,561.95 263.36,562.19 264.07,562.38 264.77,562.53 265.47,562.64 266.17,562.73 266.87,562.78 267.57,562.82 268.27,562.85 268.97,562.87 269.67,562.88 270.37,562.89 271.07,562.89 271.78,562.9 272.48,562.9 273.18,562.9 273.88,562.9 274.58,562.9 275.28,562.9 275.98,562.9 276.68,562.9 277.38,562.9 278.08,562.9 278.78,562.9 279.48,562.9 280.19,562.9 280.89,562.9 281.59,562.9 282.29,562.9 282.99,562.9 283.69,562.9 284.39,562.9 285.09,562.9 285.79,562.9 286.49,562.9 287.19,562.9 287.9,562.9 288.6,562.9 289.3,562.9 290,562.9 290.7,562.9 291.4,562.9 292.1,562.9 292.8,562.9 293.5,562.9 294.2,562.9 294.9,562.9 295.61,562.9 296.31,562.9 297.01,562.9 297.71,562.9 298.41,562.9 299.11,562.9 299.81,562.9 300.51,562.9 301.21,562.9 301.91,562.9 302.61,562.9 303.32,562.9 304.02,562.9 304.72,562.9 305.42,562.9 306.12,562.9 306.82,562.9 307.52,562.9 308.22,562.9 308.92,562.9 309.62,562.9 310.32,562.9 311.03,562.9 311.73,562.9 312.43,562.9 313.13,562.9 313.83,562.9 314.53,562.9 315.23,562.9 315.93,562.9 316.63,562.9 317.33,562.9 318.03,562.9 318.74,562.9 319.44,562.9 320.14,562.9 320.84,562.9 321.54,562.9 322.24,562.9 322.94,562.9 323.64,562.9 324.34,562.9 325.04,562.9 325.74,562.9 326.45,562.9 327.15,562.9 327.85,562.9 328.55,562.9 329.25,562.9 329.95,562.9 330.65,562.9 331.35,562.9 332.05,562.9 332.75,562.9 333.45,562.9 334.16,562.9 334.86,562.9 335.56,562.9 336.26,562.9 336.96,562.9 337.66,562.9 338.36,562.9 339.06,562.9 339.76,562.9 340.46,562.9 341.16,562.9 341.86,562.9 342.57,562.9 343.27,562.9 343.97,562.9 344.67,562.9 345.37,562.9 346.07,562.9 346.77,562.9 347.47,562.9 348.17,562.9 348.87,562.9 349.57,562.9 350.28,562.9 350.98,562.9 351.68,562.9 352.38,562.9 353.08,562.9 353.78,562.9 354.48,562.9 355.18,562.9 355.88,562.9 356.58,562.9 357.28,562.9 357.99,562.9 358.69,562.9 359.39,562.9 360.09,562.9 360.79,562.9 361.49,562.9 362.19,562.9 362.89,562.9 363.59,562.9 364.29,562.9 364.99,562.9 365.7,562.9 366.4,562.9 367.1,562.9 367.8,562.9 368.5,562.9 369.2,562.9'/>
</g>
<rect x='57.3' y='415.5' width='311.9' height='146.8' fill='none' stroke='#1a1a1a' stroke-width='1.5'/>
<path d='M109.28 562.3v-3.5M109.28 415.5v3.5' stroke='#1a1a1a' stroke-width='1.3'/>
<path d='M161.27 562.3v-3.5M161.27 415.5v3.5' stroke='#1a1a1a' stroke-width='1.3'/>
<path d='M213.25 562.3v-3.5M213.25 415.5v3.5' stroke='#1a1a1a' stroke-width='1.3'/>
<path d='M265.23 562.3v-3.5M265.23 415.5v3.5' stroke='#1a1a1a' stroke-width='1.3'/>
<path d='M317.22 562.3v-3.5M317.22 415.5v3.5' stroke='#1a1a1a' stroke-width='1.3'/>
<path d='M57.3 513.37h3.5M369.2 513.37h-3.5' stroke='#1a1a1a' stroke-width='1.3'/>
<path d='M57.3 464.43h3.5M369.2 464.43h-3.5' stroke='#1a1a1a' stroke-width='1.3'/>
<text x='60' y='576.5' text-anchor='middle'>0</text>
<text x='111.6' y='576.5' text-anchor='middle'>20</text>
<text x='170' y='576.5' text-anchor='middle'>40</text>
<text x='216.2' y='576.5' text-anchor='middle'>60</text>
<text x='267.25' y='576.5' text-anchor='middle'>80</text>
<text x='320.4' y='576.5' text-anchor='middle'>100</text>
<text x='372' y='576.5' text-anchor='middle'>120</text>
<text x='46.5' y='564.4' text-anchor='end'>0</text>
<text x='46.5' y='519' text-anchor='end'>0.03</text>
<text x='46.5' y='470.1' text-anchor='end'>0.06</text>
<text x='46.5' y='422' text-anchor='end'>0.09</text>
<text x='214.5' y='593' text-anchor='middle'>γ (deg.)</text>
<text x='0.9' y='402' class='L'>E</text>
<text transform='translate(14.2 487) rotate(-90)' text-anchor='middle'>Probability</text>
<clipPath id='cF'><rect x='420.5' y='414.5' width='313.7' height='150.1'/></clipPath>
<g clip-path='url(#cF)' fill='none' stroke-width='1.6' stroke-linejoin='round'>
<polyline stroke='#201585' points='420.5,562.2 421.2,562.2 421.9,562.2 422.6,562.2 423.3,562.2 424,562.2 424.7,562.2 425.4,562.2 426.1,562.2 426.8,562.2 427.5,562.2 428.2,562.2 428.9,562.2 429.6,562.2 430.3,562.2 431,562.2 431.7,562.2 432.4,562.2 433.1,562.2 433.8,562.2 434.5,562.2 435.2,562.2 435.9,562.2 436.61,562.2 437.31,562.2 438.01,562.2 438.71,562.2 439.41,562.2 440.11,562.2 440.81,562.2 441.51,562.2 442.21,562.2 442.91,562.2 443.61,562.2 444.31,562.2 445.01,562.2 445.71,562.2 446.41,562.2 447.11,562.2 447.81,562.2 448.51,562.2 449.21,562.2 449.91,562.2 450.61,562.2 451.31,562.2 452.01,562.2 452.71,562.2 453.41,562.2 454.11,562.2 454.81,562.2 455.51,562.2 456.21,562.2 456.91,562.2 457.61,562.2 458.31,562.2 459.01,562.2 459.71,562.2 460.41,562.2 461.11,562.2 461.81,562.2 462.51,562.19 463.21,562.19 463.91,562.19 464.61,562.19 465.31,562.19 466.01,562.19 466.71,562.19 467.41,562.18 468.12,562.18 468.82,562.18 469.52,562.18 470.22,562.17 470.92,562.17 471.62,562.16 472.32,562.16 473.02,562.15 473.72,562.14 474.42,562.14 475.12,562.13 475.82,562.12 476.52,562.1 477.22,562.09 477.92,562.08 478.62,562.06 479.32,562.04 480.02,562.02 480.72,562 481.42,561.97 482.12,561.95 482.82,561.91 483.52,561.88 484.22,561.84 484.92,561.8 485.62,561.75 486.32,561.7 487.02,561.64 487.72,561.58 488.42,561.51 489.12,561.44 489.82,561.36 490.52,561.27 491.22,561.17 491.92,561.07 492.62,560.96 493.32,560.84 494.02,560.71 494.72,560.57 495.42,560.42 496.12,560.26 496.82,560.08 497.52,559.9 498.22,559.7 498.93,559.49 499.63,559.27 500.33,559.03 501.03,558.78 501.73,558.51 502.43,558.23 503.13,557.93 503.83,557.61 504.53,557.27 505.23,556.91 505.93,556.53 506.63,556.12 507.33,555.7 508.03,555.25 508.73,554.78 509.43,554.28 510.13,553.76 510.83,553.21 511.53,552.64 512.23,552.03 512.93,551.41 513.63,550.75 514.33,550.07 515.03,549.35 515.73,548.62 516.43,547.85 517.13,547.06 517.83,546.24 518.53,545.4 519.23,544.53 519.93,543.64 520.63,542.72 521.33,541.79 522.03,540.84 522.73,539.86 523.43,538.87 524.13,537.87 524.83,536.85 525.53,535.83 526.23,534.79 526.93,533.75 527.63,532.7 528.33,531.66 529.03,530.61 529.73,529.57 530.44,528.54 531.14,527.51 531.84,526.5 532.54,525.51 533.24,524.54 533.94,523.59 534.64,522.66 535.34,521.76 536.04,520.89 536.74,520.06 537.44,519.26 538.14,518.51 538.84,517.79 539.54,517.13 540.24,516.5 540.94,515.93 541.64,515.41 542.34,514.95 543.04,514.53 543.74,514.18 544.44,513.89 545.14,513.65 545.84,513.47 546.54,513.36 547.24,513.3 547.94,513.31 548.64,513.38 549.34,513.51 550.04,513.7 550.74,513.96 551.44,514.27 552.14,514.64 552.84,515.06 553.54,515.54 554.24,516.08 554.94,516.66 555.64,517.29 556.34,517.97 557.04,518.7 557.74,519.47 558.44,520.27 559.14,521.11 559.84,521.99 560.54,522.9 561.24,523.83 561.95,524.79 562.65,525.77 563.35,526.76 564.05,527.78 564.75,528.8 565.45,529.84 566.15,530.88 566.85,531.93 567.55,532.97 568.25,534.02 568.95,535.06 569.65,536.09 570.35,537.12 571.05,538.13 571.75,539.13 572.45,540.12 573.15,541.08 573.85,542.03 574.55,542.96 575.25,543.87 575.95,544.76 576.65,545.62 577.35,546.45 578.05,547.27 578.75,548.05 579.45,548.81 580.15,549.54 580.85,550.24 581.55,550.92 582.25,551.57 582.95,552.19 583.65,552.79 584.35,553.36 585.05,553.9 585.75,554.41 586.45,554.9 587.15,555.37 587.85,555.81 588.55,556.23 589.25,556.63 589.95,557 590.65,557.36 591.35,557.69 592.05,558.01 592.75,558.3 593.46,558.58 594.16,558.85 594.86,559.1 595.56,559.33 596.26,559.55 596.96,559.76 597.66,559.95 598.36,560.13 599.06,560.3 599.76,560.46 600.46,560.6 601.16,560.74 601.86,560.87 602.56,560.99 603.26,561.1 603.96,561.2 604.66,561.29 605.36,561.38 606.06,561.46 606.76,561.53 607.46,561.6 608.16,561.66 608.86,561.71 609.56,561.76 610.26,561.81 610.96,561.85 611.66,561.89 612.36,561.92 613.06,561.95 613.76,561.98 614.46,562.01 615.16,562.03 615.86,562.05 616.56,562.07 617.26,562.08 617.96,562.1 618.66,562.11 619.36,562.12 620.06,562.13 620.76,562.14 621.46,562.15 622.16,562.15 622.86,562.16 623.56,562.16 624.26,562.17 624.97,562.17 625.67,562.18 626.37,562.18 627.07,562.18 627.77,562.18 628.47,562.19 629.17,562.19 629.87,562.19 630.57,562.19 631.27,562.19 631.97,562.19 632.67,562.19 633.37,562.2 634.07,562.2 634.77,562.2 635.47,562.2 636.17,562.2 636.87,562.2 637.57,562.2 638.27,562.2 638.97,562.2 639.67,562.2 640.37,562.2 641.07,562.2 641.77,562.2 642.47,562.2 643.17,562.2 643.87,562.2 644.57,562.2 645.27,562.2 645.97,562.2 646.67,562.2 647.37,562.2 648.07,562.2 648.77,562.2 649.47,562.2 650.17,562.2 650.87,562.2 651.57,562.2 652.27,562.2 652.97,562.2 653.67,562.2 654.37,562.2 655.07,562.2 655.78,562.2 656.48,562.2 657.18,562.2 657.88,562.2 658.58,562.2 659.28,562.2 659.98,562.2 660.68,562.2 661.38,562.2 662.08,562.2 662.78,562.2 663.48,562.2 664.18,562.2 664.88,562.2 665.58,562.2 666.28,562.2 666.98,562.2 667.68,562.2 668.38,562.2 669.08,562.2 669.78,562.2 670.48,562.2 671.18,562.2 671.88,562.2 672.58,562.2 673.28,562.2 673.98,562.2 674.68,562.2 675.38,562.2 676.08,562.2 676.78,562.2 677.48,562.2 678.18,562.2 678.88,562.2 679.58,562.2 680.28,562.2 680.98,562.2 681.68,562.2 682.38,562.2 683.08,562.2 683.78,562.2 684.48,562.2 685.18,562.2 685.88,562.2 686.58,562.2 687.29,562.2 687.99,562.2 688.69,562.2 689.39,562.2 690.09,562.2 690.79,562.2 691.49,562.2 692.19,562.2 692.89,562.2 693.59,562.2 694.29,562.2 694.99,562.2 695.69,562.2 696.39,562.2 697.09,562.2 697.79,562.2 698.49,562.2 699.19,562.2 699.89,562.2 700.59,562.2 701.29,562.2 701.99,562.2 702.69,562.2 703.39,562.2 704.09,562.2 704.79,562.2 705.49,562.2 706.19,562.2 706.89,562.2 707.59,562.2 708.29,562.2 708.99,562.2 709.69,562.2 710.39,562.2 711.09,562.2 711.79,562.2 712.49,562.2 713.19,562.2 713.89,562.2 714.59,562.2 715.29,562.2 715.99,562.2 716.69,562.2 717.39,562.2 718.09,562.2 718.8,562.2 719.5,562.2 720.2,562.2 720.9,562.2 721.6,562.2 722.3,562.2 723,562.2 723.7,562.2 724.4,562.2 725.1,562.2 725.8,562.2 726.5,562.2 727.2,562.2 727.9,562.2 728.6,562.2 729.3,562.2 730,562.2 730.7,562.2 731.4,562.2 732.1,562.2 732.8,562.2 733.5,562.2 734.2,562.2'/>
<polyline stroke='#201585' stroke-dasharray='7.2,6.2' points='420.5,562.2 421.2,562.2 421.9,562.2 422.6,562.2 423.3,562.2 424,562.2 424.7,562.2 425.4,562.2 426.1,562.2 426.8,562.2 427.5,562.2 428.2,562.2 428.9,562.2 429.6,562.2 430.3,562.2 431,562.2 431.7,562.2 432.4,562.2 433.1,562.2 433.8,562.2 434.5,562.2 435.2,562.2 435.9,562.2 436.61,562.2 437.31,562.2 438.01,562.2 438.71,562.2 439.41,562.2 440.11,562.2 440.81,562.2 441.51,562.2 442.21,562.2 442.91,562.2 443.61,562.2 444.31,562.2 445.01,562.2 445.71,562.19 446.41,562.19 447.11,562.19 447.81,562.19 448.51,562.19 449.21,562.19 449.91,562.19 450.61,562.19 451.31,562.18 452.01,562.18 452.71,562.18 453.41,562.18 454.11,562.17 454.81,562.17 455.51,562.16 456.21,562.16 456.91,562.15 457.61,562.15 458.31,562.14 459.01,562.13 459.71,562.13 460.41,562.12 461.11,562.11 461.81,562.09 462.51,562.08 463.21,562.07 463.91,562.05 464.61,562.03 465.31,562.02 466.01,561.99 466.71,561.97 467.41,561.95 468.12,561.92 468.82,561.89 469.52,561.85 470.22,561.81 470.92,561.77 471.62,561.73 472.32,561.68 473.02,561.63 473.72,561.57 474.42,561.51 475.12,561.44 475.82,561.37 476.52,561.29 477.22,561.21 477.92,561.12 478.62,561.02 479.32,560.92 480.02,560.81 480.72,560.69 481.42,560.56 482.12,560.43 482.82,560.28 483.52,560.13 484.22,559.97 484.92,559.8 485.62,559.62 486.32,559.43 487.02,559.22 487.72,559.01 488.42,558.78 489.12,558.54 489.82,558.29 490.52,558.02 491.22,557.74 491.92,557.45 492.62,557.13 493.32,556.81 494.02,556.46 494.72,556.1 495.42,555.73 496.12,555.33 496.82,554.91 497.52,554.48 498.22,554.03 498.93,553.55 499.63,553.06 500.33,552.55 501.03,552.01 501.73,551.46 502.43,550.88 503.13,550.29 503.83,549.67 504.53,549.03 505.23,548.37 505.93,547.7 506.63,547 507.33,546.29 508.03,545.56 508.73,544.81 509.43,544.04 510.13,543.26 510.83,542.47 511.53,541.66 512.23,540.84 512.93,540.01 513.63,539.17 514.33,538.32 515.03,537.46 515.73,536.6 516.43,535.74 517.13,534.87 517.83,534.01 518.53,533.15 519.23,532.29 519.93,531.43 520.63,530.59 521.33,529.76 522.03,528.93 522.73,528.13 523.43,527.34 524.13,526.56 524.83,525.81 525.53,525.08 526.23,524.38 526.93,523.7 527.63,523.05 528.33,522.43 529.03,521.85 529.73,521.29 530.44,520.78 531.14,520.3 531.84,519.85 532.54,519.45 533.24,519.09 533.94,518.78 534.64,518.5 535.34,518.27 536.04,518.09 536.74,517.95 537.44,517.85 538.14,517.81 538.84,517.81 539.54,517.85 540.24,517.94 540.94,518.08 541.64,518.26 542.34,518.49 543.04,518.77 543.74,519.08 544.44,519.44 545.14,519.84 545.84,520.28 546.54,520.76 547.24,521.27 547.94,521.83 548.64,522.41 549.34,523.03 550.04,523.68 550.74,524.35 551.44,525.06 552.14,525.79 552.84,526.54 553.54,527.31 554.24,528.1 554.94,528.91 555.64,529.73 556.34,530.56 557.04,531.4 557.74,532.26 558.44,533.11 559.14,533.98 559.84,534.84 560.54,535.71 561.24,536.57 561.95,537.43 562.65,538.29 563.35,539.14 564.05,539.98 564.75,540.81 565.45,541.63 566.15,542.44 566.85,543.23 567.55,544.02 568.25,544.78 568.95,545.53 569.65,546.26 570.35,546.98 571.05,547.67 571.75,548.35 572.45,549.01 573.15,549.65 573.85,550.26 574.55,550.86 575.25,551.44 575.95,551.99 576.65,552.53 577.35,553.04 578.05,553.54 578.75,554.01 579.45,554.47 580.15,554.9 580.85,555.32 581.55,555.71 582.25,556.09 582.95,556.45 583.65,556.8 584.35,557.12 585.05,557.43 585.75,557.73 586.45,558.01 587.15,558.28 587.85,558.53 588.55,558.77 589.25,559 589.95,559.21 590.65,559.42 591.35,559.61 592.05,559.79 592.75,559.96 593.46,560.13 594.16,560.28 594.86,560.42 595.56,560.56 596.26,560.68 596.96,560.8 597.66,560.91 598.36,561.02 599.06,561.12 599.76,561.21 600.46,561.29 601.16,561.37 601.86,561.44 602.56,561.51 603.26,561.57 603.96,561.63 604.66,561.68 605.36,561.73 606.06,561.77 606.76,561.81 607.46,561.85 608.16,561.88 608.86,561.92 609.56,561.94 610.26,561.97 610.96,561.99 611.66,562.01 612.36,562.03 613.06,562.05 613.76,562.07 614.46,562.08 615.16,562.09 615.86,562.11 616.56,562.12 617.26,562.13 617.96,562.13 618.66,562.14 619.36,562.15 620.06,562.15 620.76,562.16 621.46,562.16 622.16,562.17 622.86,562.17 623.56,562.18 624.26,562.18 624.97,562.18 625.67,562.18 626.37,562.19 627.07,562.19 627.77,562.19 628.47,562.19 629.17,562.19 629.87,562.19 630.57,562.19 631.27,562.19 631.97,562.2 632.67,562.2 633.37,562.2 634.07,562.2 634.77,562.2 635.47,562.2 636.17,562.2 636.87,562.2 637.57,562.2 638.27,562.2 638.97,562.2 639.67,562.2 640.37,562.2 641.07,562.2 641.77,562.2 642.47,562.2 643.17,562.2 643.87,562.2 644.57,562.2 645.27,562.2 645.97,562.2 646.67,562.2 647.37,562.2 648.07,562.2 648.77,562.2 649.47,562.2 650.17,562.2 650.87,562.2 651.57,562.2 652.27,562.2 652.97,562.2 653.67,562.2 654.37,562.2 655.07,562.2 655.78,562.2 656.48,562.2 657.18,562.2 657.88,562.2 658.58,562.2 659.28,562.2 659.98,562.2 660.68,562.2 661.38,562.2 662.08,562.2 662.78,562.2 663.48,562.2 664.18,562.2 664.88,562.2 665.58,562.2 666.28,562.2 666.98,562.2 667.68,562.2 668.38,562.2 669.08,562.2 669.78,562.2 670.48,562.2 671.18,562.2 671.88,562.2 672.58,562.2 673.28,562.2 673.98,562.2 674.68,562.2 675.38,562.2 676.08,562.2 676.78,562.2 677.48,562.2 678.18,562.2 678.88,562.2 679.58,562.2 680.28,562.2 680.98,562.2 681.68,562.2 682.38,562.2 683.08,562.2 683.78,562.2 684.48,562.2 685.18,562.2 685.88,562.2 686.58,562.2 687.29,562.2 687.99,562.2 688.69,562.2 689.39,562.2 690.09,562.2 690.79,562.2 691.49,562.2 692.19,562.2 692.89,562.2 693.59,562.2 694.29,562.2 694.99,562.2 695.69,562.2 696.39,562.2 697.09,562.2 697.79,562.2 698.49,562.2 699.19,562.2 699.89,562.2 700.59,562.2 701.29,562.2 701.99,562.2 702.69,562.2 703.39,562.2 704.09,562.2 704.79,562.2 705.49,562.2 706.19,562.2 706.89,562.2 707.59,562.2 708.29,562.2 708.99,562.2 709.69,562.2 710.39,562.2 711.09,562.2 711.79,562.2 712.49,562.2 713.19,562.2 713.89,562.2 714.59,562.2 715.29,562.2 715.99,562.2 716.69,562.2 717.39,562.2 718.09,562.2 718.8,562.2 719.5,562.2 720.2,562.2 720.9,562.2 721.6,562.2 722.3,562.2 723,562.2 723.7,562.2 724.4,562.2 725.1,562.2 725.8,562.2 726.5,562.2 727.2,562.2 727.9,562.2 728.6,562.2 729.3,562.2 730,562.2 730.7,562.2 731.4,562.2 732.1,562.2 732.8,562.2 733.5,562.2 734.2,562.2'/>
<polyline stroke='#201585' stroke-dasharray='3.2,2.2' points='420.5,562.2 421.2,562.2 421.9,562.2 422.6,562.2 423.3,562.2 424,562.2 424.7,562.2 425.4,562.2 426.1,562.2 426.8,562.2 427.5,562.2 428.2,562.2 428.9,562.2 429.6,562.2 430.3,562.2 431,562.2 431.7,562.2 432.4,562.2 433.1,562.2 433.8,562.2 434.5,562.2 435.2,562.2 435.9,562.2 436.61,562.2 437.31,562.2 438.01,562.2 438.71,562.2 439.41,562.2 440.11,562.2 440.81,562.2 441.51,562.2 442.21,562.2 442.91,562.2 443.61,562.2 444.31,562.2 445.01,562.2 445.71,562.2 446.41,562.19 447.11,562.19 447.81,562.19 448.51,562.19 449.21,562.19 449.91,562.19 450.61,562.19 451.31,562.19 452.01,562.18 452.71,562.18 453.41,562.18 454.11,562.18 454.81,562.17 455.51,562.17 456.21,562.17 456.91,562.16 457.61,562.16 458.31,562.15 459.01,562.15 459.71,562.14 460.41,562.13 461.11,562.13 461.81,562.12 462.51,562.11 463.21,562.1 463.91,562.08 464.61,562.07 465.31,562.05 466.01,562.04 466.71,562.02 467.41,562 468.12,561.98 468.82,561.95 469.52,561.93 470.22,561.9 470.92,561.86 471.62,561.83 472.32,561.79 473.02,561.75 473.72,561.7 474.42,561.66 475.12,561.6 475.82,561.54 476.52,561.48 477.22,561.42 477.92,561.34 478.62,561.27 479.32,561.18 480.02,561.09 480.72,561 481.42,560.89 482.12,560.79 482.82,560.67 483.52,560.54 484.22,560.41 484.92,560.27 485.62,560.12 486.32,559.97 487.02,559.8 487.72,559.62 488.42,559.44 489.12,559.24 489.82,559.03 490.52,558.82 491.22,558.58 491.92,558.34 492.62,558.09 493.32,557.82 494.02,557.54 494.72,557.24 495.42,556.93 496.12,556.6 496.82,556.26 497.52,555.9 498.22,555.53 498.93,555.14 499.63,554.73 500.33,554.3 501.03,553.85 501.73,553.39 502.43,552.91 503.13,552.4 503.83,551.88 504.53,551.34 505.23,550.79 505.93,550.21 506.63,549.61 507.33,549 508.03,548.37 508.73,547.72 509.43,547.05 510.13,546.37 510.83,545.67 511.53,544.96 512.23,544.23 512.93,543.48 513.63,542.73 514.33,541.96 515.03,541.19 515.73,540.4 516.43,539.61 517.13,538.8 517.83,538 518.53,537.19 519.23,536.38 519.93,535.56 520.63,534.75 521.33,533.94 522.03,533.14 522.73,532.34 523.43,531.55 524.13,530.77 524.83,530 525.53,529.25 526.23,528.51 526.93,527.79 527.63,527.08 528.33,526.4 529.03,525.74 529.73,525.11 530.44,524.5 531.14,523.92 531.84,523.37 532.54,522.85 533.24,522.37 533.94,521.92 534.64,521.5 535.34,521.12 536.04,520.78 536.74,520.48 537.44,520.21 538.14,519.99 538.84,519.81 539.54,519.67 540.24,519.57 540.94,519.51 541.64,519.5 542.34,519.53 543.04,519.6 543.74,519.72 544.44,519.87 545.14,520.07 545.84,520.31 546.54,520.59 547.24,520.91 547.94,521.27 548.64,521.66 549.34,522.09 550.04,522.56 550.74,523.06 551.44,523.59 552.14,524.15 552.84,524.74 553.54,525.36 554.24,526 554.94,526.67 555.64,527.36 556.34,528.07 557.04,528.8 557.74,529.54 558.44,530.3 559.14,531.08 559.84,531.86 560.54,532.66 561.24,533.46 561.95,534.26 562.65,535.07 563.35,535.89 564.05,536.7 564.75,537.51 565.45,538.32 566.15,539.12 566.85,539.92 567.55,540.71 568.25,541.49 568.95,542.27 569.65,543.03 570.35,543.78 571.05,544.52 571.75,545.24 572.45,545.95 573.15,546.64 573.85,547.32 574.55,547.98 575.25,548.62 575.95,549.25 576.65,549.85 577.35,550.44 578.05,551.01 578.75,551.56 579.45,552.09 580.15,552.61 580.85,553.1 581.55,553.58 582.25,554.03 582.95,554.47 583.65,554.89 584.35,555.29 585.05,555.68 585.75,556.05 586.45,556.4 587.15,556.73 587.85,557.05 588.55,557.36 589.25,557.65 589.95,557.93 590.65,558.19 591.35,558.44 592.05,558.68 592.75,558.9 593.46,559.12 594.16,559.32 594.86,559.51 595.56,559.69 596.26,559.87 596.96,560.03 597.66,560.18 598.36,560.33 599.06,560.47 599.76,560.59 600.46,560.72 601.16,560.83 601.86,560.94 602.56,561.04 603.26,561.13 603.96,561.22 604.66,561.3 605.36,561.37 606.06,561.44 606.76,561.51 607.46,561.57 608.16,561.62 608.86,561.68 609.56,561.72 610.26,561.77 610.96,561.81 611.66,561.84 612.36,561.88 613.06,561.91 613.76,561.94 614.46,561.96 615.16,561.99 615.86,562.01 616.56,562.03 617.26,562.04 617.96,562.06 618.66,562.08 619.36,562.09 620.06,562.1 620.76,562.11 621.46,562.12 622.16,562.13 622.86,562.14 623.56,562.14 624.26,562.15 624.97,562.16 625.67,562.16 626.37,562.17 627.07,562.17 627.77,562.17 628.47,562.18 629.17,562.18 629.87,562.18 630.57,562.18 631.27,562.19 631.97,562.19 632.67,562.19 633.37,562.19 634.07,562.19 634.77,562.19 635.47,562.19 636.17,562.19 636.87,562.2 637.57,562.2 638.27,562.2 638.97,562.2 639.67,562.2 640.37,562.2 641.07,562.2 641.77,562.2 642.47,562.2 643.17,562.2 643.87,562.2 644.57,562.2 645.27,562.2 645.97,562.2 646.67,562.2 647.37,562.2 648.07,562.2 648.77,562.2 649.47,562.2 650.17,562.2 650.87,562.2 651.57,562.2 652.27,562.2 652.97,562.2 653.67,562.2 654.37,562.2 655.07,562.2 655.78,562.2 656.48,562.2 657.18,562.2 657.88,562.2 658.58,562.2 659.28,562.2 659.98,562.2 660.68,562.2 661.38,562.2 662.08,562.2 662.78,562.2 663.48,562.2 664.18,562.2 664.88,562.2 665.58,562.2 666.28,562.2 666.98,562.2 667.68,562.2 668.38,562.2 669.08,562.2 669.78,562.2 670.48,562.2 671.18,562.2 671.88,562.2 672.58,562.2 673.28,562.2 673.98,562.2 674.68,562.2 675.38,562.2 676.08,562.2 676.78,562.2 677.48,562.2 678.18,562.2 678.88,562.2 679.58,562.2 680.28,562.2 680.98,562.2 681.68,562.2 682.38,562.2 683.08,562.2 683.78,562.2 684.48,562.2 685.18,562.2 685.88,562.2 686.58,562.2 687.29,562.2 687.99,562.2 688.69,562.2 689.39,562.2 690.09,562.2 690.79,562.2 691.49,562.2 692.19,562.2 692.89,562.2 693.59,562.2 694.29,562.2 694.99,562.2 695.69,562.2 696.39,562.2 697.09,562.2 697.79,562.2 698.49,562.2 699.19,562.2 699.89,562.2 700.59,562.2 701.29,562.2 701.99,562.2 702.69,562.2 703.39,562.2 704.09,562.2 704.79,562.2 705.49,562.2 706.19,562.2 706.89,562.2 707.59,562.2 708.29,562.2 708.99,562.2 709.69,562.2 710.39,562.2 711.09,562.2 711.79,562.2 712.49,562.2 713.19,562.2 713.89,562.2 714.59,562.2 715.29,562.2 715.99,562.2 716.69,562.2 717.39,562.2 718.09,562.2 718.8,562.2 719.5,562.2 720.2,562.2 720.9,562.2 721.6,562.2 722.3,562.2 723,562.2 723.7,562.2 724.4,562.2 725.1,562.2 725.8,562.2 726.5,562.2 727.2,562.2 727.9,562.2 728.6,562.2 729.3,562.2 730,562.2 730.7,562.2 731.4,562.2 732.1,562.2 732.8,562.2 733.5,562.2 734.2,562.2'/>
<polyline stroke='#c40a1c' points='420.5,562.2 421.2,562.2 421.9,562.2 422.6,562.2 423.3,562.2 424,562.2 424.7,562.2 425.4,562.2 426.1,562.2 426.8,562.2 427.5,562.2 428.2,562.2 428.9,562.2 429.6,562.2 430.3,562.2 431,562.2 431.7,562.2 432.4,562.2 433.1,562.2 433.8,562.2 434.5,562.2 435.2,562.2 435.9,562.2 436.61,562.2 437.31,562.2 438.01,562.2 438.71,562.2 439.41,562.2 440.11,562.2 440.81,562.2 441.51,562.2 442.21,562.2 442.91,562.2 443.61,562.2 444.31,562.2 445.01,562.2 445.71,562.2 446.41,562.2 447.11,562.2 447.81,562.2 448.51,562.2 449.21,562.2 449.91,562.2 450.61,562.2 451.31,562.2 452.01,562.2 452.71,562.2 453.41,562.2 454.11,562.2 454.81,562.2 455.51,562.2 456.21,562.2 456.91,562.2 457.61,562.2 458.31,562.2 459.01,562.2 459.71,562.2 460.41,562.2 461.11,562.2 461.81,562.2 462.51,562.2 463.21,562.2 463.91,562.2 464.61,562.2 465.31,562.2 466.01,562.2 466.71,562.2 467.41,562.2 468.12,562.2 468.82,562.2 469.52,562.2 470.22,562.2 470.92,562.2 471.62,562.2 472.32,562.2 473.02,562.2 473.72,562.2 474.42,562.2 475.12,562.2 475.82,562.2 476.52,562.2 477.22,562.2 477.92,562.2 478.62,562.2 479.32,562.2 480.02,562.2 480.72,562.2 481.42,562.2 482.12,562.2 482.82,562.2 483.52,562.2 484.22,562.2 484.92,562.2 485.62,562.2 486.32,562.2 487.02,562.2 487.72,562.2 488.42,562.2 489.12,562.2 489.82,562.2 490.52,562.2 491.22,562.2 491.92,562.2 492.62,562.2 493.32,562.2 494.02,562.2 494.72,562.2 495.42,562.2 496.12,562.2 496.82,562.2 497.52,562.2 498.22,562.2 498.93,562.2 499.63,562.2 500.33,562.2 501.03,562.2 501.73,562.2 502.43,562.2 503.13,562.2 503.83,562.2 504.53,562.2 505.23,562.2 505.93,562.2 506.63,562.2 507.33,562.2 508.03,562.2 508.73,562.2 509.43,562.2 510.13,562.2 510.83,562.2 511.53,562.2 512.23,562.2 512.93,562.2 513.63,562.2 514.33,562.2 515.03,562.2 515.73,562.2 516.43,562.2 517.13,562.2 517.83,562.2 518.53,562.2 519.23,562.2 519.93,562.2 520.63,562.2 521.33,562.2 522.03,562.2 522.73,562.2 523.43,562.2 524.13,562.2 524.83,562.2 525.53,562.2 526.23,562.2 526.93,562.2 527.63,562.2 528.33,562.2 529.03,562.2 529.73,562.2 530.44,562.2 531.14,562.2 531.84,562.2 532.54,562.2 533.24,562.2 533.94,562.2 534.64,562.2 535.34,562.2 536.04,562.2 536.74,562.2 537.44,562.2 538.14,562.2 538.84,562.2 539.54,562.2 540.24,562.2 540.94,562.2 541.64,562.2 542.34,562.2 543.04,562.2 543.74,562.2 544.44,562.2 545.14,562.2 545.84,562.2 546.54,562.2 547.24,562.2 547.94,562.2 548.64,562.2 549.34,562.2 550.04,562.2 550.74,562.2 551.44,562.2 552.14,562.2 552.84,562.2 553.54,562.2 554.24,562.2 554.94,562.2 555.64,562.2 556.34,562.2 557.04,562.2 557.74,562.2 558.44,562.2 559.14,562.2 559.84,562.2 560.54,562.2 561.24,562.2 561.95,562.2 562.65,562.2 563.35,562.2 564.05,562.2 564.75,562.2 565.45,562.2 566.15,562.2 566.85,562.2 567.55,562.2 568.25,562.2 568.95,562.2 569.65,562.2 570.35,562.2 571.05,562.2 571.75,562.2 572.45,562.2 573.15,562.2 573.85,562.2 574.55,562.2 575.25,562.2 575.95,562.2 576.65,562.2 577.35,562.2 578.05,562.2 578.75,562.2 579.45,562.2 580.15,562.2 580.85,562.2 581.55,562.2 582.25,562.2 582.95,562.2 583.65,562.2 584.35,562.2 585.05,562.2 585.75,562.2 586.45,562.2 587.15,562.2 587.85,562.2 588.55,562.2 589.25,562.19 589.95,562.19 590.65,562.19 591.35,562.18 592.05,562.17 592.75,562.15 593.46,562.13 594.16,562.09 594.86,562.04 595.56,561.97 596.26,561.88 596.96,561.74 597.66,561.56 598.36,561.32 599.06,561 599.76,560.59 600.46,560.07 601.16,559.41 601.86,558.59 602.56,557.58 603.26,556.33 603.96,554.79 604.66,552.9 605.36,550.61 606.06,547.85 606.76,544.59 607.46,540.77 608.16,536.34 608.86,531.29 609.56,525.61 610.26,519.29 610.96,512.38 611.66,504.93 612.36,497.01 613.06,488.75 613.76,480.26 614.46,471.72 615.16,463.3 615.86,455.2 616.56,447.6 617.26,440.72 617.96,434.73 618.66,429.81 619.36,426.1 620.06,423.72 620.76,422.73 621.46,423.16 622.16,425.01 622.86,428.22 623.56,432.68 624.26,438.27 624.97,444.83 625.67,452.17 626.37,460.1 627.07,468.42 627.77,476.94 628.47,485.46 629.17,493.83 629.87,501.9 630.57,509.54 631.27,516.67 631.97,523.23 632.67,529.16 633.37,534.45 634.07,539.12 634.77,543.17 635.47,546.65 636.17,549.59 636.87,552.06 637.57,554.1 638.27,555.77 638.97,557.13 639.67,558.23 640.37,559.11 641.07,559.83 641.77,560.4 642.47,560.85 643.17,561.2 643.87,561.47 644.57,561.68 645.27,561.83 645.97,561.94 646.67,562.02 647.37,562.08 648.07,562.12 648.77,562.14 649.47,562.16 650.17,562.18 650.87,562.18 651.57,562.19 652.27,562.19 652.97,562.2 653.67,562.2 654.37,562.2 655.07,562.2 655.78,562.2 656.48,562.2 657.18,562.2 657.88,562.2 658.58,562.2 659.28,562.2 659.98,562.2 660.68,562.2 661.38,562.2 662.08,562.2 662.78,562.2 663.48,562.2 664.18,562.2 664.88,562.2 665.58,562.2 666.28,562.2 666.98,562.2 667.68,562.2 668.38,562.2 669.08,562.2 669.78,562.2 670.48,562.2 671.18,562.2 671.88,562.2 672.58,562.2 673.28,562.2 673.98,562.2 674.68,562.2 675.38,562.2 676.08,562.2 676.78,562.2 677.48,562.2 678.18,562.2 678.88,562.2 679.58,562.2 680.28,562.2 680.98,562.2 681.68,562.2 682.38,562.2 683.08,562.2 683.78,562.2 684.48,562.2 685.18,562.2 685.88,562.2 686.58,562.2 687.29,562.2 687.99,562.2 688.69,562.2 689.39,562.2 690.09,562.2 690.79,562.2 691.49,562.2 692.19,562.2 692.89,562.2 693.59,562.2 694.29,562.2 694.99,562.2 695.69,562.2 696.39,562.2 697.09,562.2 697.79,562.2 698.49,562.2 699.19,562.2 699.89,562.2 700.59,562.2 701.29,562.2 701.99,562.2 702.69,562.2 703.39,562.2 704.09,562.2 704.79,562.2 705.49,562.2 706.19,562.2 706.89,562.2 707.59,562.2 708.29,562.2 708.99,562.2 709.69,562.2 710.39,562.2 711.09,562.2 711.79,562.2 712.49,562.2 713.19,562.2 713.89,562.2 714.59,562.2 715.29,562.2 715.99,562.2 716.69,562.2 717.39,562.2 718.09,562.2 718.8,562.2 719.5,562.2 720.2,562.2 720.9,562.2 721.6,562.2 722.3,562.2 723,562.2 723.7,562.2 724.4,562.2 725.1,562.2 725.8,562.2 726.5,562.2 727.2,562.2 727.9,562.2 728.6,562.2 729.3,562.2 730,562.2 730.7,562.2 731.4,562.2 732.1,562.2 732.8,562.2 733.5,562.2 734.2,562.2'/>
<polyline stroke='#c40a1c' stroke-dasharray='7.2,6.2' points='420.5,562.2 421.2,562.2 421.9,562.2 422.6,562.2 423.3,562.2 424,562.2 424.7,562.2 425.4,562.2 426.1,562.2 426.8,562.2 427.5,562.2 428.2,562.2 428.9,562.2 429.6,562.2 430.3,562.2 431,562.2 431.7,562.2 432.4,562.2 433.1,562.2 433.8,562.2 434.5,562.2 435.2,562.2 435.9,562.2 436.61,562.2 437.31,562.2 438.01,562.2 438.71,562.2 439.41,562.2 440.11,562.2 440.81,562.2 441.51,562.2 442.21,562.2 442.91,562.2 443.61,562.2 444.31,562.2 445.01,562.2 445.71,562.2 446.41,562.2 447.11,562.2 447.81,562.2 448.51,562.2 449.21,562.2 449.91,562.2 450.61,562.2 451.31,562.2 452.01,562.2 452.71,562.2 453.41,562.2 454.11,562.2 454.81,562.2 455.51,562.2 456.21,562.2 456.91,562.2 457.61,562.2 458.31,562.2 459.01,562.2 459.71,562.2 460.41,562.2 461.11,562.2 461.81,562.2 462.51,562.2 463.21,562.2 463.91,562.2 464.61,562.2 465.31,562.2 466.01,562.2 466.71,562.2 467.41,562.2 468.12,562.2 468.82,562.2 469.52,562.2 470.22,562.2 470.92,562.2 471.62,562.2 472.32,562.2 473.02,562.2 473.72,562.2 474.42,562.2 475.12,562.2 475.82,562.2 476.52,562.2 477.22,562.2 477.92,562.2 478.62,562.2 479.32,562.2 480.02,562.2 480.72,562.2 481.42,562.2 482.12,562.2 482.82,562.2 483.52,562.2 484.22,562.2 484.92,562.2 485.62,562.2 486.32,562.2 487.02,562.2 487.72,562.2 488.42,562.2 489.12,562.2 489.82,562.2 490.52,562.2 491.22,562.2 491.92,562.2 492.62,562.2 493.32,562.2 494.02,562.2 494.72,562.2 495.42,562.2 496.12,562.2 496.82,562.2 497.52,562.2 498.22,562.2 498.93,562.2 499.63,562.2 500.33,562.2 501.03,562.2 501.73,562.2 502.43,562.2 503.13,562.2 503.83,562.2 504.53,562.2 505.23,562.2 505.93,562.2 506.63,562.2 507.33,562.2 508.03,562.2 508.73,562.2 509.43,562.2 510.13,562.2 510.83,562.2 511.53,562.2 512.23,562.2 512.93,562.2 513.63,562.2 514.33,562.2 515.03,562.2 515.73,562.2 516.43,562.2 517.13,562.2 517.83,562.2 518.53,562.2 519.23,562.2 519.93,562.2 520.63,562.2 521.33,562.2 522.03,562.2 522.73,562.2 523.43,562.2 524.13,562.2 524.83,562.2 525.53,562.2 526.23,562.2 526.93,562.2 527.63,562.2 528.33,562.2 529.03,562.2 529.73,562.2 530.44,562.2 531.14,562.2 531.84,562.2 532.54,562.2 533.24,562.2 533.94,562.2 534.64,562.2 535.34,562.2 536.04,562.2 536.74,562.2 537.44,562.2 538.14,562.2 538.84,562.2 539.54,562.2 540.24,562.2 540.94,562.2 541.64,562.2 542.34,562.2 543.04,562.2 543.74,562.2 544.44,562.2 545.14,562.2 545.84,562.2 546.54,562.2 547.24,562.2 547.94,562.2 548.64,562.2 549.34,562.2 550.04,562.2 550.74,562.2 551.44,562.2 552.14,562.2 552.84,562.2 553.54,562.2 554.24,562.2 554.94,562.2 555.64,562.2 556.34,562.2 557.04,562.2 557.74,562.2 558.44,562.2 559.14,562.2 559.84,562.2 560.54,562.2 561.24,562.2 561.95,562.2 562.65,562.2 563.35,562.2 564.05,562.2 564.75,562.2 565.45,562.2 566.15,562.2 566.85,562.2 567.55,562.2 568.25,562.2 568.95,562.2 569.65,562.2 570.35,562.2 571.05,562.2 571.75,562.2 572.45,562.2 573.15,562.2 573.85,562.2 574.55,562.2 575.25,562.2 575.95,562.2 576.65,562.2 577.35,562.2 578.05,562.2 578.75,562.2 579.45,562.2 580.15,562.2 580.85,562.2 581.55,562.2 582.25,562.2 582.95,562.2 583.65,562.2 584.35,562.2 585.05,562.2 585.75,562.2 586.45,562.2 587.15,562.2 587.85,562.2 588.55,562.2 589.25,562.2 589.95,562.2 590.65,562.2 591.35,562.2 592.05,562.2 592.75,562.2 593.46,562.19 594.16,562.19 594.86,562.18 595.56,562.18 596.26,562.16 596.96,562.14 597.66,562.11 598.36,562.07 599.06,562.01 599.76,561.92 600.46,561.79 601.16,561.62 601.86,561.39 602.56,561.08 603.26,560.68 603.96,560.16 604.66,559.5 605.36,558.68 606.06,557.65 606.76,556.36 607.46,554.77 608.16,552.8 608.86,550.39 609.56,547.48 610.26,544.01 610.96,539.93 611.66,535.18 612.36,529.75 613.06,523.62 613.76,516.8 614.46,509.33 615.16,501.27 615.86,492.73 616.56,483.84 617.26,474.75 617.96,465.65 618.66,456.75 619.36,448.26 620.06,440.43 620.76,433.45 621.46,427.55 622.16,422.9 622.86,419.65 623.56,417.9 624.26,417.71 624.97,419.09 625.67,421.98 626.37,426.3 627.07,431.91 627.77,438.64 628.47,446.29 629.17,454.64 629.87,463.45 630.57,472.53 631.27,481.64 631.97,490.59 632.67,499.23 633.37,507.42 634.07,515.04 634.77,522.02 635.47,528.32 636.17,533.93 636.87,538.84 637.57,543.08 638.27,546.69 638.97,549.73 639.67,552.26 640.37,554.33 641.07,556.01 641.77,557.36 642.47,558.45 643.17,559.32 643.87,560.01 644.57,560.56 645.27,560.99 645.97,561.32 646.67,561.57 647.37,561.75 648.07,561.89 648.77,561.99 649.47,562.05 650.17,562.1 650.87,562.14 651.57,562.16 652.27,562.17 652.97,562.18 653.67,562.19 654.37,562.19 655.07,562.2 655.78,562.2 656.48,562.2 657.18,562.2 657.88,562.2 658.58,562.2 659.28,562.2 659.98,562.2 660.68,562.2 661.38,562.2 662.08,562.2 662.78,562.2 663.48,562.2 664.18,562.2 664.88,562.2 665.58,562.2 666.28,562.2 666.98,562.2 667.68,562.2 668.38,562.2 669.08,562.2 669.78,562.2 670.48,562.2 671.18,562.2 671.88,562.2 672.58,562.2 673.28,562.2 673.98,562.2 674.68,562.2 675.38,562.2 676.08,562.2 676.78,562.2 677.48,562.2 678.18,562.2 678.88,562.2 679.58,562.2 680.28,562.2 680.98,562.2 681.68,562.2 682.38,562.2 683.08,562.2 683.78,562.2 684.48,562.2 685.18,562.2 685.88,562.2 686.58,562.2 687.29,562.2 687.99,562.2 688.69,562.2 689.39,562.2 690.09,562.2 690.79,562.2 691.49,562.2 692.19,562.2 692.89,562.2 693.59,562.2 694.29,562.2 694.99,562.2 695.69,562.2 696.39,562.2 697.09,562.2 697.79,562.2 698.49,562.2 699.19,562.2 699.89,562.2 700.59,562.2 701.29,562.2 701.99,562.2 702.69,562.2 703.39,562.2 704.09,562.2 704.79,562.2 705.49,562.2 706.19,562.2 706.89,562.2 707.59,562.2 708.29,562.2 708.99,562.2 709.69,562.2 710.39,562.2 711.09,562.2 711.79,562.2 712.49,562.2 713.19,562.2 713.89,562.2 714.59,562.2 715.29,562.2 715.99,562.2 716.69,562.2 717.39,562.2 718.09,562.2 718.8,562.2 719.5,562.2 720.2,562.2 720.9,562.2 721.6,562.2 722.3,562.2 723,562.2 723.7,562.2 724.4,562.2 725.1,562.2 725.8,562.2 726.5,562.2 727.2,562.2 727.9,562.2 728.6,562.2 729.3,562.2 730,562.2 730.7,562.2 731.4,562.2 732.1,562.2 732.8,562.2 733.5,562.2 734.2,562.2'/>
<polyline stroke='#c40a1c' stroke-dasharray='3.2,2.2' points='420.5,562.2 421.2,562.2 421.9,562.2 422.6,562.2 423.3,562.2 424,562.2 424.7,562.2 425.4,562.2 426.1,562.2 426.8,562.2 427.5,562.2 428.2,562.2 428.9,562.2 429.6,562.2 430.3,562.2 431,562.2 431.7,562.2 432.4,562.2 433.1,562.2 433.8,562.2 434.5,562.2 435.2,562.2 435.9,562.2 436.61,562.2 437.31,562.2 438.01,562.2 438.71,562.2 439.41,562.2 440.11,562.2 440.81,562.2 441.51,562.2 442.21,562.2 442.91,562.2 443.61,562.2 444.31,562.2 445.01,562.2 445.71,562.2 446.41,562.2 447.11,562.2 447.81,562.2 448.51,562.2 449.21,562.2 449.91,562.2 450.61,562.2 451.31,562.2 452.01,562.2 452.71,562.2 453.41,562.2 454.11,562.2 454.81,562.2 455.51,562.2 456.21,562.2 456.91,562.2 457.61,562.2 458.31,562.2 459.01,562.2 459.71,562.2 460.41,562.2 461.11,562.2 461.81,562.2 462.51,562.2 463.21,562.2 463.91,562.2 464.61,562.2 465.31,562.2 466.01,562.2 466.71,562.2 467.41,562.2 468.12,562.2 468.82,562.2 469.52,562.2 470.22,562.2 470.92,562.2 471.62,562.2 472.32,562.2 473.02,562.2 473.72,562.2 474.42,562.2 475.12,562.2 475.82,562.2 476.52,562.2 477.22,562.2 477.92,562.2 478.62,562.2 479.32,562.2 480.02,562.2 480.72,562.2 481.42,562.2 482.12,562.2 482.82,562.2 483.52,562.2 484.22,562.2 484.92,562.2 485.62,562.2 486.32,562.2 487.02,562.2 487.72,562.2 488.42,562.2 489.12,562.2 489.82,562.2 490.52,562.2 491.22,562.2 491.92,562.2 492.62,562.2 493.32,562.2 494.02,562.2 494.72,562.2 495.42,562.2 496.12,562.2 496.82,562.2 497.52,562.2 498.22,562.2 498.93,562.2 499.63,562.2 500.33,562.2 501.03,562.2 501.73,562.2 502.43,562.2 503.13,562.2 503.83,562.2 504.53,562.2 505.23,562.2 505.93,562.2 506.63,562.2 507.33,562.2 508.03,562.2 508.73,562.2 509.43,562.2 510.13,562.2 510.83,562.2 511.53,562.2 512.23,562.2 512.93,562.2 513.63,562.2 514.33,562.2 515.03,562.2 515.73,562.2 516.43,562.2 517.13,562.2 517.83,562.2 518.53,562.2 519.23,562.2 519.93,562.2 520.63,562.2 521.33,562.2 522.03,562.2 522.73,562.2 523.43,562.2 524.13,562.2 524.83,562.2 525.53,562.2 526.23,562.2 526.93,562.2 527.63,562.2 528.33,562.2 529.03,562.2 529.73,562.2 530.44,562.2 531.14,562.2 531.84,562.2 532.54,562.2 533.24,562.2 533.94,562.2 534.64,562.2 535.34,562.2 536.04,562.2 536.74,562.2 537.44,562.2 538.14,562.2 538.84,562.2 539.54,562.2 540.24,562.2 540.94,562.2 541.64,562.2 542.34,562.2 543.04,562.2 543.74,562.2 544.44,562.2 545.14,562.2 545.84,562.2 546.54,562.2 547.24,562.2 547.94,562.2 548.64,562.2 549.34,562.2 550.04,562.2 550.74,562.2 551.44,562.2 552.14,562.2 552.84,562.2 553.54,562.2 554.24,562.2 554.94,562.2 555.64,562.2 556.34,562.2 557.04,562.2 557.74,562.2 558.44,562.2 559.14,562.2 559.84,562.2 560.54,562.2 561.24,562.2 561.95,562.2 562.65,562.2 563.35,562.2 564.05,562.2 564.75,562.2 565.45,562.2 566.15,562.2 566.85,562.2 567.55,562.2 568.25,562.2 568.95,562.2 569.65,562.2 570.35,562.2 571.05,562.2 571.75,562.2 572.45,562.2 573.15,562.2 573.85,562.2 574.55,562.2 575.25,562.2 575.95,562.2 576.65,562.2 577.35,562.2 578.05,562.2 578.75,562.2 579.45,562.2 580.15,562.2 580.85,562.2 581.55,562.2 582.25,562.2 582.95,562.2 583.65,562.2 584.35,562.2 585.05,562.2 585.75,562.2 586.45,562.2 587.15,562.2 587.85,562.2 588.55,562.2 589.25,562.2 589.95,562.2 590.65,562.2 591.35,562.2 592.05,562.2 592.75,562.19 593.46,562.19 594.16,562.18 594.86,562.17 595.56,562.16 596.26,562.14 596.96,562.11 597.66,562.06 598.36,562 599.06,561.9 599.76,561.78 600.46,561.6 601.16,561.36 601.86,561.04 602.56,560.63 603.26,560.1 603.96,559.43 604.66,558.59 605.36,557.54 606.06,556.23 606.76,554.61 607.46,552.61 608.16,550.17 608.86,547.23 609.56,543.72 610.26,539.6 610.96,534.83 611.66,529.37 612.36,523.23 613.06,516.41 613.76,508.95 614.46,500.94 615.16,492.46 615.86,483.65 616.56,474.67 617.26,465.71 617.96,456.98 618.66,448.69 619.36,441.07 620.06,434.34 620.76,428.68 621.46,424.29 622.16,421.29 622.86,419.78 623.56,419.81 624.26,421.38 624.97,424.44 625.67,428.9 626.37,434.6 627.07,441.37 627.77,449.03 628.47,457.34 629.17,466.08 629.87,475.05 630.57,484.02 631.27,492.82 631.97,501.28 632.67,509.28 633.37,516.71 634.07,523.5 634.77,529.62 635.47,535.04 636.17,539.79 636.87,543.88 637.57,547.36 638.27,550.28 638.97,552.7 639.67,554.69 640.37,556.29 641.07,557.59 641.77,558.63 642.47,559.46 643.17,560.13 643.87,560.65 644.57,561.06 645.27,561.37 645.97,561.61 646.67,561.78 647.37,561.91 648.07,562 648.77,562.06 649.47,562.11 650.17,562.14 650.87,562.16 651.57,562.17 652.27,562.18 652.97,562.19 653.67,562.19 654.37,562.2 655.07,562.2 655.78,562.2 656.48,562.2 657.18,562.2 657.88,562.2 658.58,562.2 659.28,562.2 659.98,562.2 660.68,562.2 661.38,562.2 662.08,562.2 662.78,562.2 663.48,562.2 664.18,562.2 664.88,562.2 665.58,562.2 666.28,562.2 666.98,562.2 667.68,562.2 668.38,562.2 669.08,562.2 669.78,562.2 670.48,562.2 671.18,562.2 671.88,562.2 672.58,562.2 673.28,562.2 673.98,562.2 674.68,562.2 675.38,562.2 676.08,562.2 676.78,562.2 677.48,562.2 678.18,562.2 678.88,562.2 679.58,562.2 680.28,562.2 680.98,562.2 681.68,562.2 682.38,562.2 683.08,562.2 683.78,562.2 684.48,562.2 685.18,562.2 685.88,562.2 686.58,562.2 687.29,562.2 687.99,562.2 688.69,562.2 689.39,562.2 690.09,562.2 690.79,562.2 691.49,562.2 692.19,562.2 692.89,562.2 693.59,562.2 694.29,562.2 694.99,562.2 695.69,562.2 696.39,562.2 697.09,562.2 697.79,562.2 698.49,562.2 699.19,562.2 699.89,562.2 700.59,562.2 701.29,562.2 701.99,562.2 702.69,562.2 703.39,562.2 704.09,562.2 704.79,562.2 705.49,562.2 706.19,562.2 706.89,562.2 707.59,562.2 708.29,562.2 708.99,562.2 709.69,562.2 710.39,562.2 711.09,562.2 711.79,562.2 712.49,562.2 713.19,562.2 713.89,562.2 714.59,562.2 715.29,562.2 715.99,562.2 716.69,562.2 717.39,562.2 718.09,562.2 718.8,562.2 719.5,562.2 720.2,562.2 720.9,562.2 721.6,562.2 722.3,562.2 723,562.2 723.7,562.2 724.4,562.2 725.1,562.2 725.8,562.2 726.5,562.2 727.2,562.2 727.9,562.2 728.6,562.2 729.3,562.2 730,562.2 730.7,562.2 731.4,562.2 732.1,562.2 732.8,562.2 733.5,562.2 734.2,562.2'/>
</g>
<rect x='420.5' y='414.5' width='313.7' height='147.1' fill='none' stroke='#1a1a1a' stroke-width='1.5'/>
<path d='M472.78 561.6v-3.5M472.78 414.5v3.5' stroke='#1a1a1a' stroke-width='1.3'/>
<path d='M525.07 561.6v-3.5M525.07 414.5v3.5' stroke='#1a1a1a' stroke-width='1.3'/>
<path d='M577.35 561.6v-3.5M577.35 414.5v3.5' stroke='#1a1a1a' stroke-width='1.3'/>
<path d='M629.63 561.6v-3.5M629.63 414.5v3.5' stroke='#1a1a1a' stroke-width='1.3'/>
<path d='M681.92 561.6v-3.5M681.92 414.5v3.5' stroke='#1a1a1a' stroke-width='1.3'/>
<path d='M420.5 524.83h3.5M734.2 524.83h-3.5' stroke='#1a1a1a' stroke-width='1.3'/>
<path d='M420.5 488.05h3.5M734.2 488.05h-3.5' stroke='#1a1a1a' stroke-width='1.3'/>
<path d='M420.5 451.28h3.5M734.2 451.28h-3.5' stroke='#1a1a1a' stroke-width='1.3'/>
<text x='431.5' y='576.75' text-anchor='middle'>240</text>
<text x='476.5' y='576.75' text-anchor='middle'>260</text>
<text x='529' y='576.75' text-anchor='middle'>280</text>
<text x='579.3' y='576.75' text-anchor='middle'>300</text>
<text x='631.25' y='576.75' text-anchor='middle'>320</text>
<text x='684.75' y='576.75' text-anchor='middle'>340</text>
<text x='730.1' y='576.75' text-anchor='middle'>360</text>
<text x='412.7' y='565' text-anchor='end'>0</text>
<text x='412.7' y='529.2' text-anchor='end'>0.02</text>
<text x='412.7' y='493.5' text-anchor='end'>0.04</text>
<text x='412.7' y='455' text-anchor='end'>0.06</text>
<text x='412.7' y='422' text-anchor='end'>0.08</text>
<text x='575.9' y='596.3' text-anchor='middle'>ζ (deg.)</text>
<text x='372.25' y='402.2' class='L'>F</text>
<text x='332.6' y='37.75' text-anchor='end'>hybrid-DNA</text>
<line x1='333' x2='364.2' y1='34.6' y2='34.6' stroke='#201585' stroke-width='1.5'/>
<text x='332.6' y='50.25' text-anchor='end'>hybrid-RNA</text>
<line x1='333' x2='364.2' y1='44.0' y2='44.0' stroke='#c40a1c' stroke-width='1.5'/>
<text x='332.6' y='63.2' text-anchor='end'>RNA</text>
<line x1='333' x2='364.2' y1='55.5' y2='55.5' stroke='#c40a1c' stroke-width='1.5' stroke-dasharray='7.2,6.2'/>
<line x1='333' x2='364.2' y1='58.3' y2='58.3' stroke='#c40a1c' stroke-width='1.5' stroke-dasharray='3.2,2.2'/>
<text x='332.6' y='75.7' text-anchor='end'>DNA</text>
<line x1='333' x2='364.2' y1='67.3' y2='67.3' stroke='#201585' stroke-width='1.5' stroke-dasharray='7.2,6.2'/>
<line x1='333' x2='364.2' y1='69.8' y2='69.8' stroke='#201585' stroke-width='1.5' stroke-dasharray='3.2,2.2'/>
</svg>
</body></html>
